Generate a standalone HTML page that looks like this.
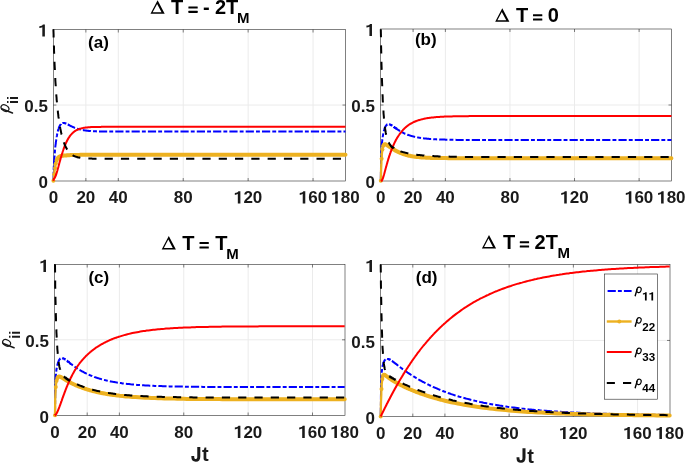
<!DOCTYPE html>
<html><head><meta charset="utf-8"><title>populations</title><style>
html,body{margin:0;padding:0;background:#fff;}
svg{display:block;will-change:transform;}
text{font-family:"Liberation Sans",sans-serif;}
</style></head><body>
<svg width="685" height="464" viewBox="0 0 685 464">
<rect width="685" height="464" fill="#fff"/>
<line x1="85.86" y1="29.50" x2="85.86" y2="181.00" stroke="#ebebeb" stroke-width="1"/>
<line x1="118.31" y1="29.50" x2="118.31" y2="181.00" stroke="#ebebeb" stroke-width="1"/>
<line x1="183.22" y1="29.50" x2="183.22" y2="181.00" stroke="#ebebeb" stroke-width="1"/>
<line x1="248.13" y1="29.50" x2="248.13" y2="181.00" stroke="#ebebeb" stroke-width="1"/>
<line x1="313.04" y1="29.50" x2="313.04" y2="181.00" stroke="#ebebeb" stroke-width="1"/>
<line x1="53.40" y1="105.05" x2="345.50" y2="105.05" stroke="#ebebeb" stroke-width="1"/>
<rect x="53.40" y="29.50" width="292.10" height="151.50" fill="none" stroke="#262626" stroke-width="0.58"/>
<line x1="85.86" y1="181.00" x2="85.86" y2="178.00" stroke="#262626" stroke-width="0.58"/>
<line x1="85.86" y1="29.50" x2="85.86" y2="32.50" stroke="#262626" stroke-width="0.58"/>
<line x1="118.31" y1="181.00" x2="118.31" y2="178.00" stroke="#262626" stroke-width="0.58"/>
<line x1="118.31" y1="29.50" x2="118.31" y2="32.50" stroke="#262626" stroke-width="0.58"/>
<line x1="183.22" y1="181.00" x2="183.22" y2="178.00" stroke="#262626" stroke-width="0.58"/>
<line x1="183.22" y1="29.50" x2="183.22" y2="32.50" stroke="#262626" stroke-width="0.58"/>
<line x1="248.13" y1="181.00" x2="248.13" y2="178.00" stroke="#262626" stroke-width="0.58"/>
<line x1="248.13" y1="29.50" x2="248.13" y2="32.50" stroke="#262626" stroke-width="0.58"/>
<line x1="313.04" y1="181.00" x2="313.04" y2="178.00" stroke="#262626" stroke-width="0.58"/>
<line x1="313.04" y1="29.50" x2="313.04" y2="32.50" stroke="#262626" stroke-width="0.58"/>
<line x1="53.40" y1="105.05" x2="56.40" y2="105.05" stroke="#262626" stroke-width="0.58"/>
<line x1="345.50" y1="105.05" x2="342.50" y2="105.05" stroke="#262626" stroke-width="0.58"/>
<path d="M53.4,180.8 L53.5,176.7 L53.6,173.5 L53.6,170.8 L53.7,168.6 L53.8,166.7 L53.9,165.0 L54.0,163.5 L54.0,162.1 L54.1,160.8 L54.2,159.6 L54.3,158.5 L54.4,157.4 L54.5,156.4 L54.5,155.4 L54.6,154.4 L54.7,153.5 L54.8,152.6 L54.9,151.7 L54.9,150.8 L55.0,150.0 L55.1,149.2 L55.2,148.4 L55.3,147.6 L55.3,146.9 L55.4,146.1 L55.5,145.4 L55.6,144.7 L55.7,144.0 L55.8,143.4 L55.8,142.7 L55.9,142.1 L56.0,141.5 L56.1,140.9 L56.2,140.3 L56.2,139.7 L56.3,139.2 L56.4,138.6 L56.5,138.1 L56.6,137.6 L56.6,137.1 L56.7,136.6 L56.8,136.2 L56.9,135.7 L57.0,135.3 L57.1,134.8 L57.1,134.4 L57.2,134.0 L57.3,133.6 L57.4,133.2 L57.5,132.8 L57.5,132.5 L57.6,132.1 L57.7,131.8 L57.8,131.4 L57.9,131.1 L57.9,130.8 L58.0,130.5 L58.1,130.2 L58.2,129.9 L58.3,129.6 L58.3,129.3 L58.4,129.1 L58.5,128.8 L58.6,128.6 L58.7,128.3 L58.8,128.1 L58.8,127.9 L58.9,127.7 L59.0,127.4 L59.1,127.2 L59.2,127.0 L59.2,126.8 L59.3,126.7 L59.4,126.5 L59.5,126.3 L59.6,126.1 L59.6,126.0 L59.7,125.8 L59.8,125.7 L59.9,125.5 L60.0,125.4 L60.1,125.3 L60.1,125.1 L60.2,125.0 L60.3,124.9 L60.4,124.8 L60.5,124.7 L60.5,124.6 L60.6,124.5 L60.7,124.4 L60.8,124.3 L60.9,124.2 L60.9,124.1 L61.0,124.0 L61.1,123.9 L61.2,123.9 L61.3,123.8 L61.4,123.7 L61.4,123.7 L61.5,123.6 L61.6,123.6 L61.7,123.5 L61.8,123.4 L61.8,123.4 L61.9,123.4 L62.0,123.3 L62.1,123.3 L62.2,123.2 L62.2,123.2 L62.3,123.2 L62.4,123.2 L62.5,123.1 L62.6,123.1 L62.6,123.1 L62.7,123.1 L62.8,123.0 L62.9,123.0 L63.0,123.0 L63.1,123.0 L63.1,123.0 L63.2,123.0 L63.3,123.0 L63.4,123.0 L63.5,123.0 L63.5,123.0 L63.6,123.0 L63.7,123.0 L63.8,123.0 L63.9,123.0 L63.9,123.0 L64.0,123.0 L64.1,123.0 L64.2,123.0 L64.3,123.1 L64.4,123.1 L64.4,123.1 L64.5,123.1 L64.6,123.1 L64.7,123.1 L64.8,123.2 L64.8,123.2 L64.9,123.2 L65.0,123.2 L65.1,123.3 L65.2,123.3 L65.2,123.3 L65.3,123.3 L65.4,123.4 L65.5,123.4 L65.6,123.4 L65.7,123.4 L65.7,123.5 L65.8,123.5 L65.9,123.5 L66.0,123.6 L66.1,123.6 L66.1,123.6 L66.2,123.7 L66.3,123.7 L66.4,123.7 L66.5,123.8 L66.5,123.8 L66.6,123.8 L66.7,123.9 L66.8,123.9 L66.9,124.0 L67.0,124.0 L67.0,124.0 L67.1,124.1 L67.2,124.1 L67.3,124.2 L67.4,124.2 L67.4,124.2 L67.5,124.3 L67.6,124.3 L67.7,124.4 L67.8,124.4 L67.8,124.4 L67.9,124.5 L68.0,124.5 L68.1,124.6 L68.2,124.6 L68.2,124.6 L68.3,124.7 L68.4,124.7 L68.5,124.8 L68.6,124.8 L68.7,124.9 L68.7,124.9 L68.8,124.9 L68.9,125.0 L69.0,125.0 L69.1,125.1 L69.1,125.1 L69.2,125.2 L69.3,125.2 L69.4,125.2 L69.5,125.3 L69.5,125.3 L69.6,125.4 L70.0,125.6 L70.4,125.8 L70.8,126.0 L71.3,126.2 L71.7,126.4 L72.1,126.6 L72.5,126.8 L72.9,127.0 L73.3,127.2 L73.7,127.4 L74.1,127.5 L74.5,127.7 L74.9,127.9 L75.3,128.0 L75.7,128.2 L76.1,128.3 L76.5,128.5 L76.9,128.6 L77.3,128.7 L77.7,128.9 L78.1,129.0 L78.6,129.1 L79.0,129.2 L79.4,129.3 L79.8,129.4 L80.2,129.5 L80.6,129.6 L81.0,129.7 L81.4,129.8 L81.8,129.9 L82.2,130.0 L82.6,130.1 L83.0,130.1 L83.4,130.2 L83.8,130.3 L84.2,130.3 L84.6,130.4 L85.0,130.5 L85.4,130.5 L85.9,130.6 L86.3,130.6 L86.7,130.7 L87.1,130.7 L87.5,130.8 L87.9,130.8 L88.3,130.8 L88.7,130.9 L89.1,130.9 L89.5,130.9 L89.9,131.0 L90.3,131.0 L90.7,131.0 L91.1,131.1 L91.5,131.1 L91.9,131.1 L92.3,131.1 L92.8,131.2 L93.2,131.2 L93.6,131.2 L94.0,131.2 L94.4,131.3 L94.8,131.3 L95.2,131.3 L95.6,131.3 L96.0,131.3 L96.4,131.3 L96.8,131.4 L97.2,131.4 L97.6,131.4 L98.0,131.4 L98.4,131.4 L98.8,131.4 L99.2,131.4 L99.6,131.4 L100.1,131.4 L100.5,131.5 L100.9,131.5 L101.3,131.5 L101.7,131.5 L102.1,131.5 L102.5,131.5 L102.9,131.5 L103.3,131.5 L103.7,131.5 L104.1,131.5 L104.5,131.5 L104.9,131.5 L105.3,131.5 L105.7,131.5 L106.1,131.5 L106.5,131.6 L107.0,131.6 L107.4,131.6 L107.8,131.6 L108.2,131.6 L108.6,131.6 L109.0,131.6 L109.4,131.6 L109.8,131.6 L110.2,131.6 L110.6,131.6 L111.0,131.6 L111.4,131.6 L111.8,131.6 L112.2,131.6 L112.6,131.6 L113.0,131.6 L113.4,131.6 L113.8,131.6 L114.3,131.6 L114.7,131.6 L115.1,131.6 L115.5,131.6 L115.9,131.6 L116.3,131.6 L116.7,131.6 L117.1,131.6 L117.5,131.6 L117.9,131.6 L118.3,131.6 L119.9,131.6 L121.6,131.6 L123.2,131.6 L124.8,131.6 L126.4,131.6 L128.0,131.6 L129.7,131.6 L131.3,131.6 L132.9,131.6 L134.5,131.6 L136.2,131.6 L137.8,131.6 L139.4,131.6 L141.0,131.6 L142.7,131.6 L144.3,131.6 L145.9,131.6 L147.5,131.6 L149.1,131.6 L150.8,131.6 L152.4,131.6 L154.0,131.6 L155.6,131.6 L157.3,131.6 L158.9,131.6 L160.5,131.6 L162.1,131.6 L163.7,131.6 L165.4,131.6 L167.0,131.6 L168.6,131.6 L170.2,131.6 L171.9,131.6 L173.5,131.6 L175.1,131.6 L176.7,131.6 L178.4,131.6 L180.0,131.6 L181.6,131.6 L183.2,131.6 L184.8,131.6 L186.5,131.6 L188.1,131.6 L189.7,131.6 L191.3,131.6 L193.0,131.6 L194.6,131.6 L196.2,131.6 L197.8,131.6 L199.5,131.6 L201.1,131.6 L202.7,131.6 L204.3,131.6 L205.9,131.6 L207.6,131.6 L209.2,131.6 L210.8,131.6 L212.4,131.6 L214.1,131.6 L215.7,131.6 L217.3,131.6 L218.9,131.6 L220.5,131.6 L222.2,131.6 L223.8,131.6 L225.4,131.6 L227.0,131.6 L228.7,131.6 L230.3,131.6 L231.9,131.6 L233.5,131.6 L235.2,131.6 L236.8,131.6 L238.4,131.6 L240.0,131.6 L241.6,131.6 L243.3,131.6 L244.9,131.6 L246.5,131.6 L248.1,131.6 L249.8,131.6 L251.4,131.6 L253.0,131.6 L254.6,131.6 L256.2,131.6 L257.9,131.6 L259.5,131.6 L261.1,131.6 L262.7,131.6 L264.4,131.6 L266.0,131.6 L267.6,131.6 L269.2,131.6 L270.9,131.6 L272.5,131.6 L274.1,131.6 L275.7,131.6 L277.3,131.6 L279.0,131.6 L280.6,131.6 L282.2,131.6 L283.8,131.6 L285.5,131.6 L287.1,131.6 L288.7,131.6 L290.3,131.6 L291.9,131.6 L293.6,131.6 L295.2,131.6 L296.8,131.6 L298.4,131.6 L300.1,131.6 L301.7,131.6 L303.3,131.6 L304.9,131.6 L306.6,131.6 L308.2,131.6 L309.8,131.6 L311.4,131.6 L313.0,131.6 L314.7,131.6 L316.3,131.6 L317.9,131.6 L319.5,131.6 L321.2,131.6 L322.8,131.6 L324.4,131.6 L326.0,131.6 L327.6,131.6 L329.3,131.6 L330.9,131.6 L332.5,131.6 L334.1,131.6 L335.8,131.6 L337.4,131.6 L339.0,131.6 L340.6,131.6 L342.3,131.6 L343.9,131.6 L345.5,131.6" stroke="#0000FF" stroke-width="2" stroke-dasharray="8.2 2.1 3.9 2.1" stroke-dashoffset="-0.8" fill="none"/>
<path d="M53.4,180.8 L53.5,180.3 L53.6,179.7 L53.6,179.1 L53.7,178.4 L53.8,177.8 L53.9,177.1 L54.0,176.4 L54.0,175.7 L54.1,175.0 L54.2,174.3 L54.3,173.6 L54.4,172.9 L54.5,172.3 L54.5,171.6 L54.6,171.0 L54.7,170.3 L54.8,169.7 L54.9,169.1 L54.9,168.6 L55.0,168.0 L55.1,167.5 L55.2,166.9 L55.3,166.4 L55.3,166.0 L55.4,165.5 L55.5,165.0 L55.6,164.6 L55.7,164.2 L55.8,163.8 L55.8,163.4 L55.9,163.0 L56.0,162.7 L56.1,162.4 L56.2,162.1 L56.2,161.7 L56.3,161.5 L56.4,161.2 L56.5,160.9 L56.6,160.7 L56.6,160.4 L56.7,160.2 L56.8,160.0 L56.9,159.8 L57.0,159.6 L57.1,159.4 L57.1,159.2 L57.2,159.0 L57.3,158.9 L57.4,158.7 L57.5,158.6 L57.5,158.4 L57.6,158.3 L57.7,158.2 L57.8,158.1 L57.9,157.9 L57.9,157.8 L58.0,157.7 L58.1,157.6 L58.2,157.5 L58.3,157.5 L58.3,157.4 L58.4,157.3 L58.5,157.2 L58.6,157.1 L58.7,157.1 L58.8,157.0 L58.8,157.0 L58.9,156.9 L59.0,156.8 L59.1,156.8 L59.2,156.7 L59.2,156.7 L59.3,156.6 L59.4,156.6 L59.5,156.6 L59.6,156.5 L59.6,156.5 L59.7,156.4 L59.8,156.4 L59.9,156.4 L60.0,156.3 L60.1,156.3 L60.1,156.3 L60.2,156.2 L60.3,156.2 L60.4,156.2 L60.5,156.2 L60.5,156.1 L60.6,156.1 L60.7,156.1 L60.8,156.1 L60.9,156.1 L60.9,156.0 L61.0,156.0 L61.1,156.0 L61.2,156.0 L61.3,156.0 L61.4,155.9 L61.4,155.9 L61.5,155.9 L61.6,155.9 L61.7,155.9 L61.8,155.9 L61.8,155.9 L61.9,155.8 L62.0,155.8 L62.1,155.8 L62.2,155.8 L62.2,155.8 L62.3,155.8 L62.4,155.8 L62.5,155.8 L62.6,155.7 L62.6,155.7 L62.7,155.7 L62.8,155.7 L62.9,155.7 L63.0,155.7 L63.1,155.7 L63.1,155.7 L63.2,155.7 L63.3,155.6 L63.4,155.6 L63.5,155.6 L63.5,155.6 L63.6,155.6 L63.7,155.6 L63.8,155.6 L63.9,155.6 L63.9,155.6 L64.0,155.6 L64.1,155.6 L64.2,155.6 L64.3,155.5 L64.4,155.5 L64.4,155.5 L64.5,155.5 L64.6,155.5 L64.7,155.5 L64.8,155.5 L64.8,155.5 L64.9,155.5 L65.0,155.5 L65.1,155.5 L65.2,155.5 L65.2,155.5 L65.3,155.5 L65.4,155.4 L65.5,155.4 L65.6,155.4 L65.7,155.4 L65.7,155.4 L65.8,155.4 L65.9,155.4 L66.0,155.4 L66.1,155.4 L66.1,155.4 L66.2,155.4 L66.3,155.4 L66.4,155.4 L66.5,155.4 L66.5,155.4 L66.6,155.4 L66.7,155.3 L66.8,155.3 L66.9,155.3 L67.0,155.3 L67.0,155.3 L67.1,155.3 L67.2,155.3 L67.3,155.3 L67.4,155.3 L67.4,155.3 L67.5,155.3 L67.6,155.3 L67.7,155.3 L67.8,155.3 L67.8,155.3 L67.9,155.3 L68.0,155.3 L68.1,155.3 L68.2,155.3 L68.2,155.2 L68.3,155.2 L68.4,155.2 L68.5,155.2 L68.6,155.2 L68.7,155.2 L68.7,155.2 L68.8,155.2 L68.9,155.2 L69.0,155.2 L69.1,155.2 L69.1,155.2 L69.2,155.2 L69.3,155.2 L69.4,155.2 L69.5,155.2 L69.5,155.2 L69.6,155.2 L70.0,155.2 L70.4,155.1 L70.8,155.1 L71.3,155.1 L71.7,155.1 L72.1,155.1 L72.5,155.0 L72.9,155.0 L73.3,155.0 L73.7,155.0 L74.1,155.0 L74.5,155.0 L74.9,155.0 L75.3,155.0 L75.7,154.9 L76.1,154.9 L76.5,154.9 L76.9,154.9 L77.3,154.9 L77.7,154.9 L78.1,154.9 L78.6,154.9 L79.0,154.9 L79.4,154.9 L79.8,154.8 L80.2,154.8 L80.6,154.8 L81.0,154.8 L81.4,154.8 L81.8,154.8 L82.2,154.8 L82.6,154.8 L83.0,154.8 L83.4,154.8 L83.8,154.8 L84.2,154.8 L84.6,154.8 L85.0,154.8 L85.4,154.8 L85.9,154.8 L86.3,154.8 L86.7,154.8 L87.1,154.8 L87.5,154.7 L87.9,154.7 L88.3,154.7 L88.7,154.7 L89.1,154.7 L89.5,154.7 L89.9,154.7 L90.3,154.7 L90.7,154.7 L91.1,154.7 L91.5,154.7 L91.9,154.7 L92.3,154.7 L92.8,154.7 L93.2,154.7 L93.6,154.7 L94.0,154.7 L94.4,154.7 L94.8,154.7 L95.2,154.7 L95.6,154.7 L96.0,154.7 L96.4,154.7 L96.8,154.7 L97.2,154.7 L97.6,154.7 L98.0,154.7 L98.4,154.7 L98.8,154.7 L99.2,154.7 L99.6,154.7 L100.1,154.7 L100.5,154.7 L100.9,154.7 L101.3,154.7 L101.7,154.7 L102.1,154.7 L102.5,154.7 L102.9,154.7 L103.3,154.7 L103.7,154.7 L104.1,154.7 L104.5,154.7 L104.9,154.7 L105.3,154.7 L105.7,154.7 L106.1,154.7 L106.5,154.7 L107.0,154.7 L107.4,154.7 L107.8,154.7 L108.2,154.7 L108.6,154.7 L109.0,154.7 L109.4,154.7 L109.8,154.7 L110.2,154.7 L110.6,154.7 L111.0,154.7 L111.4,154.7 L111.8,154.7 L112.2,154.7 L112.6,154.7 L113.0,154.7 L113.4,154.7 L113.8,154.7 L114.3,154.7 L114.7,154.7 L115.1,154.7 L115.5,154.7 L115.9,154.7 L116.3,154.7 L116.7,154.7 L117.1,154.7 L117.5,154.7 L117.9,154.7 L118.3,154.7 L119.9,154.7 L121.6,154.7 L123.2,154.7 L124.8,154.7 L126.4,154.7 L128.0,154.7 L129.7,154.7 L131.3,154.7 L132.9,154.7 L134.5,154.7 L136.2,154.7 L137.8,154.7 L139.4,154.7 L141.0,154.7 L142.7,154.7 L144.3,154.7 L145.9,154.7 L147.5,154.7 L149.1,154.7 L150.8,154.7 L152.4,154.7 L154.0,154.7 L155.6,154.7 L157.3,154.7 L158.9,154.7 L160.5,154.7 L162.1,154.7 L163.7,154.7 L165.4,154.7 L167.0,154.7 L168.6,154.7 L170.2,154.7 L171.9,154.7 L173.5,154.7 L175.1,154.7 L176.7,154.7 L178.4,154.7 L180.0,154.7 L181.6,154.7 L183.2,154.7 L184.8,154.7 L186.5,154.7 L188.1,154.7 L189.7,154.7 L191.3,154.7 L193.0,154.7 L194.6,154.7 L196.2,154.7 L197.8,154.7 L199.5,154.7 L201.1,154.7 L202.7,154.7 L204.3,154.7 L205.9,154.7 L207.6,154.7 L209.2,154.7 L210.8,154.7 L212.4,154.7 L214.1,154.7 L215.7,154.7 L217.3,154.7 L218.9,154.7 L220.5,154.7 L222.2,154.7 L223.8,154.7 L225.4,154.7 L227.0,154.7 L228.7,154.7 L230.3,154.7 L231.9,154.7 L233.5,154.7 L235.2,154.7 L236.8,154.7 L238.4,154.7 L240.0,154.7 L241.6,154.7 L243.3,154.7 L244.9,154.7 L246.5,154.7 L248.1,154.7 L249.8,154.7 L251.4,154.7 L253.0,154.7 L254.6,154.7 L256.2,154.7 L257.9,154.7 L259.5,154.7 L261.1,154.7 L262.7,154.7 L264.4,154.7 L266.0,154.7 L267.6,154.7 L269.2,154.7 L270.9,154.7 L272.5,154.7 L274.1,154.7 L275.7,154.7 L277.3,154.7 L279.0,154.7 L280.6,154.7 L282.2,154.7 L283.8,154.7 L285.5,154.7 L287.1,154.7 L288.7,154.7 L290.3,154.7 L291.9,154.7 L293.6,154.7 L295.2,154.7 L296.8,154.7 L298.4,154.7 L300.1,154.7 L301.7,154.7 L303.3,154.7 L304.9,154.7 L306.6,154.7 L308.2,154.7 L309.8,154.7 L311.4,154.7 L313.0,154.7 L314.7,154.7 L316.3,154.7 L317.9,154.7 L319.5,154.7 L321.2,154.7 L322.8,154.7 L324.4,154.7 L326.0,154.7 L327.6,154.7 L329.3,154.7 L330.9,154.7 L332.5,154.7 L334.1,154.7 L335.8,154.7 L337.4,154.7 L339.0,154.7 L340.6,154.7 L342.3,154.7 L343.9,154.7 L345.5,154.7" stroke="#EDB120" stroke-width="2.3" stroke-linejoin="round" stroke-linecap="round" fill="none"/><circle cx="53.40" cy="180.80" r="2.0" fill="#EDB120"/><circle cx="54.21" cy="174.30" r="2.0" fill="#EDB120"/><circle cx="55.02" cy="168.00" r="2.0" fill="#EDB120"/><circle cx="55.83" cy="163.41" r="2.0" fill="#EDB120"/><path d="M56.6,160.4 L56.8,160.0 L57.0,159.6 L57.1,159.2 L57.3,158.9 L57.5,158.6 L57.6,158.3 L57.8,158.1 L57.9,157.8 L58.1,157.6 L58.3,157.5 L58.4,157.3 L58.6,157.1 L58.8,157.0 L58.9,156.9 L59.1,156.8 L59.2,156.7 L59.4,156.6 L59.6,156.5 L59.7,156.4 L59.9,156.4 L60.1,156.3 L60.2,156.2 L60.4,156.2 L60.5,156.1 L60.7,156.1 L60.9,156.1 L61.0,156.0 L61.2,156.0 L61.4,155.9 L61.5,155.9 L61.7,155.9 L61.8,155.9 L62.0,155.8 L62.2,155.8 L62.3,155.8 L62.5,155.8 L62.6,155.7 L62.8,155.7 L63.0,155.7 L63.1,155.7 L63.3,155.6 L63.5,155.6 L63.6,155.6 L63.8,155.6 L63.9,155.6 L64.1,155.6 L64.3,155.5 L64.4,155.5 L64.6,155.5 L64.8,155.5 L64.9,155.5 L65.1,155.5 L65.2,155.5 L65.4,155.4 L65.6,155.4 L65.7,155.4 L65.9,155.4 L66.1,155.4 L66.2,155.4 L66.4,155.4 L66.5,155.4 L66.7,155.3 L66.9,155.3 L67.0,155.3 L67.2,155.3 L67.4,155.3 L67.5,155.3 L67.7,155.3 L67.8,155.3 L68.0,155.3 L68.2,155.3 L68.3,155.2 L68.5,155.2 L68.7,155.2 L68.8,155.2 L69.0,155.2 L69.1,155.2 L69.3,155.2 L69.5,155.2 L69.6,155.2 L70.4,155.1 L71.3,155.1 L72.1,155.1 L72.9,155.0 L73.7,155.0 L74.5,155.0 L75.3,155.0 L76.1,154.9 L76.9,154.9 L77.7,154.9 L78.6,154.9 L79.4,154.9 L80.2,154.8 L81.0,154.8 L81.8,154.8 L82.6,154.8 L83.4,154.8 L84.2,154.8 L85.0,154.8 L85.9,154.8 L86.7,154.8 L87.5,154.7 L88.3,154.7 L89.1,154.7 L89.9,154.7 L90.7,154.7 L91.5,154.7 L92.3,154.7 L93.2,154.7 L94.0,154.7 L94.8,154.7 L95.6,154.7 L96.4,154.7 L97.2,154.7 L98.0,154.7 L98.8,154.7 L99.6,154.7 L100.5,154.7 L101.3,154.7 L102.1,154.7 L102.9,154.7 L103.7,154.7 L104.5,154.7 L105.3,154.7 L106.1,154.7 L107.0,154.7 L107.8,154.7 L108.6,154.7 L109.4,154.7 L110.2,154.7 L111.0,154.7 L111.8,154.7 L112.6,154.7 L113.4,154.7 L114.3,154.7 L115.1,154.7 L115.9,154.7 L116.7,154.7 L117.5,154.7 L118.3,154.7 L121.6,154.7 L124.8,154.7 L128.0,154.7 L131.3,154.7 L134.5,154.7 L137.8,154.7 L141.0,154.7 L144.3,154.7 L147.5,154.7 L150.8,154.7 L154.0,154.7 L157.3,154.7 L160.5,154.7 L163.7,154.7 L167.0,154.7 L170.2,154.7 L173.5,154.7 L176.7,154.7 L180.0,154.7 L183.2,154.7 L186.5,154.7 L189.7,154.7 L193.0,154.7 L196.2,154.7 L199.5,154.7 L202.7,154.7 L205.9,154.7 L209.2,154.7 L212.4,154.7 L215.7,154.7 L218.9,154.7 L222.2,154.7 L225.4,154.7 L228.7,154.7 L231.9,154.7 L235.2,154.7 L238.4,154.7 L241.6,154.7 L244.9,154.7 L248.1,154.7 L251.4,154.7 L254.6,154.7 L257.9,154.7 L261.1,154.7 L264.4,154.7 L267.6,154.7 L270.9,154.7 L274.1,154.7 L277.3,154.7 L280.6,154.7 L283.8,154.7 L287.1,154.7 L290.3,154.7 L293.6,154.7 L296.8,154.7 L300.1,154.7 L303.3,154.7 L306.6,154.7 L309.8,154.7 L313.0,154.7 L316.3,154.7 L319.5,154.7 L322.8,154.7 L326.0,154.7 L329.3,154.7 L332.5,154.7 L335.8,154.7 L339.0,154.7 L342.3,154.7 L345.5,154.7" stroke="#EDB120" stroke-width="4.0" stroke-linejoin="round" stroke-linecap="round" fill="none"/>
<path d="M53.4,180.8 L53.5,180.2 L53.6,179.7 L53.6,179.4 L53.7,179.2 L53.8,179.0 L53.9,178.9 L54.0,178.8 L54.0,178.7 L54.1,178.6 L54.2,178.5 L54.3,178.4 L54.4,178.3 L54.5,178.2 L54.5,178.1 L54.6,178.0 L54.7,177.9 L54.8,177.7 L54.9,177.6 L54.9,177.5 L55.0,177.3 L55.1,177.1 L55.2,177.0 L55.3,176.8 L55.3,176.6 L55.4,176.4 L55.5,176.2 L55.6,176.0 L55.7,175.8 L55.8,175.6 L55.8,175.4 L55.9,175.2 L56.0,175.0 L56.1,174.7 L56.2,174.5 L56.2,174.2 L56.3,174.0 L56.4,173.7 L56.5,173.5 L56.6,173.2 L56.6,173.0 L56.7,172.7 L56.8,172.4 L56.9,172.2 L57.0,171.9 L57.1,171.6 L57.1,171.3 L57.2,171.1 L57.3,170.8 L57.4,170.5 L57.5,170.2 L57.5,169.9 L57.6,169.6 L57.7,169.3 L57.8,169.0 L57.9,168.7 L57.9,168.4 L58.0,168.1 L58.1,167.9 L58.2,167.6 L58.3,167.3 L58.3,167.0 L58.4,166.7 L58.5,166.3 L58.6,166.0 L58.7,165.7 L58.8,165.4 L58.8,165.1 L58.9,164.8 L59.0,164.5 L59.1,164.2 L59.2,163.9 L59.2,163.6 L59.3,163.3 L59.4,163.0 L59.5,162.7 L59.6,162.4 L59.6,162.1 L59.7,161.8 L59.8,161.5 L59.9,161.2 L60.0,160.9 L60.1,160.6 L60.1,160.3 L60.2,160.0 L60.3,159.8 L60.4,159.5 L60.5,159.2 L60.5,158.9 L60.6,158.6 L60.7,158.3 L60.8,158.0 L60.9,157.7 L60.9,157.5 L61.0,157.2 L61.1,156.9 L61.2,156.6 L61.3,156.3 L61.4,156.1 L61.4,155.8 L61.5,155.5 L61.6,155.2 L61.7,155.0 L61.8,154.7 L61.8,154.4 L61.9,154.2 L62.0,153.9 L62.1,153.6 L62.2,153.4 L62.2,153.1 L62.3,152.8 L62.4,152.6 L62.5,152.3 L62.6,152.1 L62.6,151.8 L62.7,151.6 L62.8,151.3 L62.9,151.1 L63.0,150.8 L63.1,150.6 L63.1,150.4 L63.2,150.1 L63.3,149.9 L63.4,149.6 L63.5,149.4 L63.5,149.2 L63.6,148.9 L63.7,148.7 L63.8,148.5 L63.9,148.3 L63.9,148.0 L64.0,147.8 L64.1,147.6 L64.2,147.4 L64.3,147.2 L64.4,146.9 L64.4,146.7 L64.5,146.5 L64.6,146.3 L64.7,146.1 L64.8,145.9 L64.8,145.7 L64.9,145.5 L65.0,145.3 L65.1,145.1 L65.2,144.9 L65.2,144.7 L65.3,144.5 L65.4,144.3 L65.5,144.1 L65.6,143.9 L65.7,143.7 L65.7,143.5 L65.8,143.4 L65.9,143.2 L66.0,143.0 L66.1,142.8 L66.1,142.6 L66.2,142.5 L66.3,142.3 L66.4,142.1 L66.5,142.0 L66.5,141.8 L66.6,141.6 L66.7,141.4 L66.8,141.3 L66.9,141.1 L67.0,141.0 L67.0,140.8 L67.1,140.6 L67.2,140.5 L67.3,140.3 L67.4,140.2 L67.4,140.0 L67.5,139.9 L67.6,139.7 L67.7,139.6 L67.8,139.4 L67.8,139.3 L67.9,139.1 L68.0,139.0 L68.1,138.9 L68.2,138.7 L68.2,138.6 L68.3,138.4 L68.4,138.3 L68.5,138.2 L68.6,138.0 L68.7,137.9 L68.7,137.8 L68.8,137.7 L68.9,137.5 L69.0,137.4 L69.1,137.3 L69.1,137.2 L69.2,137.0 L69.3,136.9 L69.4,136.8 L69.5,136.7 L69.5,136.6 L69.6,136.5 L70.0,135.9 L70.4,135.4 L70.8,134.9 L71.3,134.4 L71.7,133.9 L72.1,133.5 L72.5,133.1 L72.9,132.7 L73.3,132.4 L73.7,132.1 L74.1,131.7 L74.5,131.4 L74.9,131.2 L75.3,130.9 L75.7,130.6 L76.1,130.4 L76.5,130.2 L76.9,130.0 L77.3,129.8 L77.7,129.6 L78.1,129.4 L78.6,129.3 L79.0,129.1 L79.4,129.0 L79.8,128.8 L80.2,128.7 L80.6,128.6 L81.0,128.5 L81.4,128.4 L81.8,128.3 L82.2,128.2 L82.6,128.1 L83.0,128.0 L83.4,127.9 L83.8,127.8 L84.2,127.8 L84.6,127.7 L85.0,127.7 L85.4,127.6 L85.9,127.5 L86.3,127.5 L86.7,127.5 L87.1,127.4 L87.5,127.4 L87.9,127.3 L88.3,127.3 L88.7,127.3 L89.1,127.2 L89.5,127.2 L89.9,127.2 L90.3,127.2 L90.7,127.1 L91.1,127.1 L91.5,127.1 L91.9,127.1 L92.3,127.0 L92.8,127.0 L93.2,127.0 L93.6,127.0 L94.0,127.0 L94.4,127.0 L94.8,127.0 L95.2,127.0 L95.6,126.9 L96.0,126.9 L96.4,126.9 L96.8,126.9 L97.2,126.9 L97.6,126.9 L98.0,126.9 L98.4,126.9 L98.8,126.9 L99.2,126.9 L99.6,126.9 L100.1,126.9 L100.5,126.9 L100.9,126.9 L101.3,126.8 L101.7,126.8 L102.1,126.8 L102.5,126.8 L102.9,126.8 L103.3,126.8 L103.7,126.8 L104.1,126.8 L104.5,126.8 L104.9,126.8 L105.3,126.8 L105.7,126.8 L106.1,126.8 L106.5,126.8 L107.0,126.8 L107.4,126.8 L107.8,126.8 L108.2,126.8 L108.6,126.8 L109.0,126.8 L109.4,126.8 L109.8,126.8 L110.2,126.8 L110.6,126.8 L111.0,126.8 L111.4,126.8 L111.8,126.8 L112.2,126.8 L112.6,126.8 L113.0,126.8 L113.4,126.8 L113.8,126.8 L114.3,126.8 L114.7,126.8 L115.1,126.8 L115.5,126.8 L115.9,126.8 L116.3,126.8 L116.7,126.8 L117.1,126.8 L117.5,126.8 L117.9,126.8 L118.3,126.8 L119.9,126.8 L121.6,126.8 L123.2,126.8 L124.8,126.8 L126.4,126.8 L128.0,126.8 L129.7,126.8 L131.3,126.8 L132.9,126.8 L134.5,126.8 L136.2,126.8 L137.8,126.8 L139.4,126.8 L141.0,126.8 L142.7,126.8 L144.3,126.8 L145.9,126.8 L147.5,126.8 L149.1,126.8 L150.8,126.8 L152.4,126.8 L154.0,126.8 L155.6,126.8 L157.3,126.8 L158.9,126.8 L160.5,126.8 L162.1,126.8 L163.7,126.8 L165.4,126.8 L167.0,126.8 L168.6,126.8 L170.2,126.8 L171.9,126.8 L173.5,126.8 L175.1,126.8 L176.7,126.8 L178.4,126.8 L180.0,126.8 L181.6,126.8 L183.2,126.8 L184.8,126.8 L186.5,126.8 L188.1,126.8 L189.7,126.8 L191.3,126.8 L193.0,126.8 L194.6,126.8 L196.2,126.8 L197.8,126.8 L199.5,126.8 L201.1,126.8 L202.7,126.8 L204.3,126.8 L205.9,126.8 L207.6,126.8 L209.2,126.8 L210.8,126.8 L212.4,126.8 L214.1,126.8 L215.7,126.8 L217.3,126.8 L218.9,126.8 L220.5,126.8 L222.2,126.8 L223.8,126.8 L225.4,126.8 L227.0,126.8 L228.7,126.8 L230.3,126.8 L231.9,126.8 L233.5,126.8 L235.2,126.8 L236.8,126.8 L238.4,126.8 L240.0,126.8 L241.6,126.8 L243.3,126.8 L244.9,126.8 L246.5,126.8 L248.1,126.8 L249.8,126.8 L251.4,126.8 L253.0,126.8 L254.6,126.8 L256.2,126.8 L257.9,126.8 L259.5,126.8 L261.1,126.8 L262.7,126.8 L264.4,126.8 L266.0,126.8 L267.6,126.8 L269.2,126.8 L270.9,126.8 L272.5,126.8 L274.1,126.8 L275.7,126.8 L277.3,126.8 L279.0,126.8 L280.6,126.8 L282.2,126.8 L283.8,126.8 L285.5,126.8 L287.1,126.8 L288.7,126.8 L290.3,126.8 L291.9,126.8 L293.6,126.8 L295.2,126.8 L296.8,126.8 L298.4,126.8 L300.1,126.8 L301.7,126.8 L303.3,126.8 L304.9,126.8 L306.6,126.8 L308.2,126.8 L309.8,126.8 L311.4,126.8 L313.0,126.8 L314.7,126.8 L316.3,126.8 L317.9,126.8 L319.5,126.8 L321.2,126.8 L322.8,126.8 L324.4,126.8 L326.0,126.8 L327.6,126.8 L329.3,126.8 L330.9,126.8 L332.5,126.8 L334.1,126.8 L335.8,126.8 L337.4,126.8 L339.0,126.8 L340.6,126.8 L342.3,126.8 L343.9,126.8 L345.5,126.8" stroke="#FF0000" stroke-width="2" fill="none"/>
<path d="M53.4,29.3 L53.5,32.1 L53.6,34.8 L53.6,37.4 L53.7,40.0 L53.8,42.6 L53.9,45.0 L54.0,47.5 L54.0,49.8 L54.1,52.1 L54.2,54.3 L54.3,56.5 L54.4,58.6 L54.5,60.7 L54.5,62.7 L54.6,64.6 L54.7,66.5 L54.8,68.3 L54.9,70.1 L54.9,71.8 L55.0,73.5 L55.1,75.2 L55.2,76.8 L55.3,78.3 L55.3,79.8 L55.4,81.3 L55.5,82.7 L55.6,84.1 L55.7,85.4 L55.8,86.7 L55.8,88.0 L55.9,89.2 L56.0,90.4 L56.1,91.6 L56.2,92.8 L56.2,93.9 L56.3,95.0 L56.4,96.1 L56.5,97.1 L56.6,98.1 L56.6,99.1 L56.7,100.1 L56.8,101.0 L56.9,101.9 L57.0,102.8 L57.1,103.7 L57.1,104.6 L57.2,105.5 L57.3,106.3 L57.4,107.1 L57.5,107.9 L57.5,108.7 L57.6,109.4 L57.7,110.2 L57.8,110.9 L57.9,111.6 L57.9,112.4 L58.0,113.0 L58.1,113.7 L58.2,114.4 L58.3,115.1 L58.3,115.7 L58.4,116.3 L58.5,117.0 L58.6,117.6 L58.7,118.2 L58.8,118.8 L58.8,119.3 L58.9,119.9 L59.0,120.5 L59.1,121.0 L59.2,121.6 L59.2,122.1 L59.3,122.6 L59.4,123.2 L59.5,123.7 L59.6,124.2 L59.6,124.7 L59.7,125.1 L59.8,125.6 L59.9,126.1 L60.0,126.6 L60.1,127.0 L60.1,127.5 L60.2,127.9 L60.3,128.3 L60.4,128.8 L60.5,129.2 L60.5,129.6 L60.6,130.0 L60.7,130.4 L60.8,130.8 L60.9,131.2 L60.9,131.6 L61.0,132.0 L61.1,132.4 L61.2,132.7 L61.3,133.1 L61.4,133.4 L61.4,133.8 L61.5,134.2 L61.6,134.5 L61.7,134.8 L61.8,135.2 L61.8,135.5 L61.9,135.8 L62.0,136.1 L62.1,136.5 L62.2,136.8 L62.2,137.1 L62.3,137.4 L62.4,137.7 L62.5,138.0 L62.6,138.3 L62.6,138.5 L62.7,138.8 L62.8,139.1 L62.9,139.4 L63.0,139.7 L63.1,139.9 L63.1,140.2 L63.2,140.4 L63.3,140.7 L63.4,140.9 L63.5,141.2 L63.5,141.4 L63.6,141.7 L63.7,141.9 L63.8,142.2 L63.9,142.4 L63.9,142.6 L64.0,142.8 L64.1,143.1 L64.2,143.3 L64.3,143.5 L64.4,143.7 L64.4,143.9 L64.5,144.1 L64.6,144.3 L64.7,144.5 L64.8,144.7 L64.8,144.9 L64.9,145.1 L65.0,145.3 L65.1,145.5 L65.2,145.7 L65.2,145.9 L65.3,146.0 L65.4,146.2 L65.5,146.4 L65.6,146.6 L65.7,146.7 L65.7,146.9 L65.8,147.1 L65.9,147.2 L66.0,147.4 L66.1,147.5 L66.1,147.7 L66.2,147.8 L66.3,148.0 L66.4,148.1 L66.5,148.3 L66.5,148.4 L66.6,148.6 L66.7,148.7 L66.8,148.9 L66.9,149.0 L67.0,149.1 L67.0,149.3 L67.1,149.4 L67.2,149.5 L67.3,149.7 L67.4,149.8 L67.4,149.9 L67.5,150.0 L67.6,150.2 L67.7,150.3 L67.8,150.4 L67.8,150.5 L67.9,150.6 L68.0,150.7 L68.1,150.9 L68.2,151.0 L68.2,151.1 L68.3,151.2 L68.4,151.3 L68.5,151.4 L68.6,151.5 L68.7,151.6 L68.7,151.7 L68.8,151.8 L68.9,151.9 L69.0,152.0 L69.1,152.1 L69.1,152.2 L69.2,152.3 L69.3,152.4 L69.4,152.4 L69.5,152.5 L69.5,152.6 L69.6,152.7 L70.0,153.1 L70.4,153.5 L70.8,153.8 L71.3,154.2 L71.7,154.5 L72.1,154.8 L72.5,155.0 L72.9,155.3 L73.3,155.5 L73.7,155.8 L74.1,156.0 L74.5,156.1 L74.9,156.3 L75.3,156.5 L75.7,156.6 L76.1,156.8 L76.5,156.9 L76.9,157.0 L77.3,157.2 L77.7,157.3 L78.1,157.4 L78.6,157.5 L79.0,157.6 L79.4,157.6 L79.8,157.7 L80.2,157.8 L80.6,157.9 L81.0,157.9 L81.4,158.0 L81.8,158.0 L82.2,158.1 L82.6,158.1 L83.0,158.2 L83.4,158.2 L83.8,158.2 L84.2,158.3 L84.6,158.3 L85.0,158.3 L85.4,158.4 L85.9,158.4 L86.3,158.4 L86.7,158.4 L87.1,158.5 L87.5,158.5 L87.9,158.5 L88.3,158.5 L88.7,158.5 L89.1,158.6 L89.5,158.6 L89.9,158.6 L90.3,158.6 L90.7,158.6 L91.1,158.6 L91.5,158.6 L91.9,158.6 L92.3,158.7 L92.8,158.7 L93.2,158.7 L93.6,158.7 L94.0,158.7 L94.4,158.7 L94.8,158.7 L95.2,158.7 L95.6,158.7 L96.0,158.7 L96.4,158.7 L96.8,158.7 L97.2,158.7 L97.6,158.7 L98.0,158.7 L98.4,158.7 L98.8,158.7 L99.2,158.7 L99.6,158.7 L100.1,158.7 L100.5,158.7 L100.9,158.7 L101.3,158.7 L101.7,158.7 L102.1,158.7 L102.5,158.8 L102.9,158.8 L103.3,158.8 L103.7,158.8 L104.1,158.8 L104.5,158.8 L104.9,158.8 L105.3,158.8 L105.7,158.8 L106.1,158.8 L106.5,158.8 L107.0,158.8 L107.4,158.8 L107.8,158.8 L108.2,158.8 L108.6,158.8 L109.0,158.8 L109.4,158.8 L109.8,158.8 L110.2,158.8 L110.6,158.8 L111.0,158.8 L111.4,158.8 L111.8,158.8 L112.2,158.8 L112.6,158.8 L113.0,158.8 L113.4,158.8 L113.8,158.8 L114.3,158.8 L114.7,158.8 L115.1,158.8 L115.5,158.8 L115.9,158.8 L116.3,158.8 L116.7,158.8 L117.1,158.8 L117.5,158.8 L117.9,158.8 L118.3,158.8 L119.9,158.8 L121.6,158.8 L123.2,158.8 L124.8,158.8 L126.4,158.8 L128.0,158.8 L129.7,158.8 L131.3,158.8 L132.9,158.8 L134.5,158.8 L136.2,158.8 L137.8,158.8 L139.4,158.8 L141.0,158.8 L142.7,158.8 L144.3,158.8 L145.9,158.8 L147.5,158.8 L149.1,158.8 L150.8,158.8 L152.4,158.8 L154.0,158.8 L155.6,158.8 L157.3,158.8 L158.9,158.8 L160.5,158.8 L162.1,158.8 L163.7,158.8 L165.4,158.8 L167.0,158.8 L168.6,158.8 L170.2,158.8 L171.9,158.8 L173.5,158.8 L175.1,158.8 L176.7,158.8 L178.4,158.8 L180.0,158.8 L181.6,158.8 L183.2,158.8 L184.8,158.8 L186.5,158.8 L188.1,158.8 L189.7,158.8 L191.3,158.8 L193.0,158.8 L194.6,158.8 L196.2,158.8 L197.8,158.8 L199.5,158.8 L201.1,158.8 L202.7,158.8 L204.3,158.8 L205.9,158.8 L207.6,158.8 L209.2,158.8 L210.8,158.8 L212.4,158.8 L214.1,158.8 L215.7,158.8 L217.3,158.8 L218.9,158.8 L220.5,158.8 L222.2,158.8 L223.8,158.8 L225.4,158.8 L227.0,158.8 L228.7,158.8 L230.3,158.8 L231.9,158.8 L233.5,158.8 L235.2,158.8 L236.8,158.8 L238.4,158.8 L240.0,158.8 L241.6,158.8 L243.3,158.8 L244.9,158.8 L246.5,158.8 L248.1,158.8 L249.8,158.8 L251.4,158.8 L253.0,158.8 L254.6,158.8 L256.2,158.8 L257.9,158.8 L259.5,158.8 L261.1,158.8 L262.7,158.8 L264.4,158.8 L266.0,158.8 L267.6,158.8 L269.2,158.8 L270.9,158.8 L272.5,158.8 L274.1,158.8 L275.7,158.8 L277.3,158.8 L279.0,158.8 L280.6,158.8 L282.2,158.8 L283.8,158.8 L285.5,158.8 L287.1,158.8 L288.7,158.8 L290.3,158.8 L291.9,158.8 L293.6,158.8 L295.2,158.8 L296.8,158.8 L298.4,158.8 L300.1,158.8 L301.7,158.8 L303.3,158.8 L304.9,158.8 L306.6,158.8 L308.2,158.8 L309.8,158.8 L311.4,158.8 L313.0,158.8 L314.7,158.8 L316.3,158.8 L317.9,158.8 L319.5,158.8 L321.2,158.8 L322.8,158.8 L324.4,158.8 L326.0,158.8 L327.6,158.8 L329.3,158.8 L330.9,158.8 L332.5,158.8 L334.1,158.8 L335.8,158.8 L337.4,158.8 L339.0,158.8 L340.6,158.8 L342.3,158.8 L343.9,158.8 L345.5,158.8" stroke="#000000" stroke-width="2" stroke-dasharray="8.2 8.1" stroke-dashoffset="0.1" fill="none"/>
<text x="48.67" y="203.40" style="font-size:17px;font-weight:bold;fill:#1a1a1a">0</text>
<text x="76.40" y="203.40" style="font-size:17px;font-weight:bold;fill:#1a1a1a">20</text>
<text x="108.86" y="203.40" style="font-size:17px;font-weight:bold;fill:#1a1a1a">40</text>
<text x="173.77" y="203.40" style="font-size:17px;font-weight:bold;fill:#1a1a1a">80</text>
<path d="M228,0 L378,0 L378,710 L262,710 C232,652 155,622 52,612 L52,500 C122,505 182,520 228,548 Z" transform="translate(233.95,203.40) scale(0.01700,-0.01700)" fill="#1a1a1a"/><text x="243.41" y="203.40" style="font-size:17px;font-weight:bold;fill:#1a1a1a">20</text>
<path d="M228,0 L378,0 L378,710 L262,710 C232,652 155,622 52,612 L52,500 C122,505 182,520 228,548 Z" transform="translate(298.86,203.40) scale(0.01700,-0.01700)" fill="#1a1a1a"/><text x="308.32" y="203.40" style="font-size:17px;font-weight:bold;fill:#1a1a1a">60</text>
<path d="M228,0 L378,0 L378,710 L262,710 C232,652 155,622 52,612 L52,500 C122,505 182,520 228,548 Z" transform="translate(331.32,203.40) scale(0.01700,-0.01700)" fill="#1a1a1a"/><text x="340.77" y="203.40" style="font-size:17px;font-weight:bold;fill:#1a1a1a">80</text>
<text x="38.45" y="188.10" style="font-size:17px;font-weight:bold;fill:#1a1a1a">0</text>
<text x="24.27" y="112.35" style="font-size:17px;font-weight:bold;fill:#1a1a1a">0.5</text>
<path d="M228,0 L378,0 L378,710 L262,710 C232,652 155,622 52,612 L52,500 C122,505 182,520 228,548 Z" transform="translate(38.45,36.60) scale(0.01700,-0.01700)" fill="#1a1a1a"/>
<text x="88.10" y="48.00" style="font-size:17px;font-weight:bold;fill:#000">(a)</text>
<path d="M150.50,13.80 L164.70,13.80 L157.60,0.30 Z M152.70,12.30 L157.12,3.90 L161.54,12.30 Z" fill="#000" fill-rule="evenodd"/>
<text x="170.90" y="13.90" style="font-size:20px;font-weight:bold;fill:#000">T</text>
<rect x="188.40" y="6.45" width="9.3" height="2.05" rx="0.3" fill="#000"/><rect x="188.40" y="10.85" width="9.3" height="2.05" rx="0.3" fill="#000"/>
<text x="203.10" y="13.90" style="font-size:20px;font-weight:bold;fill:#000">-</text>
<text x="215.00" y="13.90" style="font-size:20px;font-weight:bold;fill:#000">2T</text>
<text x="237.00" y="23.20" style="font-size:15.0px;font-weight:bold;fill:#000">M</text>
<line x1="413.09" y1="29.00" x2="413.09" y2="181.00" stroke="#ebebeb" stroke-width="1"/>
<line x1="445.38" y1="29.00" x2="445.38" y2="181.00" stroke="#ebebeb" stroke-width="1"/>
<line x1="509.96" y1="29.00" x2="509.96" y2="181.00" stroke="#ebebeb" stroke-width="1"/>
<line x1="574.53" y1="29.00" x2="574.53" y2="181.00" stroke="#ebebeb" stroke-width="1"/>
<line x1="639.11" y1="29.00" x2="639.11" y2="181.00" stroke="#ebebeb" stroke-width="1"/>
<line x1="380.50" y1="105.00" x2="671.50" y2="105.00" stroke="#ebebeb" stroke-width="1"/>
<rect x="380.50" y="29.00" width="291.00" height="152.00" fill="none" stroke="#262626" stroke-width="0.58"/>
<line x1="413.09" y1="181.00" x2="413.09" y2="178.00" stroke="#262626" stroke-width="0.58"/>
<line x1="413.09" y1="29.00" x2="413.09" y2="32.00" stroke="#262626" stroke-width="0.58"/>
<line x1="445.38" y1="181.00" x2="445.38" y2="178.00" stroke="#262626" stroke-width="0.58"/>
<line x1="445.38" y1="29.00" x2="445.38" y2="32.00" stroke="#262626" stroke-width="0.58"/>
<line x1="509.96" y1="181.00" x2="509.96" y2="178.00" stroke="#262626" stroke-width="0.58"/>
<line x1="509.96" y1="29.00" x2="509.96" y2="32.00" stroke="#262626" stroke-width="0.58"/>
<line x1="574.53" y1="181.00" x2="574.53" y2="178.00" stroke="#262626" stroke-width="0.58"/>
<line x1="574.53" y1="29.00" x2="574.53" y2="32.00" stroke="#262626" stroke-width="0.58"/>
<line x1="639.11" y1="181.00" x2="639.11" y2="178.00" stroke="#262626" stroke-width="0.58"/>
<line x1="639.11" y1="29.00" x2="639.11" y2="32.00" stroke="#262626" stroke-width="0.58"/>
<line x1="380.50" y1="105.00" x2="383.50" y2="105.00" stroke="#262626" stroke-width="0.58"/>
<line x1="671.50" y1="105.00" x2="668.50" y2="105.00" stroke="#262626" stroke-width="0.58"/>
<path d="M380.8,180.8 L380.9,173.0 L381.0,167.0 L381.0,162.3 L381.1,158.7 L381.2,155.7 L381.3,153.3 L381.4,151.3 L381.4,149.7 L381.5,148.2 L381.6,147.0 L381.7,145.9 L381.8,144.9 L381.8,144.0 L381.9,143.2 L382.0,142.4 L382.1,141.7 L382.2,141.0 L382.3,140.3 L382.3,139.7 L382.4,139.1 L382.5,138.5 L382.6,137.9 L382.7,137.4 L382.7,136.9 L382.8,136.4 L382.9,135.9 L383.0,135.4 L383.1,135.0 L383.1,134.5 L383.2,134.1 L383.3,133.7 L383.4,133.3 L383.5,132.9 L383.5,132.5 L383.6,132.1 L383.7,131.8 L383.8,131.5 L383.9,131.1 L383.9,130.8 L384.0,130.5 L384.1,130.2 L384.2,129.9 L384.3,129.7 L384.4,129.4 L384.4,129.1 L384.5,128.9 L384.6,128.7 L384.7,128.4 L384.8,128.2 L384.8,128.0 L384.9,127.8 L385.0,127.6 L385.1,127.4 L385.2,127.2 L385.2,127.0 L385.3,126.9 L385.4,126.7 L385.5,126.6 L385.6,126.4 L385.6,126.3 L385.7,126.1 L385.8,126.0 L385.9,125.9 L386.0,125.8 L386.0,125.7 L386.1,125.5 L386.2,125.4 L386.3,125.3 L386.4,125.3 L386.5,125.2 L386.5,125.1 L386.6,125.0 L386.7,124.9 L386.8,124.9 L386.9,124.8 L386.9,124.7 L387.0,124.7 L387.1,124.6 L387.2,124.6 L387.3,124.5 L387.3,124.5 L387.4,124.5 L387.5,124.4 L387.6,124.4 L387.7,124.4 L387.7,124.3 L387.8,124.3 L387.9,124.3 L388.0,124.3 L388.1,124.2 L388.1,124.2 L388.2,124.2 L388.3,124.2 L388.4,124.2 L388.5,124.2 L388.5,124.2 L388.6,124.2 L388.7,124.2 L388.8,124.2 L388.9,124.2 L389.0,124.2 L389.0,124.3 L389.1,124.3 L389.2,124.3 L389.3,124.3 L389.4,124.3 L389.4,124.3 L389.5,124.4 L389.6,124.4 L389.7,124.4 L389.8,124.4 L389.8,124.5 L389.9,124.5 L390.0,124.5 L390.1,124.6 L390.2,124.6 L390.2,124.6 L390.3,124.7 L390.4,124.7 L390.5,124.7 L390.6,124.8 L390.6,124.8 L390.7,124.8 L390.8,124.9 L390.9,124.9 L391.0,125.0 L391.1,125.0 L391.1,125.1 L391.2,125.1 L391.3,125.2 L391.4,125.2 L391.5,125.2 L391.5,125.3 L391.6,125.3 L391.7,125.4 L391.8,125.4 L391.9,125.5 L391.9,125.5 L392.0,125.6 L392.1,125.6 L392.2,125.7 L392.3,125.8 L392.3,125.8 L392.4,125.9 L392.5,125.9 L392.6,126.0 L392.7,126.0 L392.7,126.1 L392.8,126.1 L392.9,126.2 L393.0,126.2 L393.1,126.3 L393.2,126.4 L393.2,126.4 L393.3,126.5 L393.4,126.5 L393.5,126.6 L393.6,126.6 L393.6,126.7 L393.7,126.7 L393.8,126.8 L393.9,126.9 L394.0,126.9 L394.0,127.0 L394.1,127.0 L394.2,127.1 L394.3,127.2 L394.4,127.2 L394.4,127.3 L394.5,127.3 L394.6,127.4 L394.7,127.4 L394.8,127.5 L394.8,127.6 L394.9,127.6 L395.0,127.7 L395.1,127.7 L395.2,127.8 L395.2,127.9 L395.3,127.9 L395.4,128.0 L395.5,128.0 L395.6,128.1 L395.7,128.1 L395.7,128.2 L395.8,128.3 L395.9,128.3 L396.0,128.4 L396.1,128.4 L396.1,128.5 L396.2,128.5 L396.3,128.6 L396.4,128.7 L396.5,128.7 L396.5,128.8 L396.6,128.8 L396.7,128.9 L396.8,128.9 L396.9,129.0 L396.9,129.1 L397.3,129.3 L397.8,129.6 L398.2,129.9 L398.6,130.1 L399.0,130.4 L399.4,130.7 L399.8,130.9 L400.2,131.1 L400.6,131.4 L401.0,131.6 L401.4,131.8 L401.8,132.1 L402.2,132.3 L402.6,132.5 L403.0,132.7 L403.4,132.9 L403.8,133.1 L404.2,133.3 L404.6,133.5 L405.0,133.7 L405.4,133.8 L405.8,134.0 L406.2,134.2 L406.6,134.3 L407.0,134.5 L407.4,134.7 L407.8,134.8 L408.2,135.0 L408.6,135.1 L409.1,135.2 L409.5,135.4 L409.9,135.5 L410.3,135.6 L410.7,135.8 L411.1,135.9 L411.5,136.0 L411.9,136.1 L412.3,136.2 L412.7,136.3 L413.1,136.4 L413.5,136.5 L413.9,136.6 L414.3,136.7 L414.7,136.8 L415.1,136.9 L415.5,137.0 L415.9,137.1 L416.3,137.2 L416.7,137.2 L417.1,137.3 L417.5,137.4 L417.9,137.5 L418.3,137.5 L418.7,137.6 L419.1,137.7 L419.5,137.7 L420.0,137.8 L420.4,137.9 L420.8,137.9 L421.2,138.0 L421.6,138.1 L422.0,138.1 L422.4,138.2 L422.8,138.2 L423.2,138.3 L423.6,138.3 L424.0,138.4 L424.4,138.4 L424.8,138.5 L425.2,138.5 L425.6,138.5 L426.0,138.6 L426.4,138.6 L426.8,138.7 L427.2,138.7 L427.6,138.7 L428.0,138.8 L428.4,138.8 L428.8,138.8 L429.2,138.9 L429.6,138.9 L430.0,138.9 L430.4,139.0 L430.8,139.0 L431.3,139.0 L431.7,139.1 L432.1,139.1 L432.5,139.1 L432.9,139.1 L433.3,139.2 L433.7,139.2 L434.1,139.2 L434.5,139.2 L434.9,139.3 L435.3,139.3 L435.7,139.3 L436.1,139.3 L436.5,139.3 L436.9,139.4 L437.3,139.4 L437.7,139.4 L438.1,139.4 L438.5,139.4 L438.9,139.4 L439.3,139.5 L439.7,139.5 L440.1,139.5 L440.5,139.5 L440.9,139.5 L441.3,139.5 L441.7,139.6 L442.1,139.6 L442.6,139.6 L443.0,139.6 L443.4,139.6 L443.8,139.6 L444.2,139.6 L444.6,139.6 L445.0,139.6 L445.4,139.7 L447.0,139.7 L448.6,139.7 L450.2,139.8 L451.8,139.8 L453.4,139.8 L455.1,139.8 L456.7,139.9 L458.3,139.9 L459.9,139.9 L461.5,139.9 L463.1,139.9 L464.8,139.9 L466.4,139.9 L468.0,139.9 L469.6,140.0 L471.2,140.0 L472.8,140.0 L474.4,140.0 L476.1,140.0 L477.7,140.0 L479.3,140.0 L480.9,140.0 L482.5,140.0 L484.1,140.0 L485.7,140.0 L487.4,140.0 L489.0,140.0 L490.6,140.0 L492.2,140.0 L493.8,140.0 L495.4,140.0 L497.0,140.0 L498.7,140.0 L500.3,140.0 L501.9,140.0 L503.5,140.0 L505.1,140.0 L506.7,140.0 L508.3,140.0 L510.0,140.0 L511.6,140.0 L513.2,140.0 L514.8,140.0 L516.4,140.0 L518.0,140.0 L519.6,140.0 L521.3,140.0 L522.9,140.0 L524.5,140.0 L526.1,140.0 L527.7,140.0 L529.3,140.0 L530.9,140.0 L532.6,140.0 L534.2,140.0 L535.8,140.0 L537.4,140.0 L539.0,140.0 L540.6,140.0 L542.2,140.0 L543.9,140.0 L545.5,140.0 L547.1,140.0 L548.7,140.0 L550.3,140.0 L551.9,140.0 L553.5,140.0 L555.2,140.0 L556.8,140.0 L558.4,140.0 L560.0,140.0 L561.6,140.0 L563.2,140.0 L564.8,140.0 L566.5,140.0 L568.1,140.0 L569.7,140.0 L571.3,140.0 L572.9,140.0 L574.5,140.0 L576.1,140.0 L577.8,140.0 L579.4,140.0 L581.0,140.0 L582.6,140.0 L584.2,140.0 L585.8,140.0 L587.4,140.0 L589.1,140.0 L590.7,140.0 L592.3,140.0 L593.9,140.0 L595.5,140.0 L597.1,140.0 L598.8,140.0 L600.4,140.0 L602.0,140.0 L603.6,140.0 L605.2,140.0 L606.8,140.0 L608.4,140.0 L610.1,140.0 L611.7,140.0 L613.3,140.0 L614.9,140.0 L616.5,140.0 L618.1,140.0 L619.7,140.0 L621.4,140.0 L623.0,140.0 L624.6,140.0 L626.2,140.0 L627.8,140.0 L629.4,140.0 L631.0,140.0 L632.7,140.0 L634.3,140.0 L635.9,140.0 L637.5,140.0 L639.1,140.0 L640.7,140.0 L642.3,140.0 L644.0,140.0 L645.6,140.0 L647.2,140.0 L648.8,140.0 L650.4,140.0 L652.0,140.0 L653.6,140.0 L655.3,140.0 L656.9,140.0 L658.5,140.0 L660.1,140.0 L661.7,140.0 L663.3,140.0 L664.9,140.0 L666.6,140.0 L668.2,140.0 L669.8,140.0 L671.4,140.0" stroke="#0000FF" stroke-width="2" stroke-dasharray="8.2 2.1 3.9 2.1" stroke-dashoffset="-0.8" fill="none"/>
<path d="M380.8,180.8 L380.9,177.6 L381.0,174.7 L381.0,172.0 L381.1,169.6 L381.2,167.4 L381.3,165.3 L381.4,163.4 L381.4,161.7 L381.5,160.1 L381.6,158.6 L381.7,157.3 L381.8,156.1 L381.8,155.0 L381.9,154.0 L382.0,153.0 L382.1,152.2 L382.2,151.4 L382.3,150.7 L382.3,150.0 L382.4,149.4 L382.5,148.9 L382.6,148.4 L382.7,147.9 L382.7,147.5 L382.8,147.2 L382.9,146.8 L383.0,146.5 L383.1,146.2 L383.1,146.0 L383.2,145.8 L383.3,145.5 L383.4,145.4 L383.5,145.2 L383.5,145.1 L383.6,144.9 L383.7,144.8 L383.8,144.7 L383.9,144.6 L383.9,144.5 L384.0,144.5 L384.1,144.4 L384.2,144.4 L384.3,144.3 L384.4,144.3 L384.4,144.2 L384.5,144.2 L384.6,144.2 L384.7,144.2 L384.8,144.2 L384.8,144.2 L384.9,144.2 L385.0,144.2 L385.1,144.2 L385.2,144.2 L385.2,144.3 L385.3,144.3 L385.4,144.3 L385.5,144.3 L385.6,144.4 L385.6,144.4 L385.7,144.4 L385.8,144.5 L385.9,144.5 L386.0,144.5 L386.0,144.6 L386.1,144.6 L386.2,144.7 L386.3,144.7 L386.4,144.7 L386.5,144.8 L386.5,144.8 L386.6,144.9 L386.7,144.9 L386.8,145.0 L386.9,145.0 L386.9,145.1 L387.0,145.1 L387.1,145.2 L387.2,145.2 L387.3,145.3 L387.3,145.3 L387.4,145.4 L387.5,145.4 L387.6,145.5 L387.7,145.5 L387.7,145.6 L387.8,145.6 L387.9,145.7 L388.0,145.7 L388.1,145.8 L388.1,145.9 L388.2,145.9 L388.3,146.0 L388.4,146.0 L388.5,146.1 L388.5,146.1 L388.6,146.2 L388.7,146.2 L388.8,146.3 L388.9,146.3 L389.0,146.4 L389.0,146.5 L389.1,146.5 L389.2,146.6 L389.3,146.6 L389.4,146.7 L389.4,146.7 L389.5,146.8 L389.6,146.8 L389.7,146.9 L389.8,146.9 L389.8,147.0 L389.9,147.1 L390.0,147.1 L390.1,147.2 L390.2,147.2 L390.2,147.3 L390.3,147.3 L390.4,147.4 L390.5,147.4 L390.6,147.5 L390.6,147.5 L390.7,147.6 L390.8,147.7 L390.9,147.7 L391.0,147.8 L391.1,147.8 L391.1,147.9 L391.2,147.9 L391.3,148.0 L391.4,148.0 L391.5,148.1 L391.5,148.1 L391.6,148.2 L391.7,148.2 L391.8,148.3 L391.9,148.3 L391.9,148.4 L392.0,148.5 L392.1,148.5 L392.2,148.6 L392.3,148.6 L392.3,148.7 L392.4,148.7 L392.5,148.8 L392.6,148.8 L392.7,148.9 L392.7,148.9 L392.8,149.0 L392.9,149.0 L393.0,149.1 L393.1,149.1 L393.2,149.2 L393.2,149.2 L393.3,149.3 L393.4,149.3 L393.5,149.4 L393.6,149.4 L393.6,149.5 L393.7,149.5 L393.8,149.6 L393.9,149.6 L394.0,149.7 L394.0,149.7 L394.1,149.8 L394.2,149.8 L394.3,149.9 L394.4,149.9 L394.4,149.9 L394.5,150.0 L394.6,150.0 L394.7,150.1 L394.8,150.1 L394.8,150.2 L394.9,150.2 L395.0,150.3 L395.1,150.3 L395.2,150.4 L395.2,150.4 L395.3,150.5 L395.4,150.5 L395.5,150.5 L395.6,150.6 L395.7,150.6 L395.7,150.7 L395.8,150.7 L395.9,150.8 L396.0,150.8 L396.1,150.9 L396.1,150.9 L396.2,150.9 L396.3,151.0 L396.4,151.0 L396.5,151.1 L396.5,151.1 L396.6,151.2 L396.7,151.2 L396.8,151.2 L396.9,151.3 L396.9,151.3 L397.3,151.5 L397.8,151.7 L398.2,151.9 L398.6,152.1 L399.0,152.3 L399.4,152.5 L399.8,152.7 L400.2,152.9 L400.6,153.0 L401.0,153.2 L401.4,153.3 L401.8,153.5 L402.2,153.7 L402.6,153.8 L403.0,153.9 L403.4,154.1 L403.8,154.2 L404.2,154.4 L404.6,154.5 L405.0,154.6 L405.4,154.7 L405.8,154.8 L406.2,155.0 L406.6,155.1 L407.0,155.2 L407.4,155.3 L407.8,155.4 L408.2,155.5 L408.6,155.6 L409.1,155.7 L409.5,155.8 L409.9,155.8 L410.3,155.9 L410.7,156.0 L411.1,156.1 L411.5,156.2 L411.9,156.2 L412.3,156.3 L412.7,156.4 L413.1,156.4 L413.5,156.5 L413.9,156.6 L414.3,156.6 L414.7,156.7 L415.1,156.7 L415.5,156.8 L415.9,156.8 L416.3,156.9 L416.7,156.9 L417.1,157.0 L417.5,157.0 L417.9,157.1 L418.3,157.1 L418.7,157.1 L419.1,157.2 L419.5,157.2 L420.0,157.3 L420.4,157.3 L420.8,157.3 L421.2,157.4 L421.6,157.4 L422.0,157.4 L422.4,157.5 L422.8,157.5 L423.2,157.5 L423.6,157.5 L424.0,157.6 L424.4,157.6 L424.8,157.6 L425.2,157.6 L425.6,157.7 L426.0,157.7 L426.4,157.7 L426.8,157.7 L427.2,157.7 L427.6,157.8 L428.0,157.8 L428.4,157.8 L428.8,157.8 L429.2,157.8 L429.6,157.8 L430.0,157.8 L430.4,157.9 L430.8,157.9 L431.3,157.9 L431.7,157.9 L432.1,157.9 L432.5,157.9 L432.9,157.9 L433.3,157.9 L433.7,158.0 L434.1,158.0 L434.5,158.0 L434.9,158.0 L435.3,158.0 L435.7,158.0 L436.1,158.0 L436.5,158.0 L436.9,158.0 L437.3,158.0 L437.7,158.0 L438.1,158.0 L438.5,158.1 L438.9,158.1 L439.3,158.1 L439.7,158.1 L440.1,158.1 L440.5,158.1 L440.9,158.1 L441.3,158.1 L441.7,158.1 L442.1,158.1 L442.6,158.1 L443.0,158.1 L443.4,158.1 L443.8,158.1 L444.2,158.1 L444.6,158.1 L445.0,158.1 L445.4,158.1 L447.0,158.1 L448.6,158.2 L450.2,158.2 L451.8,158.2 L453.4,158.2 L455.1,158.2 L456.7,158.2 L458.3,158.2 L459.9,158.2 L461.5,158.2 L463.1,158.2 L464.8,158.2 L466.4,158.2 L468.0,158.2 L469.6,158.2 L471.2,158.2 L472.8,158.2 L474.4,158.2 L476.1,158.2 L477.7,158.2 L479.3,158.2 L480.9,158.2 L482.5,158.2 L484.1,158.2 L485.7,158.2 L487.4,158.2 L489.0,158.2 L490.6,158.2 L492.2,158.2 L493.8,158.2 L495.4,158.2 L497.0,158.2 L498.7,158.2 L500.3,158.2 L501.9,158.2 L503.5,158.2 L505.1,158.2 L506.7,158.2 L508.3,158.2 L510.0,158.2 L511.6,158.2 L513.2,158.2 L514.8,158.2 L516.4,158.2 L518.0,158.2 L519.6,158.2 L521.3,158.2 L522.9,158.2 L524.5,158.2 L526.1,158.2 L527.7,158.2 L529.3,158.2 L530.9,158.2 L532.6,158.2 L534.2,158.2 L535.8,158.2 L537.4,158.2 L539.0,158.2 L540.6,158.2 L542.2,158.2 L543.9,158.2 L545.5,158.2 L547.1,158.2 L548.7,158.2 L550.3,158.2 L551.9,158.2 L553.5,158.2 L555.2,158.2 L556.8,158.2 L558.4,158.2 L560.0,158.2 L561.6,158.2 L563.2,158.2 L564.8,158.2 L566.5,158.2 L568.1,158.2 L569.7,158.2 L571.3,158.2 L572.9,158.2 L574.5,158.2 L576.1,158.2 L577.8,158.2 L579.4,158.2 L581.0,158.2 L582.6,158.2 L584.2,158.2 L585.8,158.2 L587.4,158.2 L589.1,158.2 L590.7,158.2 L592.3,158.2 L593.9,158.2 L595.5,158.2 L597.1,158.2 L598.8,158.2 L600.4,158.2 L602.0,158.2 L603.6,158.2 L605.2,158.2 L606.8,158.2 L608.4,158.2 L610.1,158.2 L611.7,158.2 L613.3,158.2 L614.9,158.2 L616.5,158.2 L618.1,158.2 L619.7,158.2 L621.4,158.2 L623.0,158.2 L624.6,158.2 L626.2,158.2 L627.8,158.2 L629.4,158.2 L631.0,158.2 L632.7,158.2 L634.3,158.2 L635.9,158.2 L637.5,158.2 L639.1,158.2 L640.7,158.2 L642.3,158.2 L644.0,158.2 L645.6,158.2 L647.2,158.2 L648.8,158.2 L650.4,158.2 L652.0,158.2 L653.6,158.2 L655.3,158.2 L656.9,158.2 L658.5,158.2 L660.1,158.2 L661.7,158.2 L663.3,158.2 L664.9,158.2 L666.6,158.2 L668.2,158.2 L669.8,158.2 L671.4,158.2" stroke="#EDB120" stroke-width="2.3" stroke-linejoin="round" stroke-linecap="round" fill="none"/><circle cx="380.80" cy="180.80" r="2.0" fill="#EDB120"/><circle cx="381.61" cy="158.64" r="2.0" fill="#EDB120"/><circle cx="382.41" cy="149.43" r="2.0" fill="#EDB120"/><path d="M383.2,145.8 L383.4,145.4 L383.5,145.1 L383.7,144.8 L383.9,144.6 L384.0,144.5 L384.2,144.4 L384.4,144.3 L384.5,144.2 L384.7,144.2 L384.8,144.2 L385.0,144.2 L385.2,144.2 L385.3,144.3 L385.5,144.3 L385.6,144.4 L385.8,144.5 L386.0,144.5 L386.1,144.6 L386.3,144.7 L386.5,144.8 L386.6,144.9 L386.8,145.0 L386.9,145.1 L387.1,145.2 L387.3,145.3 L387.4,145.4 L387.6,145.5 L387.7,145.6 L387.9,145.7 L388.1,145.8 L388.2,145.9 L388.4,146.0 L388.5,146.1 L388.7,146.2 L388.9,146.3 L389.0,146.5 L389.2,146.6 L389.4,146.7 L389.5,146.8 L389.7,146.9 L389.8,147.0 L390.0,147.1 L390.2,147.2 L390.3,147.3 L390.5,147.4 L390.6,147.5 L390.8,147.7 L391.0,147.8 L391.1,147.9 L391.3,148.0 L391.5,148.1 L391.6,148.2 L391.8,148.3 L391.9,148.4 L392.1,148.5 L392.3,148.6 L392.4,148.7 L392.6,148.8 L392.7,148.9 L392.9,149.0 L393.1,149.1 L393.2,149.2 L393.4,149.3 L393.6,149.4 L393.7,149.5 L393.9,149.6 L394.0,149.7 L394.2,149.8 L394.4,149.9 L394.5,150.0 L394.7,150.1 L394.8,150.2 L395.0,150.3 L395.2,150.4 L395.3,150.5 L395.5,150.5 L395.7,150.6 L395.8,150.7 L396.0,150.8 L396.1,150.9 L396.3,151.0 L396.5,151.1 L396.6,151.2 L396.8,151.2 L396.9,151.3 L397.8,151.7 L398.6,152.1 L399.4,152.5 L400.2,152.9 L401.0,153.2 L401.8,153.5 L402.6,153.8 L403.4,154.1 L404.2,154.4 L405.0,154.6 L405.8,154.8 L406.6,155.1 L407.4,155.3 L408.2,155.5 L409.1,155.7 L409.9,155.8 L410.7,156.0 L411.5,156.2 L412.3,156.3 L413.1,156.4 L413.9,156.6 L414.7,156.7 L415.5,156.8 L416.3,156.9 L417.1,157.0 L417.9,157.1 L418.7,157.1 L419.5,157.2 L420.4,157.3 L421.2,157.4 L422.0,157.4 L422.8,157.5 L423.6,157.5 L424.4,157.6 L425.2,157.6 L426.0,157.7 L426.8,157.7 L427.6,157.8 L428.4,157.8 L429.2,157.8 L430.0,157.8 L430.8,157.9 L431.7,157.9 L432.5,157.9 L433.3,157.9 L434.1,158.0 L434.9,158.0 L435.7,158.0 L436.5,158.0 L437.3,158.0 L438.1,158.0 L438.9,158.1 L439.7,158.1 L440.5,158.1 L441.3,158.1 L442.1,158.1 L443.0,158.1 L443.8,158.1 L444.6,158.1 L445.4,158.1 L448.6,158.2 L451.8,158.2 L455.1,158.2 L458.3,158.2 L461.5,158.2 L464.8,158.2 L468.0,158.2 L471.2,158.2 L474.4,158.2 L477.7,158.2 L480.9,158.2 L484.1,158.2 L487.4,158.2 L490.6,158.2 L493.8,158.2 L497.0,158.2 L500.3,158.2 L503.5,158.2 L506.7,158.2 L510.0,158.2 L513.2,158.2 L516.4,158.2 L519.6,158.2 L522.9,158.2 L526.1,158.2 L529.3,158.2 L532.6,158.2 L535.8,158.2 L539.0,158.2 L542.2,158.2 L545.5,158.2 L548.7,158.2 L551.9,158.2 L555.2,158.2 L558.4,158.2 L561.6,158.2 L564.8,158.2 L568.1,158.2 L571.3,158.2 L574.5,158.2 L577.8,158.2 L581.0,158.2 L584.2,158.2 L587.4,158.2 L590.7,158.2 L593.9,158.2 L597.1,158.2 L600.4,158.2 L603.6,158.2 L606.8,158.2 L610.1,158.2 L613.3,158.2 L616.5,158.2 L619.7,158.2 L623.0,158.2 L626.2,158.2 L629.4,158.2 L632.7,158.2 L635.9,158.2 L639.1,158.2 L642.3,158.2 L645.6,158.2 L648.8,158.2 L652.0,158.2 L655.3,158.2 L658.5,158.2 L661.7,158.2 L664.9,158.2 L668.2,158.2 L671.4,158.2" stroke="#EDB120" stroke-width="4.0" stroke-linejoin="round" stroke-linecap="round" fill="none"/>
<path d="M380.8,180.8 L380.9,180.7 L381.0,180.7 L381.0,180.7 L381.1,180.7 L381.2,180.7 L381.3,180.7 L381.4,180.7 L381.4,180.7 L381.5,180.6 L381.6,180.6 L381.7,180.5 L381.8,180.5 L381.8,180.4 L381.9,180.3 L382.0,180.1 L382.1,180.0 L382.2,179.9 L382.3,179.7 L382.3,179.6 L382.4,179.4 L382.5,179.2 L382.6,179.0 L382.7,178.8 L382.7,178.6 L382.8,178.4 L382.9,178.2 L383.0,178.0 L383.1,177.7 L383.1,177.5 L383.2,177.2 L383.3,177.0 L383.4,176.7 L383.5,176.5 L383.5,176.2 L383.6,175.9 L383.7,175.7 L383.8,175.4 L383.9,175.1 L383.9,174.8 L384.0,174.6 L384.1,174.3 L384.2,174.0 L384.3,173.7 L384.4,173.4 L384.4,173.1 L384.5,172.8 L384.6,172.5 L384.7,172.2 L384.8,171.9 L384.8,171.6 L384.9,171.3 L385.0,171.0 L385.1,170.7 L385.2,170.4 L385.2,170.1 L385.3,169.8 L385.4,169.5 L385.5,169.2 L385.6,168.9 L385.6,168.6 L385.7,168.3 L385.8,168.0 L385.9,167.7 L386.0,167.4 L386.0,167.2 L386.1,166.9 L386.2,166.6 L386.3,166.3 L386.4,166.0 L386.5,165.7 L386.5,165.4 L386.6,165.1 L386.7,164.8 L386.8,164.5 L386.9,164.2 L386.9,163.9 L387.0,163.7 L387.1,163.4 L387.2,163.1 L387.3,162.8 L387.3,162.5 L387.4,162.3 L387.5,162.0 L387.6,161.7 L387.7,161.4 L387.7,161.1 L387.8,160.9 L387.9,160.6 L388.0,160.3 L388.1,160.1 L388.1,159.8 L388.2,159.5 L388.3,159.3 L388.4,159.0 L388.5,158.7 L388.5,158.5 L388.6,158.2 L388.7,158.0 L388.8,157.7 L388.9,157.4 L389.0,157.2 L389.0,156.9 L389.1,156.7 L389.2,156.4 L389.3,156.2 L389.4,155.9 L389.4,155.7 L389.5,155.5 L389.6,155.2 L389.7,155.0 L389.8,154.7 L389.8,154.5 L389.9,154.3 L390.0,154.0 L390.1,153.8 L390.2,153.5 L390.2,153.3 L390.3,153.1 L390.4,152.9 L390.5,152.6 L390.6,152.4 L390.6,152.2 L390.7,152.0 L390.8,151.7 L390.9,151.5 L391.0,151.3 L391.1,151.1 L391.1,150.9 L391.2,150.6 L391.3,150.4 L391.4,150.2 L391.5,150.0 L391.5,149.8 L391.6,149.6 L391.7,149.4 L391.8,149.2 L391.9,149.0 L391.9,148.8 L392.0,148.5 L392.1,148.3 L392.2,148.1 L392.3,147.9 L392.3,147.7 L392.4,147.5 L392.5,147.4 L392.6,147.2 L392.7,147.0 L392.7,146.8 L392.8,146.6 L392.9,146.4 L393.0,146.2 L393.1,146.0 L393.2,145.8 L393.2,145.6 L393.3,145.5 L393.4,145.3 L393.5,145.1 L393.6,144.9 L393.6,144.7 L393.7,144.6 L393.8,144.4 L393.9,144.2 L394.0,144.0 L394.0,143.9 L394.1,143.7 L394.2,143.5 L394.3,143.3 L394.4,143.2 L394.4,143.0 L394.5,142.8 L394.6,142.7 L394.7,142.5 L394.8,142.3 L394.8,142.2 L394.9,142.0 L395.0,141.8 L395.1,141.7 L395.2,141.5 L395.2,141.4 L395.3,141.2 L395.4,141.1 L395.5,140.9 L395.6,140.7 L395.7,140.6 L395.7,140.4 L395.8,140.3 L395.9,140.1 L396.0,140.0 L396.1,139.8 L396.1,139.7 L396.2,139.5 L396.3,139.4 L396.4,139.2 L396.5,139.1 L396.5,139.0 L396.6,138.8 L396.7,138.7 L396.8,138.5 L396.9,138.4 L396.9,138.3 L397.3,137.6 L397.8,136.9 L398.2,136.3 L398.6,135.6 L399.0,135.0 L399.4,134.5 L399.8,133.9 L400.2,133.3 L400.6,132.8 L401.0,132.3 L401.4,131.8 L401.8,131.3 L402.2,130.8 L402.6,130.4 L403.0,129.9 L403.4,129.5 L403.8,129.1 L404.2,128.7 L404.6,128.3 L405.0,127.9 L405.4,127.6 L405.8,127.2 L406.2,126.9 L406.6,126.5 L407.0,126.2 L407.4,125.9 L407.8,125.6 L408.2,125.3 L408.6,125.0 L409.1,124.7 L409.5,124.5 L409.9,124.2 L410.3,124.0 L410.7,123.7 L411.1,123.5 L411.5,123.3 L411.9,123.0 L412.3,122.8 L412.7,122.6 L413.1,122.4 L413.5,122.2 L413.9,122.0 L414.3,121.8 L414.7,121.7 L415.1,121.5 L415.5,121.3 L415.9,121.2 L416.3,121.0 L416.7,120.9 L417.1,120.7 L417.5,120.6 L417.9,120.4 L418.3,120.3 L418.7,120.2 L419.1,120.0 L419.5,119.9 L420.0,119.8 L420.4,119.7 L420.8,119.6 L421.2,119.5 L421.6,119.4 L422.0,119.3 L422.4,119.2 L422.8,119.1 L423.2,119.0 L423.6,118.9 L424.0,118.8 L424.4,118.7 L424.8,118.6 L425.2,118.6 L425.6,118.5 L426.0,118.4 L426.4,118.3 L426.8,118.3 L427.2,118.2 L427.6,118.1 L428.0,118.1 L428.4,118.0 L428.8,117.9 L429.2,117.9 L429.6,117.8 L430.0,117.8 L430.4,117.7 L430.8,117.7 L431.3,117.6 L431.7,117.6 L432.1,117.5 L432.5,117.5 L432.9,117.4 L433.3,117.4 L433.7,117.4 L434.1,117.3 L434.5,117.3 L434.9,117.2 L435.3,117.2 L435.7,117.2 L436.1,117.1 L436.5,117.1 L436.9,117.1 L437.3,117.0 L437.7,117.0 L438.1,117.0 L438.5,117.0 L438.9,116.9 L439.3,116.9 L439.7,116.9 L440.1,116.8 L440.5,116.8 L440.9,116.8 L441.3,116.8 L441.7,116.8 L442.1,116.7 L442.6,116.7 L443.0,116.7 L443.4,116.7 L443.8,116.7 L444.2,116.6 L444.6,116.6 L445.0,116.6 L445.4,116.6 L447.0,116.5 L448.6,116.5 L450.2,116.4 L451.8,116.4 L453.4,116.3 L455.1,116.3 L456.7,116.3 L458.3,116.3 L459.9,116.2 L461.5,116.2 L463.1,116.2 L464.8,116.2 L466.4,116.2 L468.0,116.2 L469.6,116.1 L471.2,116.1 L472.8,116.1 L474.4,116.1 L476.1,116.1 L477.7,116.1 L479.3,116.1 L480.9,116.1 L482.5,116.1 L484.1,116.1 L485.7,116.1 L487.4,116.1 L489.0,116.1 L490.6,116.1 L492.2,116.1 L493.8,116.1 L495.4,116.1 L497.0,116.1 L498.7,116.1 L500.3,116.1 L501.9,116.1 L503.5,116.1 L505.1,116.1 L506.7,116.1 L508.3,116.1 L510.0,116.1 L511.6,116.1 L513.2,116.1 L514.8,116.1 L516.4,116.1 L518.0,116.1 L519.6,116.1 L521.3,116.1 L522.9,116.1 L524.5,116.1 L526.1,116.1 L527.7,116.1 L529.3,116.1 L530.9,116.1 L532.6,116.1 L534.2,116.1 L535.8,116.1 L537.4,116.1 L539.0,116.1 L540.6,116.1 L542.2,116.1 L543.9,116.1 L545.5,116.1 L547.1,116.1 L548.7,116.1 L550.3,116.1 L551.9,116.1 L553.5,116.1 L555.2,116.1 L556.8,116.1 L558.4,116.1 L560.0,116.1 L561.6,116.1 L563.2,116.1 L564.8,116.1 L566.5,116.1 L568.1,116.1 L569.7,116.1 L571.3,116.1 L572.9,116.1 L574.5,116.1 L576.1,116.1 L577.8,116.1 L579.4,116.1 L581.0,116.1 L582.6,116.1 L584.2,116.1 L585.8,116.1 L587.4,116.1 L589.1,116.1 L590.7,116.1 L592.3,116.1 L593.9,116.1 L595.5,116.1 L597.1,116.1 L598.8,116.1 L600.4,116.1 L602.0,116.1 L603.6,116.1 L605.2,116.1 L606.8,116.1 L608.4,116.1 L610.1,116.1 L611.7,116.1 L613.3,116.1 L614.9,116.1 L616.5,116.1 L618.1,116.1 L619.7,116.1 L621.4,116.1 L623.0,116.1 L624.6,116.1 L626.2,116.1 L627.8,116.1 L629.4,116.1 L631.0,116.1 L632.7,116.1 L634.3,116.1 L635.9,116.1 L637.5,116.1 L639.1,116.1 L640.7,116.1 L642.3,116.1 L644.0,116.1 L645.6,116.1 L647.2,116.1 L648.8,116.1 L650.4,116.1 L652.0,116.1 L653.6,116.1 L655.3,116.1 L656.9,116.1 L658.5,116.1 L660.1,116.1 L661.7,116.1 L663.3,116.1 L664.9,116.1 L666.6,116.1 L668.2,116.1 L669.8,116.1 L671.4,116.1" stroke="#FF0000" stroke-width="2" fill="none"/>
<path d="M380.8,29.2 L380.9,33.8 L381.0,38.3 L381.0,42.5 L381.1,46.5 L381.2,50.4 L381.3,54.1 L381.4,57.6 L381.4,61.0 L381.5,64.2 L381.6,67.3 L381.7,70.2 L381.8,73.1 L381.8,75.8 L381.9,78.3 L382.0,80.8 L382.1,83.2 L382.2,85.5 L382.3,87.7 L382.3,89.8 L382.4,91.8 L382.5,93.7 L382.6,95.6 L382.7,97.3 L382.7,99.0 L382.8,100.7 L382.9,102.3 L383.0,103.8 L383.1,105.2 L383.1,106.6 L383.2,108.0 L383.3,109.3 L383.4,110.5 L383.5,111.7 L383.5,112.8 L383.6,114.0 L383.7,115.0 L383.8,116.1 L383.9,117.1 L383.9,118.0 L384.0,118.9 L384.1,119.8 L384.2,120.7 L384.3,121.5 L384.4,122.3 L384.4,123.1 L384.5,123.8 L384.6,124.5 L384.7,125.2 L384.8,125.9 L384.8,126.6 L384.9,127.2 L385.0,127.8 L385.1,128.4 L385.2,128.9 L385.2,129.5 L385.3,130.0 L385.4,130.5 L385.5,131.0 L385.6,131.5 L385.6,132.0 L385.7,132.4 L385.8,132.9 L385.9,133.3 L386.0,133.7 L386.0,134.1 L386.1,134.5 L386.2,134.9 L386.3,135.2 L386.4,135.6 L386.5,135.9 L386.5,136.3 L386.6,136.6 L386.7,136.9 L386.8,137.2 L386.9,137.5 L386.9,137.8 L387.0,138.1 L387.1,138.3 L387.2,138.6 L387.3,138.9 L387.3,139.1 L387.4,139.4 L387.5,139.6 L387.6,139.8 L387.7,140.1 L387.7,140.3 L387.8,140.5 L387.9,140.7 L388.0,140.9 L388.1,141.1 L388.1,141.3 L388.2,141.5 L388.3,141.7 L388.4,141.8 L388.5,142.0 L388.5,142.2 L388.6,142.4 L388.7,142.5 L388.8,142.7 L388.9,142.8 L389.0,143.0 L389.0,143.1 L389.1,143.3 L389.2,143.4 L389.3,143.6 L389.4,143.7 L389.4,143.8 L389.5,144.0 L389.6,144.1 L389.7,144.2 L389.8,144.3 L389.8,144.4 L389.9,144.6 L390.0,144.7 L390.1,144.8 L390.2,144.9 L390.2,145.0 L390.3,145.1 L390.4,145.2 L390.5,145.3 L390.6,145.4 L390.6,145.5 L390.7,145.6 L390.8,145.7 L390.9,145.8 L391.0,145.9 L391.1,146.0 L391.1,146.1 L391.2,146.1 L391.3,146.2 L391.4,146.3 L391.5,146.4 L391.5,146.5 L391.6,146.5 L391.7,146.6 L391.8,146.7 L391.9,146.8 L391.9,146.9 L392.0,146.9 L392.1,147.0 L392.2,147.1 L392.3,147.1 L392.3,147.2 L392.4,147.3 L392.5,147.3 L392.6,147.4 L392.7,147.5 L392.7,147.5 L392.8,147.6 L392.9,147.7 L393.0,147.7 L393.1,147.8 L393.2,147.8 L393.2,147.9 L393.3,147.9 L393.4,148.0 L393.5,148.1 L393.6,148.1 L393.6,148.2 L393.7,148.2 L393.8,148.3 L393.9,148.3 L394.0,148.4 L394.0,148.4 L394.1,148.5 L394.2,148.5 L394.3,148.6 L394.4,148.6 L394.4,148.7 L394.5,148.7 L394.6,148.8 L394.7,148.8 L394.8,148.9 L394.8,148.9 L394.9,149.0 L395.0,149.0 L395.1,149.0 L395.2,149.1 L395.2,149.1 L395.3,149.2 L395.4,149.2 L395.5,149.3 L395.6,149.3 L395.7,149.3 L395.7,149.4 L395.8,149.4 L395.9,149.5 L396.0,149.5 L396.1,149.6 L396.1,149.6 L396.2,149.6 L396.3,149.7 L396.4,149.7 L396.5,149.7 L396.5,149.8 L396.6,149.8 L396.7,149.9 L396.8,149.9 L396.9,149.9 L396.9,150.0 L397.3,150.1 L397.8,150.3 L398.2,150.5 L398.6,150.6 L399.0,150.8 L399.4,150.9 L399.8,151.1 L400.2,151.2 L400.6,151.4 L401.0,151.5 L401.4,151.6 L401.8,151.8 L402.2,151.9 L402.6,152.0 L403.0,152.1 L403.4,152.2 L403.8,152.3 L404.2,152.4 L404.6,152.5 L405.0,152.6 L405.4,152.7 L405.8,152.8 L406.2,152.9 L406.6,153.0 L407.0,153.1 L407.4,153.2 L407.8,153.3 L408.2,153.4 L408.6,153.5 L409.1,153.5 L409.5,153.6 L409.9,153.7 L410.3,153.8 L410.7,153.8 L411.1,153.9 L411.5,154.0 L411.9,154.1 L412.3,154.1 L412.7,154.2 L413.1,154.3 L413.5,154.3 L413.9,154.4 L414.3,154.4 L414.7,154.5 L415.1,154.6 L415.5,154.6 L415.9,154.7 L416.3,154.7 L416.7,154.8 L417.1,154.8 L417.5,154.9 L417.9,154.9 L418.3,155.0 L418.7,155.0 L419.1,155.1 L419.5,155.1 L420.0,155.1 L420.4,155.2 L420.8,155.2 L421.2,155.3 L421.6,155.3 L422.0,155.3 L422.4,155.4 L422.8,155.4 L423.2,155.5 L423.6,155.5 L424.0,155.5 L424.4,155.6 L424.8,155.6 L425.2,155.6 L425.6,155.7 L426.0,155.7 L426.4,155.7 L426.8,155.7 L427.2,155.8 L427.6,155.8 L428.0,155.8 L428.4,155.9 L428.8,155.9 L429.2,155.9 L429.6,155.9 L430.0,156.0 L430.4,156.0 L430.8,156.0 L431.3,156.0 L431.7,156.0 L432.1,156.1 L432.5,156.1 L432.9,156.1 L433.3,156.1 L433.7,156.1 L434.1,156.2 L434.5,156.2 L434.9,156.2 L435.3,156.2 L435.7,156.2 L436.1,156.3 L436.5,156.3 L436.9,156.3 L437.3,156.3 L437.7,156.3 L438.1,156.3 L438.5,156.4 L438.9,156.4 L439.3,156.4 L439.7,156.4 L440.1,156.4 L440.5,156.4 L440.9,156.4 L441.3,156.4 L441.7,156.5 L442.1,156.5 L442.6,156.5 L443.0,156.5 L443.4,156.5 L443.8,156.5 L444.2,156.5 L444.6,156.5 L445.0,156.6 L445.4,156.6 L447.0,156.6 L448.6,156.6 L450.2,156.7 L451.8,156.7 L453.4,156.7 L455.1,156.7 L456.7,156.8 L458.3,156.8 L459.9,156.8 L461.5,156.8 L463.1,156.8 L464.8,156.9 L466.4,156.9 L468.0,156.9 L469.6,156.9 L471.2,156.9 L472.8,156.9 L474.4,156.9 L476.1,156.9 L477.7,156.9 L479.3,156.9 L480.9,156.9 L482.5,156.9 L484.1,157.0 L485.7,157.0 L487.4,157.0 L489.0,157.0 L490.6,157.0 L492.2,157.0 L493.8,157.0 L495.4,157.0 L497.0,157.0 L498.7,157.0 L500.3,157.0 L501.9,157.0 L503.5,157.0 L505.1,157.0 L506.7,157.0 L508.3,157.0 L510.0,157.0 L511.6,157.0 L513.2,157.0 L514.8,157.0 L516.4,157.0 L518.0,157.0 L519.6,157.0 L521.3,157.0 L522.9,157.0 L524.5,157.0 L526.1,157.0 L527.7,157.0 L529.3,157.0 L530.9,157.0 L532.6,157.0 L534.2,157.0 L535.8,157.0 L537.4,157.0 L539.0,157.0 L540.6,157.0 L542.2,157.0 L543.9,157.0 L545.5,157.0 L547.1,157.0 L548.7,157.0 L550.3,157.0 L551.9,157.0 L553.5,157.0 L555.2,157.0 L556.8,157.0 L558.4,157.0 L560.0,157.0 L561.6,157.0 L563.2,157.0 L564.8,157.0 L566.5,157.0 L568.1,157.0 L569.7,157.0 L571.3,157.0 L572.9,157.0 L574.5,157.0 L576.1,157.0 L577.8,157.0 L579.4,157.0 L581.0,157.0 L582.6,157.0 L584.2,157.0 L585.8,157.0 L587.4,157.0 L589.1,157.0 L590.7,157.0 L592.3,157.0 L593.9,157.0 L595.5,157.0 L597.1,157.0 L598.8,157.0 L600.4,157.0 L602.0,157.0 L603.6,157.0 L605.2,157.0 L606.8,157.0 L608.4,157.0 L610.1,157.0 L611.7,157.0 L613.3,157.0 L614.9,157.0 L616.5,157.0 L618.1,157.0 L619.7,157.0 L621.4,157.0 L623.0,157.0 L624.6,157.0 L626.2,157.0 L627.8,157.0 L629.4,157.0 L631.0,157.0 L632.7,157.0 L634.3,157.0 L635.9,157.0 L637.5,157.0 L639.1,157.0 L640.7,157.0 L642.3,157.0 L644.0,157.0 L645.6,157.0 L647.2,157.0 L648.8,157.0 L650.4,157.0 L652.0,157.0 L653.6,157.0 L655.3,157.0 L656.9,157.0 L658.5,157.0 L660.1,157.0 L661.7,157.0 L663.3,157.0 L664.9,157.0 L666.6,157.0 L668.2,157.0 L669.8,157.0 L671.4,157.0" stroke="#000000" stroke-width="2" stroke-dasharray="8.2 8.1" stroke-dashoffset="0.1" fill="none"/>
<text x="376.07" y="203.40" style="font-size:17px;font-weight:bold;fill:#1a1a1a">0</text>
<text x="403.63" y="203.40" style="font-size:17px;font-weight:bold;fill:#1a1a1a">20</text>
<text x="435.92" y="203.40" style="font-size:17px;font-weight:bold;fill:#1a1a1a">40</text>
<text x="500.50" y="203.40" style="font-size:17px;font-weight:bold;fill:#1a1a1a">80</text>
<path d="M228,0 L378,0 L378,710 L262,710 C232,652 155,622 52,612 L52,500 C122,505 182,520 228,548 Z" transform="translate(560.35,203.40) scale(0.01700,-0.01700)" fill="#1a1a1a"/><text x="569.81" y="203.40" style="font-size:17px;font-weight:bold;fill:#1a1a1a">20</text>
<path d="M228,0 L378,0 L378,710 L262,710 C232,652 155,622 52,612 L52,500 C122,505 182,520 228,548 Z" transform="translate(624.93,203.40) scale(0.01700,-0.01700)" fill="#1a1a1a"/><text x="634.38" y="203.40" style="font-size:17px;font-weight:bold;fill:#1a1a1a">60</text>
<path d="M228,0 L378,0 L378,710 L262,710 C232,652 155,622 52,612 L52,500 C122,505 182,520 228,548 Z" transform="translate(657.22,203.40) scale(0.01700,-0.01700)" fill="#1a1a1a"/><text x="666.67" y="203.40" style="font-size:17px;font-weight:bold;fill:#1a1a1a">80</text>
<text x="365.55" y="187.60" style="font-size:17px;font-weight:bold;fill:#1a1a1a">0</text>
<text x="351.37" y="111.80" style="font-size:17px;font-weight:bold;fill:#1a1a1a">0.5</text>
<path d="M228,0 L378,0 L378,710 L262,710 C232,652 155,622 52,612 L52,500 C122,505 182,520 228,548 Z" transform="translate(365.55,36.00) scale(0.01700,-0.01700)" fill="#1a1a1a"/>
<text x="414.90" y="45.40" style="font-size:17px;font-weight:bold;fill:#000">(b)</text>
<path d="M495.20,21.80 L509.40,21.80 L502.30,8.30 Z M497.40,20.30 L501.82,11.90 L506.24,20.30 Z" fill="#000" fill-rule="evenodd"/>
<text x="515.90" y="21.60" style="font-size:20px;font-weight:bold;fill:#000">T</text>
<rect x="533.00" y="14.15" width="9.3" height="2.05" rx="0.3" fill="#000"/><rect x="533.00" y="18.55" width="9.3" height="2.05" rx="0.3" fill="#000"/>
<text x="547.80" y="21.60" style="font-size:20px;font-weight:bold;fill:#000">0</text>
<line x1="87.19" y1="264.50" x2="87.19" y2="415.50" stroke="#ebebeb" stroke-width="1"/>
<line x1="119.38" y1="264.50" x2="119.38" y2="415.50" stroke="#ebebeb" stroke-width="1"/>
<line x1="183.76" y1="264.50" x2="183.76" y2="415.50" stroke="#ebebeb" stroke-width="1"/>
<line x1="248.13" y1="264.50" x2="248.13" y2="415.50" stroke="#ebebeb" stroke-width="1"/>
<line x1="312.51" y1="264.50" x2="312.51" y2="415.50" stroke="#ebebeb" stroke-width="1"/>
<line x1="54.50" y1="339.80" x2="345.00" y2="339.80" stroke="#ebebeb" stroke-width="1"/>
<rect x="54.50" y="264.50" width="290.50" height="151.00" fill="none" stroke="#262626" stroke-width="0.58"/>
<line x1="87.19" y1="415.50" x2="87.19" y2="412.50" stroke="#262626" stroke-width="0.58"/>
<line x1="87.19" y1="264.50" x2="87.19" y2="267.50" stroke="#262626" stroke-width="0.58"/>
<line x1="119.38" y1="415.50" x2="119.38" y2="412.50" stroke="#262626" stroke-width="0.58"/>
<line x1="119.38" y1="264.50" x2="119.38" y2="267.50" stroke="#262626" stroke-width="0.58"/>
<line x1="183.76" y1="415.50" x2="183.76" y2="412.50" stroke="#262626" stroke-width="0.58"/>
<line x1="183.76" y1="264.50" x2="183.76" y2="267.50" stroke="#262626" stroke-width="0.58"/>
<line x1="248.13" y1="415.50" x2="248.13" y2="412.50" stroke="#262626" stroke-width="0.58"/>
<line x1="248.13" y1="264.50" x2="248.13" y2="267.50" stroke="#262626" stroke-width="0.58"/>
<line x1="312.51" y1="415.50" x2="312.51" y2="412.50" stroke="#262626" stroke-width="0.58"/>
<line x1="312.51" y1="264.50" x2="312.51" y2="267.50" stroke="#262626" stroke-width="0.58"/>
<line x1="54.50" y1="339.80" x2="57.50" y2="339.80" stroke="#262626" stroke-width="0.58"/>
<line x1="345.00" y1="339.80" x2="342.00" y2="339.80" stroke="#262626" stroke-width="0.58"/>
<path d="M55.0,415.3 L55.1,406.3 L55.2,399.2 L55.2,393.7 L55.3,389.4 L55.4,385.9 L55.5,383.2 L55.6,380.9 L55.6,379.1 L55.7,377.5 L55.8,376.2 L55.9,375.0 L56.0,374.0 L56.0,373.2 L56.1,372.4 L56.2,371.7 L56.3,371.0 L56.4,370.4 L56.4,369.8 L56.5,369.3 L56.6,368.8 L56.7,368.3 L56.8,367.8 L56.9,367.4 L56.9,367.0 L57.0,366.6 L57.1,366.2 L57.2,365.8 L57.3,365.5 L57.3,365.1 L57.4,364.8 L57.5,364.5 L57.6,364.2 L57.7,363.9 L57.7,363.6 L57.8,363.3 L57.9,363.0 L58.0,362.8 L58.1,362.5 L58.1,362.3 L58.2,362.1 L58.3,361.9 L58.4,361.7 L58.5,361.5 L58.5,361.3 L58.6,361.1 L58.7,360.9 L58.8,360.7 L58.9,360.6 L58.9,360.4 L59.0,360.3 L59.1,360.1 L59.2,360.0 L59.3,359.9 L59.3,359.7 L59.4,359.6 L59.5,359.5 L59.6,359.4 L59.7,359.3 L59.7,359.2 L59.8,359.1 L59.9,359.0 L60.0,358.9 L60.1,358.9 L60.2,358.8 L60.2,358.7 L60.3,358.7 L60.4,358.6 L60.5,358.6 L60.6,358.5 L60.6,358.5 L60.7,358.4 L60.8,358.4 L60.9,358.3 L61.0,358.3 L61.0,358.3 L61.1,358.3 L61.2,358.2 L61.3,358.2 L61.4,358.2 L61.4,358.2 L61.5,358.2 L61.6,358.2 L61.7,358.1 L61.8,358.1 L61.8,358.1 L61.9,358.1 L62.0,358.1 L62.1,358.1 L62.2,358.2 L62.2,358.2 L62.3,358.2 L62.4,358.2 L62.5,358.2 L62.6,358.2 L62.6,358.2 L62.7,358.3 L62.8,358.3 L62.9,358.3 L63.0,358.3 L63.0,358.4 L63.1,358.4 L63.2,358.4 L63.3,358.4 L63.4,358.5 L63.4,358.5 L63.5,358.5 L63.6,358.6 L63.7,358.6 L63.8,358.6 L63.9,358.7 L63.9,358.7 L64.0,358.8 L64.1,358.8 L64.2,358.9 L64.3,358.9 L64.3,358.9 L64.4,359.0 L64.5,359.0 L64.6,359.1 L64.7,359.1 L64.7,359.2 L64.8,359.2 L64.9,359.3 L65.0,359.3 L65.1,359.4 L65.1,359.4 L65.2,359.5 L65.3,359.5 L65.4,359.6 L65.5,359.6 L65.5,359.7 L65.6,359.8 L65.7,359.8 L65.8,359.9 L65.9,359.9 L65.9,360.0 L66.0,360.0 L66.1,360.1 L66.2,360.2 L66.3,360.2 L66.3,360.3 L66.4,360.3 L66.5,360.4 L66.6,360.5 L66.7,360.5 L66.7,360.6 L66.8,360.6 L66.9,360.7 L67.0,360.8 L67.1,360.8 L67.2,360.9 L67.2,360.9 L67.3,361.0 L67.4,361.1 L67.5,361.1 L67.6,361.2 L67.6,361.3 L67.7,361.3 L67.8,361.4 L67.9,361.4 L68.0,361.5 L68.0,361.6 L68.1,361.6 L68.2,361.7 L68.3,361.8 L68.4,361.8 L68.4,361.9 L68.5,361.9 L68.6,362.0 L68.7,362.1 L68.8,362.1 L68.8,362.2 L68.9,362.3 L69.0,362.3 L69.1,362.4 L69.2,362.5 L69.2,362.5 L69.3,362.6 L69.4,362.6 L69.5,362.7 L69.6,362.8 L69.6,362.8 L69.7,362.9 L69.8,363.0 L69.9,363.0 L70.0,363.1 L70.0,363.2 L70.1,363.2 L70.2,363.3 L70.3,363.4 L70.4,363.4 L70.5,363.5 L70.5,363.5 L70.6,363.6 L70.7,363.7 L70.8,363.7 L70.9,363.8 L70.9,363.9 L71.0,363.9 L71.1,364.0 L71.5,364.3 L71.9,364.6 L72.3,364.9 L72.7,365.2 L73.1,365.5 L73.5,365.8 L73.9,366.1 L74.3,366.4 L74.7,366.7 L75.1,367.0 L75.5,367.3 L75.9,367.5 L76.3,367.8 L76.7,368.1 L77.1,368.4 L77.5,368.6 L77.9,368.9 L78.3,369.1 L78.7,369.4 L79.1,369.6 L79.5,369.9 L79.9,370.1 L80.3,370.4 L80.8,370.6 L81.2,370.8 L81.6,371.1 L82.0,371.3 L82.4,371.5 L82.8,371.7 L83.2,372.0 L83.6,372.2 L84.0,372.4 L84.4,372.6 L84.8,372.8 L85.2,373.0 L85.6,373.2 L86.0,373.4 L86.4,373.6 L86.8,373.8 L87.2,374.0 L87.6,374.2 L88.0,374.4 L88.4,374.5 L88.8,374.7 L89.2,374.9 L89.6,375.1 L90.0,375.2 L90.4,375.4 L90.8,375.6 L91.2,375.7 L91.6,375.9 L92.0,376.0 L92.4,376.2 L92.8,376.4 L93.2,376.5 L93.6,376.7 L94.0,376.8 L94.4,377.0 L94.8,377.1 L95.2,377.2 L95.6,377.4 L96.0,377.5 L96.4,377.7 L96.8,377.8 L97.2,377.9 L97.7,378.1 L98.1,378.2 L98.5,378.3 L98.9,378.4 L99.3,378.6 L99.7,378.7 L100.1,378.8 L100.5,378.9 L100.9,379.0 L101.3,379.1 L101.7,379.3 L102.1,379.4 L102.5,379.5 L102.9,379.6 L103.3,379.7 L103.7,379.8 L104.1,379.9 L104.5,380.0 L104.9,380.1 L105.3,380.2 L105.7,380.3 L106.1,380.4 L106.5,380.5 L106.9,380.6 L107.3,380.7 L107.7,380.8 L108.1,380.9 L108.5,380.9 L108.9,381.0 L109.3,381.1 L109.7,381.2 L110.1,381.3 L110.5,381.4 L110.9,381.4 L111.3,381.5 L111.7,381.6 L112.1,381.7 L112.5,381.8 L112.9,381.8 L113.3,381.9 L113.7,382.0 L114.1,382.1 L114.5,382.1 L115.0,382.2 L115.4,382.3 L115.8,382.3 L116.2,382.4 L116.6,382.5 L117.0,382.5 L117.4,382.6 L117.8,382.7 L118.2,382.7 L118.6,382.8 L119.0,382.8 L119.4,382.9 L121.0,383.1 L122.6,383.4 L124.2,383.6 L125.8,383.8 L127.4,383.9 L129.0,384.1 L130.6,384.3 L132.3,384.4 L133.9,384.6 L135.5,384.7 L137.1,384.9 L138.7,385.0 L140.3,385.1 L141.9,385.2 L143.5,385.3 L145.1,385.4 L146.7,385.5 L148.3,385.6 L150.0,385.7 L151.6,385.7 L153.2,385.8 L154.8,385.9 L156.4,386.0 L158.0,386.0 L159.6,386.1 L161.2,386.1 L162.8,386.2 L164.4,386.2 L166.1,386.3 L167.7,386.3 L169.3,386.4 L170.9,386.4 L172.5,386.4 L174.1,386.5 L175.7,386.5 L177.3,386.5 L178.9,386.6 L180.5,386.6 L182.1,386.6 L183.8,386.6 L185.4,386.7 L187.0,386.7 L188.6,386.7 L190.2,386.7 L191.8,386.7 L193.4,386.8 L195.0,386.8 L196.6,386.8 L198.2,386.8 L199.8,386.8 L201.5,386.8 L203.1,386.9 L204.7,386.9 L206.3,386.9 L207.9,386.9 L209.5,386.9 L211.1,386.9 L212.7,386.9 L214.3,386.9 L215.9,386.9 L217.6,386.9 L219.2,386.9 L220.8,387.0 L222.4,387.0 L224.0,387.0 L225.6,387.0 L227.2,387.0 L228.8,387.0 L230.4,387.0 L232.0,387.0 L233.6,387.0 L235.3,387.0 L236.9,387.0 L238.5,387.0 L240.1,387.0 L241.7,387.0 L243.3,387.0 L244.9,387.0 L246.5,387.0 L248.1,387.0 L249.7,387.0 L251.4,387.0 L253.0,387.0 L254.6,387.0 L256.2,387.0 L257.8,387.0 L259.4,387.0 L261.0,387.0 L262.6,387.0 L264.2,387.0 L265.8,387.0 L267.4,387.0 L269.1,387.0 L270.7,387.0 L272.3,387.0 L273.9,387.0 L275.5,387.0 L277.1,387.0 L278.7,387.0 L280.3,387.0 L281.9,387.1 L283.5,387.1 L285.2,387.1 L286.8,387.1 L288.4,387.1 L290.0,387.1 L291.6,387.1 L293.2,387.1 L294.8,387.1 L296.4,387.1 L298.0,387.1 L299.6,387.1 L301.2,387.1 L302.9,387.1 L304.5,387.1 L306.1,387.1 L307.7,387.1 L309.3,387.1 L310.9,387.1 L312.5,387.1 L314.1,387.1 L315.7,387.1 L317.3,387.1 L318.9,387.1 L320.6,387.1 L322.2,387.1 L323.8,387.1 L325.4,387.1 L327.0,387.1 L328.6,387.1 L330.2,387.1 L331.8,387.1 L333.4,387.1 L335.0,387.1 L336.7,387.1 L338.3,387.1 L339.9,387.1 L341.5,387.1 L343.1,387.1 L344.7,387.1" stroke="#0000FF" stroke-width="2" stroke-dasharray="8.2 2.1 3.9 2.1" stroke-dashoffset="-0.8" fill="none"/>
<path d="M55.0,415.3 L55.1,408.7 L55.2,403.7 L55.2,399.7 L55.3,396.7 L55.4,394.2 L55.5,392.2 L55.6,390.5 L55.6,389.1 L55.7,387.9 L55.8,386.9 L55.9,386.0 L56.0,385.1 L56.0,384.4 L56.1,383.7 L56.2,383.1 L56.3,382.6 L56.4,382.1 L56.4,381.6 L56.5,381.2 L56.6,380.8 L56.7,380.4 L56.8,380.0 L56.9,379.7 L56.9,379.4 L57.0,379.1 L57.1,378.9 L57.2,378.7 L57.3,378.4 L57.3,378.2 L57.4,378.1 L57.5,377.9 L57.6,377.7 L57.7,377.6 L57.7,377.5 L57.8,377.4 L57.9,377.2 L58.0,377.1 L58.1,377.1 L58.1,377.0 L58.2,376.9 L58.3,376.8 L58.4,376.8 L58.5,376.7 L58.5,376.7 L58.6,376.7 L58.7,376.6 L58.8,376.6 L58.9,376.6 L58.9,376.6 L59.0,376.6 L59.1,376.6 L59.2,376.6 L59.3,376.6 L59.3,376.6 L59.4,376.6 L59.5,376.6 L59.6,376.6 L59.7,376.6 L59.7,376.6 L59.8,376.6 L59.9,376.7 L60.0,376.7 L60.1,376.7 L60.2,376.7 L60.2,376.8 L60.3,376.8 L60.4,376.8 L60.5,376.9 L60.6,376.9 L60.6,376.9 L60.7,377.0 L60.8,377.0 L60.9,377.1 L61.0,377.1 L61.0,377.1 L61.1,377.2 L61.2,377.2 L61.3,377.3 L61.4,377.3 L61.4,377.4 L61.5,377.4 L61.6,377.5 L61.7,377.5 L61.8,377.5 L61.8,377.6 L61.9,377.6 L62.0,377.7 L62.1,377.7 L62.2,377.8 L62.2,377.8 L62.3,377.9 L62.4,377.9 L62.5,378.0 L62.6,378.0 L62.6,378.1 L62.7,378.1 L62.8,378.2 L62.9,378.2 L63.0,378.3 L63.0,378.3 L63.1,378.4 L63.2,378.4 L63.3,378.5 L63.4,378.5 L63.4,378.6 L63.5,378.6 L63.6,378.7 L63.7,378.7 L63.8,378.8 L63.9,378.8 L63.9,378.9 L64.0,378.9 L64.1,379.0 L64.2,379.0 L64.3,379.1 L64.3,379.1 L64.4,379.2 L64.5,379.2 L64.6,379.3 L64.7,379.3 L64.7,379.4 L64.8,379.4 L64.9,379.5 L65.0,379.5 L65.1,379.6 L65.1,379.6 L65.2,379.7 L65.3,379.7 L65.4,379.8 L65.5,379.8 L65.5,379.9 L65.6,379.9 L65.7,380.0 L65.8,380.0 L65.9,380.1 L65.9,380.1 L66.0,380.2 L66.1,380.2 L66.2,380.3 L66.3,380.3 L66.3,380.3 L66.4,380.4 L66.5,380.4 L66.6,380.5 L66.7,380.5 L66.7,380.6 L66.8,380.6 L66.9,380.7 L67.0,380.7 L67.1,380.8 L67.2,380.8 L67.2,380.9 L67.3,380.9 L67.4,381.0 L67.5,381.0 L67.6,381.0 L67.6,381.1 L67.7,381.1 L67.8,381.2 L67.9,381.2 L68.0,381.3 L68.0,381.3 L68.1,381.4 L68.2,381.4 L68.3,381.5 L68.4,381.5 L68.4,381.5 L68.5,381.6 L68.6,381.6 L68.7,381.7 L68.8,381.7 L68.8,381.8 L68.9,381.8 L69.0,381.9 L69.1,381.9 L69.2,381.9 L69.2,382.0 L69.3,382.0 L69.4,382.1 L69.5,382.1 L69.6,382.2 L69.6,382.2 L69.7,382.2 L69.8,382.3 L69.9,382.3 L70.0,382.4 L70.0,382.4 L70.1,382.5 L70.2,382.5 L70.3,382.5 L70.4,382.6 L70.5,382.6 L70.5,382.7 L70.6,382.7 L70.7,382.8 L70.8,382.8 L70.9,382.8 L70.9,382.9 L71.0,382.9 L71.1,383.0 L71.5,383.2 L71.9,383.4 L72.3,383.6 L72.7,383.8 L73.1,384.0 L73.5,384.2 L73.9,384.3 L74.3,384.5 L74.7,384.7 L75.1,384.9 L75.5,385.1 L75.9,385.3 L76.3,385.4 L76.7,385.6 L77.1,385.8 L77.5,385.9 L77.9,386.1 L78.3,386.3 L78.7,386.4 L79.1,386.6 L79.5,386.8 L79.9,386.9 L80.3,387.1 L80.8,387.2 L81.2,387.4 L81.6,387.5 L82.0,387.7 L82.4,387.8 L82.8,388.0 L83.2,388.1 L83.6,388.2 L84.0,388.4 L84.4,388.5 L84.8,388.7 L85.2,388.8 L85.6,388.9 L86.0,389.1 L86.4,389.2 L86.8,389.3 L87.2,389.4 L87.6,389.6 L88.0,389.7 L88.4,389.8 L88.8,389.9 L89.2,390.0 L89.6,390.2 L90.0,390.3 L90.4,390.4 L90.8,390.5 L91.2,390.6 L91.6,390.7 L92.0,390.8 L92.4,390.9 L92.8,391.0 L93.2,391.1 L93.6,391.2 L94.0,391.3 L94.4,391.4 L94.8,391.5 L95.2,391.6 L95.6,391.7 L96.0,391.8 L96.4,391.9 L96.8,392.0 L97.2,392.1 L97.7,392.2 L98.1,392.3 L98.5,392.4 L98.9,392.5 L99.3,392.5 L99.7,392.6 L100.1,392.7 L100.5,392.8 L100.9,392.9 L101.3,393.0 L101.7,393.0 L102.1,393.1 L102.5,393.2 L102.9,393.3 L103.3,393.3 L103.7,393.4 L104.1,393.5 L104.5,393.6 L104.9,393.6 L105.3,393.7 L105.7,393.8 L106.1,393.8 L106.5,393.9 L106.9,394.0 L107.3,394.0 L107.7,394.1 L108.1,394.2 L108.5,394.2 L108.9,394.3 L109.3,394.4 L109.7,394.4 L110.1,394.5 L110.5,394.5 L110.9,394.6 L111.3,394.7 L111.7,394.7 L112.1,394.8 L112.5,394.8 L112.9,394.9 L113.3,394.9 L113.7,395.0 L114.1,395.1 L114.5,395.1 L115.0,395.2 L115.4,395.2 L115.8,395.3 L116.2,395.3 L116.6,395.4 L117.0,395.4 L117.4,395.5 L117.8,395.5 L118.2,395.6 L118.6,395.6 L119.0,395.7 L119.4,395.7 L121.0,395.9 L122.6,396.0 L124.2,396.2 L125.8,396.4 L127.4,396.5 L129.0,396.6 L130.6,396.8 L132.3,396.9 L133.9,397.0 L135.5,397.1 L137.1,397.2 L138.7,397.3 L140.3,397.4 L141.9,397.5 L143.5,397.6 L145.1,397.7 L146.7,397.8 L148.3,397.8 L150.0,397.9 L151.6,398.0 L153.2,398.0 L154.8,398.1 L156.4,398.2 L158.0,398.2 L159.6,398.3 L161.2,398.3 L162.8,398.4 L164.4,398.4 L166.1,398.5 L167.7,398.5 L169.3,398.5 L170.9,398.6 L172.5,398.6 L174.1,398.6 L175.7,398.7 L177.3,398.7 L178.9,398.7 L180.5,398.8 L182.1,398.8 L183.8,398.8 L185.4,398.8 L187.0,398.9 L188.6,398.9 L190.2,398.9 L191.8,398.9 L193.4,398.9 L195.0,399.0 L196.6,399.0 L198.2,399.0 L199.8,399.0 L201.5,399.0 L203.1,399.0 L204.7,399.0 L206.3,399.1 L207.9,399.1 L209.5,399.1 L211.1,399.1 L212.7,399.1 L214.3,399.1 L215.9,399.1 L217.6,399.1 L219.2,399.1 L220.8,399.1 L222.4,399.2 L224.0,399.2 L225.6,399.2 L227.2,399.2 L228.8,399.2 L230.4,399.2 L232.0,399.2 L233.6,399.2 L235.3,399.2 L236.9,399.2 L238.5,399.2 L240.1,399.2 L241.7,399.2 L243.3,399.2 L244.9,399.2 L246.5,399.2 L248.1,399.2 L249.7,399.2 L251.4,399.2 L253.0,399.2 L254.6,399.2 L256.2,399.2 L257.8,399.2 L259.4,399.2 L261.0,399.3 L262.6,399.3 L264.2,399.3 L265.8,399.3 L267.4,399.3 L269.1,399.3 L270.7,399.3 L272.3,399.3 L273.9,399.3 L275.5,399.3 L277.1,399.3 L278.7,399.3 L280.3,399.3 L281.9,399.3 L283.5,399.3 L285.2,399.3 L286.8,399.3 L288.4,399.3 L290.0,399.3 L291.6,399.3 L293.2,399.3 L294.8,399.3 L296.4,399.3 L298.0,399.3 L299.6,399.3 L301.2,399.3 L302.9,399.3 L304.5,399.3 L306.1,399.3 L307.7,399.3 L309.3,399.3 L310.9,399.3 L312.5,399.3 L314.1,399.3 L315.7,399.3 L317.3,399.3 L318.9,399.3 L320.6,399.3 L322.2,399.3 L323.8,399.3 L325.4,399.3 L327.0,399.3 L328.6,399.3 L330.2,399.3 L331.8,399.3 L333.4,399.3 L335.0,399.3 L336.7,399.3 L338.3,399.3 L339.9,399.3 L341.5,399.3 L343.1,399.3 L344.7,399.3" stroke="#EDB120" stroke-width="2.3" stroke-linejoin="round" stroke-linecap="round" fill="none"/><circle cx="55.00" cy="415.30" r="2.0" fill="#EDB120"/><circle cx="55.80" cy="386.89" r="2.0" fill="#EDB120"/><circle cx="56.61" cy="380.76" r="2.0" fill="#EDB120"/><path d="M57.4,378.1 L57.6,377.7 L57.7,377.5 L57.9,377.2 L58.1,377.1 L58.2,376.9 L58.4,376.8 L58.5,376.7 L58.7,376.6 L58.9,376.6 L59.0,376.6 L59.2,376.6 L59.3,376.6 L59.5,376.6 L59.7,376.6 L59.8,376.6 L60.0,376.7 L60.2,376.7 L60.3,376.8 L60.5,376.9 L60.6,376.9 L60.8,377.0 L61.0,377.1 L61.1,377.2 L61.3,377.3 L61.4,377.4 L61.6,377.5 L61.8,377.5 L61.9,377.6 L62.1,377.7 L62.2,377.8 L62.4,377.9 L62.6,378.0 L62.7,378.1 L62.9,378.2 L63.0,378.3 L63.2,378.4 L63.4,378.5 L63.5,378.6 L63.7,378.7 L63.9,378.8 L64.0,378.9 L64.2,379.0 L64.3,379.1 L64.5,379.2 L64.7,379.3 L64.8,379.4 L65.0,379.5 L65.1,379.6 L65.3,379.7 L65.5,379.8 L65.6,379.9 L65.8,380.0 L65.9,380.1 L66.1,380.2 L66.3,380.3 L66.4,380.4 L66.6,380.5 L66.7,380.6 L66.9,380.7 L67.1,380.8 L67.2,380.9 L67.4,381.0 L67.6,381.0 L67.7,381.1 L67.9,381.2 L68.0,381.3 L68.2,381.4 L68.4,381.5 L68.5,381.6 L68.7,381.7 L68.8,381.8 L69.0,381.9 L69.2,381.9 L69.3,382.0 L69.5,382.1 L69.6,382.2 L69.8,382.3 L70.0,382.4 L70.1,382.5 L70.3,382.5 L70.5,382.6 L70.6,382.7 L70.8,382.8 L70.9,382.9 L71.1,383.0 L71.9,383.4 L72.7,383.8 L73.5,384.2 L74.3,384.5 L75.1,384.9 L75.9,385.3 L76.7,385.6 L77.5,385.9 L78.3,386.3 L79.1,386.6 L79.9,386.9 L80.8,387.2 L81.6,387.5 L82.4,387.8 L83.2,388.1 L84.0,388.4 L84.8,388.7 L85.6,388.9 L86.4,389.2 L87.2,389.4 L88.0,389.7 L88.8,389.9 L89.6,390.2 L90.4,390.4 L91.2,390.6 L92.0,390.8 L92.8,391.0 L93.6,391.2 L94.4,391.4 L95.2,391.6 L96.0,391.8 L96.8,392.0 L97.7,392.2 L98.5,392.4 L99.3,392.5 L100.1,392.7 L100.9,392.9 L101.7,393.0 L102.5,393.2 L103.3,393.3 L104.1,393.5 L104.9,393.6 L105.7,393.8 L106.5,393.9 L107.3,394.0 L108.1,394.2 L108.9,394.3 L109.7,394.4 L110.5,394.5 L111.3,394.7 L112.1,394.8 L112.9,394.9 L113.7,395.0 L114.5,395.1 L115.4,395.2 L116.2,395.3 L117.0,395.4 L117.8,395.5 L118.6,395.6 L119.4,395.7 L122.6,396.0 L125.8,396.4 L129.0,396.6 L132.3,396.9 L135.5,397.1 L138.7,397.3 L141.9,397.5 L145.1,397.7 L148.3,397.8 L151.6,398.0 L154.8,398.1 L158.0,398.2 L161.2,398.3 L164.4,398.4 L167.7,398.5 L170.9,398.6 L174.1,398.6 L177.3,398.7 L180.5,398.8 L183.8,398.8 L187.0,398.9 L190.2,398.9 L193.4,398.9 L196.6,399.0 L199.8,399.0 L203.1,399.0 L206.3,399.1 L209.5,399.1 L212.7,399.1 L215.9,399.1 L219.2,399.1 L222.4,399.2 L225.6,399.2 L228.8,399.2 L232.0,399.2 L235.3,399.2 L238.5,399.2 L241.7,399.2 L244.9,399.2 L248.1,399.2 L251.4,399.2 L254.6,399.2 L257.8,399.2 L261.0,399.3 L264.2,399.3 L267.4,399.3 L270.7,399.3 L273.9,399.3 L277.1,399.3 L280.3,399.3 L283.5,399.3 L286.8,399.3 L290.0,399.3 L293.2,399.3 L296.4,399.3 L299.6,399.3 L302.9,399.3 L306.1,399.3 L309.3,399.3 L312.5,399.3 L315.7,399.3 L318.9,399.3 L322.2,399.3 L325.4,399.3 L328.6,399.3 L331.8,399.3 L335.0,399.3 L338.3,399.3 L341.5,399.3 L344.7,399.3" stroke="#EDB120" stroke-width="4.0" stroke-linejoin="round" stroke-linecap="round" fill="none"/>
<path d="M55.0,415.3 L55.1,415.2 L55.2,415.2 L55.2,415.1 L55.3,415.1 L55.4,415.0 L55.5,414.9 L55.6,414.8 L55.6,414.7 L55.7,414.6 L55.8,414.6 L55.9,414.4 L56.0,414.3 L56.0,414.2 L56.1,414.1 L56.2,414.0 L56.3,413.9 L56.4,413.7 L56.4,413.6 L56.5,413.5 L56.6,413.3 L56.7,413.2 L56.8,413.0 L56.9,412.9 L56.9,412.7 L57.0,412.6 L57.1,412.4 L57.2,412.3 L57.3,412.1 L57.3,411.9 L57.4,411.8 L57.5,411.6 L57.6,411.4 L57.7,411.2 L57.7,411.1 L57.8,410.9 L57.9,410.7 L58.0,410.5 L58.1,410.3 L58.1,410.1 L58.2,409.9 L58.3,409.7 L58.4,409.5 L58.5,409.3 L58.5,409.1 L58.6,408.9 L58.7,408.7 L58.8,408.5 L58.9,408.3 L58.9,408.1 L59.0,407.9 L59.1,407.7 L59.2,407.5 L59.3,407.3 L59.3,407.1 L59.4,406.9 L59.5,406.6 L59.6,406.4 L59.7,406.2 L59.7,406.0 L59.8,405.8 L59.9,405.6 L60.0,405.3 L60.1,405.1 L60.2,404.9 L60.2,404.7 L60.3,404.4 L60.4,404.2 L60.5,404.0 L60.6,403.8 L60.6,403.6 L60.7,403.3 L60.8,403.1 L60.9,402.9 L61.0,402.7 L61.0,402.4 L61.1,402.2 L61.2,402.0 L61.3,401.7 L61.4,401.5 L61.4,401.3 L61.5,401.1 L61.6,400.8 L61.7,400.6 L61.8,400.4 L61.8,400.2 L61.9,399.9 L62.0,399.7 L62.1,399.5 L62.2,399.2 L62.2,399.0 L62.3,398.8 L62.4,398.6 L62.5,398.3 L62.6,398.1 L62.6,397.9 L62.7,397.7 L62.8,397.4 L62.9,397.2 L63.0,397.0 L63.0,396.8 L63.1,396.5 L63.2,396.3 L63.3,396.1 L63.4,395.9 L63.4,395.7 L63.5,395.4 L63.6,395.2 L63.7,395.0 L63.8,394.8 L63.9,394.5 L63.9,394.3 L64.0,394.1 L64.1,393.9 L64.2,393.7 L64.3,393.5 L64.3,393.2 L64.4,393.0 L64.5,392.8 L64.6,392.6 L64.7,392.4 L64.7,392.2 L64.8,391.9 L64.9,391.7 L65.0,391.5 L65.1,391.3 L65.1,391.1 L65.2,390.9 L65.3,390.7 L65.4,390.5 L65.5,390.2 L65.5,390.0 L65.6,389.8 L65.7,389.6 L65.8,389.4 L65.9,389.2 L65.9,389.0 L66.0,388.8 L66.1,388.6 L66.2,388.4 L66.3,388.2 L66.3,388.0 L66.4,387.8 L66.5,387.6 L66.6,387.4 L66.7,387.2 L66.7,387.0 L66.8,386.8 L66.9,386.6 L67.0,386.4 L67.1,386.2 L67.2,386.0 L67.2,385.8 L67.3,385.6 L67.4,385.4 L67.5,385.2 L67.6,385.0 L67.6,384.8 L67.7,384.6 L67.8,384.5 L67.9,384.3 L68.0,384.1 L68.0,383.9 L68.1,383.7 L68.2,383.5 L68.3,383.3 L68.4,383.1 L68.4,383.0 L68.5,382.8 L68.6,382.6 L68.7,382.4 L68.8,382.2 L68.8,382.0 L68.9,381.9 L69.0,381.7 L69.1,381.5 L69.2,381.3 L69.2,381.1 L69.3,381.0 L69.4,380.8 L69.5,380.6 L69.6,380.4 L69.6,380.3 L69.7,380.1 L69.8,379.9 L69.9,379.8 L70.0,379.6 L70.0,379.4 L70.1,379.2 L70.2,379.1 L70.3,378.9 L70.4,378.7 L70.5,378.6 L70.5,378.4 L70.6,378.2 L70.7,378.1 L70.8,377.9 L70.9,377.7 L70.9,377.6 L71.0,377.4 L71.1,377.3 L71.5,376.5 L71.9,375.7 L72.3,374.9 L72.7,374.1 L73.1,373.4 L73.5,372.7 L73.9,372.0 L74.3,371.3 L74.7,370.6 L75.1,369.9 L75.5,369.3 L75.9,368.7 L76.3,368.0 L76.7,367.4 L77.1,366.8 L77.5,366.2 L77.9,365.6 L78.3,365.1 L78.7,364.5 L79.1,364.0 L79.5,363.4 L79.9,362.9 L80.3,362.4 L80.8,361.9 L81.2,361.4 L81.6,360.9 L82.0,360.4 L82.4,359.9 L82.8,359.5 L83.2,359.0 L83.6,358.6 L84.0,358.1 L84.4,357.7 L84.8,357.3 L85.2,356.9 L85.6,356.4 L86.0,356.0 L86.4,355.6 L86.8,355.3 L87.2,354.9 L87.6,354.5 L88.0,354.1 L88.4,353.8 L88.8,353.4 L89.2,353.0 L89.6,352.7 L90.0,352.3 L90.4,352.0 L90.8,351.7 L91.2,351.3 L91.6,351.0 L92.0,350.7 L92.4,350.4 L92.8,350.1 L93.2,349.8 L93.6,349.5 L94.0,349.2 L94.4,348.9 L94.8,348.6 L95.2,348.3 L95.6,348.0 L96.0,347.7 L96.4,347.5 L96.8,347.2 L97.2,346.9 L97.7,346.7 L98.1,346.4 L98.5,346.1 L98.9,345.9 L99.3,345.6 L99.7,345.4 L100.1,345.1 L100.5,344.9 L100.9,344.7 L101.3,344.4 L101.7,344.2 L102.1,344.0 L102.5,343.8 L102.9,343.5 L103.3,343.3 L103.7,343.1 L104.1,342.9 L104.5,342.7 L104.9,342.5 L105.3,342.3 L105.7,342.1 L106.1,341.9 L106.5,341.7 L106.9,341.5 L107.3,341.3 L107.7,341.1 L108.1,340.9 L108.5,340.7 L108.9,340.6 L109.3,340.4 L109.7,340.2 L110.1,340.0 L110.5,339.9 L110.9,339.7 L111.3,339.5 L111.7,339.3 L112.1,339.2 L112.5,339.0 L112.9,338.9 L113.3,338.7 L113.7,338.5 L114.1,338.4 L114.5,338.2 L115.0,338.1 L115.4,337.9 L115.8,337.8 L116.2,337.7 L116.6,337.5 L117.0,337.4 L117.4,337.2 L117.8,337.1 L118.2,337.0 L118.6,336.8 L119.0,336.7 L119.4,336.6 L121.0,336.1 L122.6,335.6 L124.2,335.1 L125.8,334.7 L127.4,334.3 L129.0,333.9 L130.6,333.5 L132.3,333.1 L133.9,332.8 L135.5,332.5 L137.1,332.2 L138.7,331.9 L140.3,331.6 L141.9,331.3 L143.5,331.1 L145.1,330.9 L146.7,330.6 L148.3,330.4 L150.0,330.2 L151.6,330.0 L153.2,329.8 L154.8,329.7 L156.4,329.5 L158.0,329.3 L159.6,329.2 L161.2,329.0 L162.8,328.9 L164.4,328.8 L166.1,328.6 L167.7,328.5 L169.3,328.4 L170.9,328.3 L172.5,328.2 L174.1,328.1 L175.7,328.0 L177.3,327.9 L178.9,327.8 L180.5,327.8 L182.1,327.7 L183.8,327.6 L185.4,327.5 L187.0,327.5 L188.6,327.4 L190.2,327.4 L191.8,327.3 L193.4,327.2 L195.0,327.2 L196.6,327.1 L198.2,327.1 L199.8,327.1 L201.5,327.0 L203.1,327.0 L204.7,326.9 L206.3,326.9 L207.9,326.9 L209.5,326.8 L211.1,326.8 L212.7,326.8 L214.3,326.8 L215.9,326.7 L217.6,326.7 L219.2,326.7 L220.8,326.7 L222.4,326.6 L224.0,326.6 L225.6,326.6 L227.2,326.6 L228.8,326.6 L230.4,326.5 L232.0,326.5 L233.6,326.5 L235.3,326.5 L236.9,326.5 L238.5,326.5 L240.1,326.5 L241.7,326.4 L243.3,326.4 L244.9,326.4 L246.5,326.4 L248.1,326.4 L249.7,326.4 L251.4,326.4 L253.0,326.4 L254.6,326.4 L256.2,326.4 L257.8,326.4 L259.4,326.3 L261.0,326.3 L262.6,326.3 L264.2,326.3 L265.8,326.3 L267.4,326.3 L269.1,326.3 L270.7,326.3 L272.3,326.3 L273.9,326.3 L275.5,326.3 L277.1,326.3 L278.7,326.3 L280.3,326.3 L281.9,326.3 L283.5,326.3 L285.2,326.3 L286.8,326.3 L288.4,326.3 L290.0,326.3 L291.6,326.3 L293.2,326.3 L294.8,326.3 L296.4,326.3 L298.0,326.3 L299.6,326.2 L301.2,326.2 L302.9,326.2 L304.5,326.2 L306.1,326.2 L307.7,326.2 L309.3,326.2 L310.9,326.2 L312.5,326.2 L314.1,326.2 L315.7,326.2 L317.3,326.2 L318.9,326.2 L320.6,326.2 L322.2,326.2 L323.8,326.2 L325.4,326.2 L327.0,326.2 L328.6,326.2 L330.2,326.2 L331.8,326.2 L333.4,326.2 L335.0,326.2 L336.7,326.2 L338.3,326.2 L339.9,326.2 L341.5,326.2 L343.1,326.2 L344.7,326.2" stroke="#FF0000" stroke-width="2" fill="none"/>
<path d="M55.0,264.3 L55.1,272.5 L55.2,279.4 L55.2,285.3 L55.3,290.4 L55.4,295.0 L55.5,299.2 L55.6,302.9 L55.6,306.4 L55.7,309.7 L55.8,312.7 L55.9,315.5 L56.0,318.2 L56.0,320.8 L56.1,323.2 L56.2,325.5 L56.3,327.7 L56.4,329.7 L56.4,331.7 L56.5,333.6 L56.6,335.4 L56.7,337.1 L56.8,338.8 L56.9,340.4 L56.9,341.9 L57.0,343.3 L57.1,344.7 L57.2,346.0 L57.3,347.2 L57.3,348.4 L57.4,349.6 L57.5,350.7 L57.6,351.7 L57.7,352.8 L57.7,353.7 L57.8,354.6 L57.9,355.5 L58.0,356.4 L58.1,357.2 L58.1,357.9 L58.2,358.7 L58.3,359.4 L58.4,360.1 L58.5,360.7 L58.5,361.4 L58.6,361.9 L58.7,362.5 L58.8,363.1 L58.9,363.6 L58.9,364.1 L59.0,364.6 L59.1,365.1 L59.2,365.5 L59.3,365.9 L59.3,366.4 L59.4,366.8 L59.5,367.1 L59.6,367.5 L59.7,367.9 L59.7,368.2 L59.8,368.5 L59.9,368.8 L60.0,369.1 L60.1,369.4 L60.2,369.7 L60.2,370.0 L60.3,370.2 L60.4,370.5 L60.5,370.7 L60.6,371.0 L60.6,371.2 L60.7,371.4 L60.8,371.6 L60.9,371.8 L61.0,372.0 L61.0,372.2 L61.1,372.4 L61.2,372.6 L61.3,372.8 L61.4,372.9 L61.4,373.1 L61.5,373.2 L61.6,373.4 L61.7,373.6 L61.8,373.7 L61.8,373.8 L61.9,374.0 L62.0,374.1 L62.1,374.2 L62.2,374.4 L62.2,374.5 L62.3,374.6 L62.4,374.7 L62.5,374.8 L62.6,374.9 L62.6,375.1 L62.7,375.2 L62.8,375.3 L62.9,375.4 L63.0,375.5 L63.0,375.6 L63.1,375.7 L63.2,375.8 L63.3,375.8 L63.4,375.9 L63.4,376.0 L63.5,376.1 L63.6,376.2 L63.7,376.3 L63.8,376.4 L63.9,376.4 L63.9,376.5 L64.0,376.6 L64.1,376.7 L64.2,376.7 L64.3,376.8 L64.3,376.9 L64.4,377.0 L64.5,377.0 L64.6,377.1 L64.7,377.2 L64.7,377.3 L64.8,377.3 L64.9,377.4 L65.0,377.5 L65.1,377.5 L65.1,377.6 L65.2,377.6 L65.3,377.7 L65.4,377.8 L65.5,377.8 L65.5,377.9 L65.6,378.0 L65.7,378.0 L65.8,378.1 L65.9,378.1 L65.9,378.2 L66.0,378.3 L66.1,378.3 L66.2,378.4 L66.3,378.4 L66.3,378.5 L66.4,378.5 L66.5,378.6 L66.6,378.7 L66.7,378.7 L66.7,378.8 L66.8,378.8 L66.9,378.9 L67.0,378.9 L67.1,379.0 L67.2,379.0 L67.2,379.1 L67.3,379.1 L67.4,379.2 L67.5,379.3 L67.6,379.3 L67.6,379.4 L67.7,379.4 L67.8,379.5 L67.9,379.5 L68.0,379.6 L68.0,379.6 L68.1,379.7 L68.2,379.7 L68.3,379.8 L68.4,379.8 L68.4,379.9 L68.5,379.9 L68.6,380.0 L68.7,380.0 L68.8,380.1 L68.8,380.1 L68.9,380.2 L69.0,380.2 L69.1,380.2 L69.2,380.3 L69.2,380.3 L69.3,380.4 L69.4,380.4 L69.5,380.5 L69.6,380.5 L69.6,380.6 L69.7,380.6 L69.8,380.7 L69.9,380.7 L70.0,380.8 L70.0,380.8 L70.1,380.9 L70.2,380.9 L70.3,380.9 L70.4,381.0 L70.5,381.0 L70.5,381.1 L70.6,381.1 L70.7,381.2 L70.8,381.2 L70.9,381.3 L70.9,381.3 L71.0,381.3 L71.1,381.4 L71.5,381.6 L71.9,381.8 L72.3,382.0 L72.7,382.2 L73.1,382.5 L73.5,382.7 L73.9,382.9 L74.3,383.1 L74.7,383.2 L75.1,383.4 L75.5,383.6 L75.9,383.8 L76.3,384.0 L76.7,384.2 L77.1,384.4 L77.5,384.5 L77.9,384.7 L78.3,384.9 L78.7,385.1 L79.1,385.2 L79.5,385.4 L79.9,385.6 L80.3,385.7 L80.8,385.9 L81.2,386.0 L81.6,386.2 L82.0,386.3 L82.4,386.5 L82.8,386.6 L83.2,386.8 L83.6,386.9 L84.0,387.1 L84.4,387.2 L84.8,387.4 L85.2,387.5 L85.6,387.6 L86.0,387.8 L86.4,387.9 L86.8,388.0 L87.2,388.2 L87.6,388.3 L88.0,388.4 L88.4,388.5 L88.8,388.6 L89.2,388.8 L89.6,388.9 L90.0,389.0 L90.4,389.1 L90.8,389.2 L91.2,389.3 L91.6,389.5 L92.0,389.6 L92.4,389.7 L92.8,389.8 L93.2,389.9 L93.6,390.0 L94.0,390.1 L94.4,390.2 L94.8,390.3 L95.2,390.4 L95.6,390.5 L96.0,390.6 L96.4,390.7 L96.8,390.8 L97.2,390.9 L97.7,390.9 L98.1,391.0 L98.5,391.1 L98.9,391.2 L99.3,391.3 L99.7,391.4 L100.1,391.5 L100.5,391.5 L100.9,391.6 L101.3,391.7 L101.7,391.8 L102.1,391.9 L102.5,391.9 L102.9,392.0 L103.3,392.1 L103.7,392.2 L104.1,392.2 L104.5,392.3 L104.9,392.4 L105.3,392.5 L105.7,392.5 L106.1,392.6 L106.5,392.7 L106.9,392.7 L107.3,392.8 L107.7,392.9 L108.1,392.9 L108.5,393.0 L108.9,393.0 L109.3,393.1 L109.7,393.2 L110.1,393.2 L110.5,393.3 L110.9,393.3 L111.3,393.4 L111.7,393.5 L112.1,393.5 L112.5,393.6 L112.9,393.6 L113.3,393.7 L113.7,393.7 L114.1,393.8 L114.5,393.8 L115.0,393.9 L115.4,393.9 L115.8,394.0 L116.2,394.0 L116.6,394.1 L117.0,394.1 L117.4,394.2 L117.8,394.2 L118.2,394.3 L118.6,394.3 L119.0,394.4 L119.4,394.4 L121.0,394.6 L122.6,394.7 L124.2,394.9 L125.8,395.0 L127.4,395.2 L129.0,395.3 L130.6,395.4 L132.3,395.5 L133.9,395.6 L135.5,395.7 L137.1,395.8 L138.7,395.9 L140.3,396.0 L141.9,396.1 L143.5,396.2 L145.1,396.3 L146.7,396.3 L148.3,396.4 L150.0,396.5 L151.6,396.5 L153.2,396.6 L154.8,396.6 L156.4,396.7 L158.0,396.7 L159.6,396.8 L161.2,396.8 L162.8,396.9 L164.4,396.9 L166.1,397.0 L167.7,397.0 L169.3,397.0 L170.9,397.1 L172.5,397.1 L174.1,397.1 L175.7,397.1 L177.3,397.2 L178.9,397.2 L180.5,397.2 L182.1,397.2 L183.8,397.3 L185.4,397.3 L187.0,397.3 L188.6,397.3 L190.2,397.3 L191.8,397.3 L193.4,397.4 L195.0,397.4 L196.6,397.4 L198.2,397.4 L199.8,397.4 L201.5,397.4 L203.1,397.4 L204.7,397.4 L206.3,397.5 L207.9,397.5 L209.5,397.5 L211.1,397.5 L212.7,397.5 L214.3,397.5 L215.9,397.5 L217.6,397.5 L219.2,397.5 L220.8,397.5 L222.4,397.5 L224.0,397.5 L225.6,397.5 L227.2,397.5 L228.8,397.5 L230.4,397.6 L232.0,397.6 L233.6,397.6 L235.3,397.6 L236.9,397.6 L238.5,397.6 L240.1,397.6 L241.7,397.6 L243.3,397.6 L244.9,397.6 L246.5,397.6 L248.1,397.6 L249.7,397.6 L251.4,397.6 L253.0,397.6 L254.6,397.6 L256.2,397.6 L257.8,397.6 L259.4,397.6 L261.0,397.6 L262.6,397.6 L264.2,397.6 L265.8,397.6 L267.4,397.6 L269.1,397.6 L270.7,397.6 L272.3,397.6 L273.9,397.6 L275.5,397.6 L277.1,397.6 L278.7,397.6 L280.3,397.6 L281.9,397.6 L283.5,397.6 L285.2,397.6 L286.8,397.6 L288.4,397.6 L290.0,397.6 L291.6,397.6 L293.2,397.6 L294.8,397.6 L296.4,397.6 L298.0,397.6 L299.6,397.6 L301.2,397.6 L302.9,397.6 L304.5,397.6 L306.1,397.6 L307.7,397.6 L309.3,397.6 L310.9,397.6 L312.5,397.6 L314.1,397.6 L315.7,397.6 L317.3,397.6 L318.9,397.6 L320.6,397.6 L322.2,397.6 L323.8,397.6 L325.4,397.6 L327.0,397.6 L328.6,397.6 L330.2,397.6 L331.8,397.6 L333.4,397.6 L335.0,397.6 L336.7,397.6 L338.3,397.6 L339.9,397.6 L341.5,397.6 L343.1,397.6 L344.7,397.6" stroke="#000000" stroke-width="2" stroke-dasharray="8.2 8.1" stroke-dashoffset="0.1" fill="none"/>
<text x="50.27" y="437.90" style="font-size:17px;font-weight:bold;fill:#1a1a1a">0</text>
<text x="77.73" y="437.90" style="font-size:17px;font-weight:bold;fill:#1a1a1a">20</text>
<text x="109.92" y="437.90" style="font-size:17px;font-weight:bold;fill:#1a1a1a">40</text>
<text x="174.30" y="437.90" style="font-size:17px;font-weight:bold;fill:#1a1a1a">80</text>
<path d="M228,0 L378,0 L378,710 L262,710 C232,652 155,622 52,612 L52,500 C122,505 182,520 228,548 Z" transform="translate(233.95,437.90) scale(0.01700,-0.01700)" fill="#1a1a1a"/><text x="243.41" y="437.90" style="font-size:17px;font-weight:bold;fill:#1a1a1a">20</text>
<path d="M228,0 L378,0 L378,710 L262,710 C232,652 155,622 52,612 L52,500 C122,505 182,520 228,548 Z" transform="translate(298.33,437.90) scale(0.01700,-0.01700)" fill="#1a1a1a"/><text x="307.78" y="437.90" style="font-size:17px;font-weight:bold;fill:#1a1a1a">60</text>
<path d="M228,0 L378,0 L378,710 L262,710 C232,652 155,622 52,612 L52,500 C122,505 182,520 228,548 Z" transform="translate(330.52,437.90) scale(0.01700,-0.01700)" fill="#1a1a1a"/><text x="339.97" y="437.90" style="font-size:17px;font-weight:bold;fill:#1a1a1a">80</text>
<text x="39.55" y="422.90" style="font-size:17px;font-weight:bold;fill:#1a1a1a">0</text>
<text x="25.37" y="347.40" style="font-size:17px;font-weight:bold;fill:#1a1a1a">0.5</text>
<path d="M228,0 L378,0 L378,710 L262,710 C232,652 155,622 52,612 L52,500 C122,505 182,520 228,548 Z" transform="translate(39.55,271.90) scale(0.01700,-0.01700)" fill="#1a1a1a"/>
<text x="88.40" y="282.50" style="font-size:17px;font-weight:bold;fill:#000">(c)</text>
<path d="M161.70,249.40 L175.90,249.40 L168.80,235.90 Z M163.90,247.90 L168.32,239.50 L172.74,247.90 Z" fill="#000" fill-rule="evenodd"/>
<text x="182.30" y="249.50" style="font-size:20px;font-weight:bold;fill:#000">T</text>
<rect x="199.50" y="242.05" width="9.3" height="2.05" rx="0.3" fill="#000"/><rect x="199.50" y="246.45" width="9.3" height="2.05" rx="0.3" fill="#000"/>
<text x="215.20" y="249.50" style="font-size:20px;font-weight:bold;fill:#000">T</text>
<text x="226.30" y="258.80" style="font-size:15.0px;font-weight:bold;fill:#000">M</text>
<line x1="412.81" y1="264.50" x2="412.81" y2="416.60" stroke="#ebebeb" stroke-width="1"/>
<line x1="444.92" y1="264.50" x2="444.92" y2="416.60" stroke="#ebebeb" stroke-width="1"/>
<line x1="509.14" y1="264.50" x2="509.14" y2="416.60" stroke="#ebebeb" stroke-width="1"/>
<line x1="573.37" y1="264.50" x2="573.37" y2="416.60" stroke="#ebebeb" stroke-width="1"/>
<line x1="637.59" y1="264.50" x2="637.59" y2="416.60" stroke="#ebebeb" stroke-width="1"/>
<line x1="380.50" y1="340.45" x2="670.00" y2="340.45" stroke="#ebebeb" stroke-width="1"/>
<rect x="380.50" y="264.50" width="289.50" height="152.10" fill="none" stroke="#262626" stroke-width="0.58"/>
<line x1="412.81" y1="416.60" x2="412.81" y2="413.60" stroke="#262626" stroke-width="0.58"/>
<line x1="412.81" y1="264.50" x2="412.81" y2="267.50" stroke="#262626" stroke-width="0.58"/>
<line x1="444.92" y1="416.60" x2="444.92" y2="413.60" stroke="#262626" stroke-width="0.58"/>
<line x1="444.92" y1="264.50" x2="444.92" y2="267.50" stroke="#262626" stroke-width="0.58"/>
<line x1="509.14" y1="416.60" x2="509.14" y2="413.60" stroke="#262626" stroke-width="0.58"/>
<line x1="509.14" y1="264.50" x2="509.14" y2="267.50" stroke="#262626" stroke-width="0.58"/>
<line x1="573.37" y1="416.60" x2="573.37" y2="413.60" stroke="#262626" stroke-width="0.58"/>
<line x1="573.37" y1="264.50" x2="573.37" y2="267.50" stroke="#262626" stroke-width="0.58"/>
<line x1="637.59" y1="416.60" x2="637.59" y2="413.60" stroke="#262626" stroke-width="0.58"/>
<line x1="637.59" y1="264.50" x2="637.59" y2="267.50" stroke="#262626" stroke-width="0.58"/>
<line x1="380.50" y1="340.45" x2="383.50" y2="340.45" stroke="#262626" stroke-width="0.58"/>
<line x1="670.00" y1="340.45" x2="667.00" y2="340.45" stroke="#262626" stroke-width="0.58"/>
<path d="M380.7,416.5 L380.8,408.8 L380.9,402.4 L380.9,397.0 L381.0,392.5 L381.1,388.7 L381.2,385.5 L381.3,382.7 L381.3,380.4 L381.4,378.4 L381.5,376.7 L381.6,375.2 L381.7,373.9 L381.7,372.7 L381.8,371.7 L381.9,370.8 L382.0,370.1 L382.1,369.3 L382.1,368.7 L382.2,368.1 L382.3,367.6 L382.4,367.1 L382.5,366.6 L382.5,366.2 L382.6,365.8 L382.7,365.4 L382.8,365.1 L382.9,364.7 L382.9,364.4 L383.0,364.1 L383.1,363.9 L383.2,363.6 L383.3,363.3 L383.3,363.1 L383.4,362.9 L383.5,362.7 L383.6,362.4 L383.7,362.2 L383.8,362.1 L383.8,361.9 L383.9,361.7 L384.0,361.5 L384.1,361.4 L384.2,361.2 L384.2,361.1 L384.3,360.9 L384.4,360.8 L384.5,360.7 L384.6,360.5 L384.6,360.4 L384.7,360.3 L384.8,360.2 L384.9,360.1 L385.0,360.0 L385.0,359.9 L385.1,359.8 L385.2,359.8 L385.3,359.7 L385.4,359.6 L385.4,359.5 L385.5,359.5 L385.6,359.4 L385.7,359.4 L385.8,359.3 L385.8,359.2 L385.9,359.2 L386.0,359.2 L386.1,359.1 L386.2,359.1 L386.2,359.0 L386.3,359.0 L386.4,359.0 L386.5,359.0 L386.6,358.9 L386.6,358.9 L386.7,358.9 L386.8,358.9 L386.9,358.9 L387.0,358.9 L387.0,358.9 L387.1,358.9 L387.2,358.9 L387.3,358.9 L387.4,358.9 L387.4,358.9 L387.5,358.9 L387.6,358.9 L387.7,358.9 L387.8,358.9 L387.8,358.9 L387.9,358.9 L388.0,358.9 L388.1,359.0 L388.2,359.0 L388.2,359.0 L388.3,359.0 L388.4,359.0 L388.5,359.1 L388.6,359.1 L388.6,359.1 L388.7,359.1 L388.8,359.2 L388.9,359.2 L389.0,359.2 L389.0,359.3 L389.1,359.3 L389.2,359.3 L389.3,359.4 L389.4,359.4 L389.5,359.4 L389.5,359.5 L389.6,359.5 L389.7,359.6 L389.8,359.6 L389.9,359.6 L389.9,359.7 L390.0,359.7 L390.1,359.8 L390.2,359.8 L390.3,359.9 L390.3,359.9 L390.4,360.0 L390.5,360.0 L390.6,360.1 L390.7,360.1 L390.7,360.2 L390.8,360.2 L390.9,360.3 L391.0,360.3 L391.1,360.4 L391.1,360.4 L391.2,360.5 L391.3,360.5 L391.4,360.6 L391.5,360.6 L391.5,360.7 L391.6,360.7 L391.7,360.8 L391.8,360.8 L391.9,360.9 L391.9,360.9 L392.0,361.0 L392.1,361.1 L392.2,361.1 L392.3,361.2 L392.3,361.2 L392.4,361.3 L392.5,361.3 L392.6,361.4 L392.7,361.5 L392.7,361.5 L392.8,361.6 L392.9,361.6 L393.0,361.7 L393.1,361.8 L393.1,361.8 L393.2,361.9 L393.3,361.9 L393.4,362.0 L393.5,362.1 L393.5,362.1 L393.6,362.2 L393.7,362.2 L393.8,362.3 L393.9,362.4 L393.9,362.4 L394.0,362.5 L394.1,362.5 L394.2,362.6 L394.3,362.7 L394.3,362.7 L394.4,362.8 L394.5,362.8 L394.6,362.9 L394.7,363.0 L394.7,363.0 L394.8,363.1 L394.9,363.2 L395.0,363.2 L395.1,363.3 L395.1,363.3 L395.2,363.4 L395.3,363.5 L395.4,363.5 L395.5,363.6 L395.6,363.7 L395.6,363.7 L395.7,363.8 L395.8,363.8 L395.9,363.9 L396.0,364.0 L396.0,364.0 L396.1,364.1 L396.2,364.1 L396.3,364.2 L396.4,364.3 L396.4,364.3 L396.5,364.4 L396.6,364.5 L396.7,364.5 L396.8,364.6 L397.2,364.9 L397.6,365.2 L398.0,365.5 L398.4,365.8 L398.8,366.1 L399.2,366.4 L399.6,366.8 L400.0,367.1 L400.4,367.4 L400.8,367.7 L401.2,368.0 L401.6,368.3 L402.0,368.6 L402.4,368.9 L402.8,369.2 L403.2,369.4 L403.6,369.7 L404.0,370.0 L404.4,370.3 L404.8,370.6 L405.2,370.9 L405.6,371.2 L406.0,371.5 L406.4,371.7 L406.8,372.0 L407.2,372.3 L407.6,372.6 L408.0,372.8 L408.4,373.1 L408.8,373.4 L409.2,373.6 L409.6,373.9 L410.0,374.2 L410.4,374.4 L410.8,374.7 L411.2,375.0 L411.6,375.2 L412.0,375.5 L412.4,375.7 L412.8,376.0 L413.2,376.2 L413.6,376.5 L414.0,376.7 L414.4,377.0 L414.8,377.2 L415.2,377.5 L415.6,377.7 L416.0,377.9 L416.4,378.2 L416.8,378.4 L417.2,378.7 L417.6,378.9 L418.0,379.1 L418.4,379.4 L418.8,379.6 L419.2,379.8 L419.6,380.0 L420.0,380.3 L420.4,380.5 L420.8,380.7 L421.2,380.9 L421.6,381.2 L422.0,381.4 L422.4,381.6 L422.8,381.8 L423.2,382.0 L423.6,382.2 L424.1,382.4 L424.5,382.7 L424.9,382.9 L425.3,383.1 L425.7,383.3 L426.1,383.5 L426.5,383.7 L426.9,383.9 L427.3,384.1 L427.7,384.3 L428.1,384.5 L428.5,384.7 L428.9,384.9 L429.3,385.1 L429.7,385.3 L430.1,385.5 L430.5,385.7 L430.9,385.8 L431.3,386.0 L431.7,386.2 L432.1,386.4 L432.5,386.6 L432.9,386.8 L433.3,387.0 L433.7,387.1 L434.1,387.3 L434.5,387.5 L434.9,387.7 L435.3,387.9 L435.7,388.0 L436.1,388.2 L436.5,388.4 L436.9,388.5 L437.3,388.7 L437.7,388.9 L438.1,389.1 L438.5,389.2 L438.9,389.4 L439.3,389.6 L439.7,389.7 L440.1,389.9 L440.5,390.1 L440.9,390.2 L441.3,390.4 L441.7,390.5 L442.1,390.7 L442.5,390.9 L442.9,391.0 L443.3,391.2 L443.7,391.3 L444.1,391.5 L444.5,391.6 L444.9,391.8 L446.5,392.4 L448.1,393.0 L449.7,393.5 L451.3,394.1 L452.9,394.6 L454.6,395.2 L456.2,395.7 L457.8,396.2 L459.4,396.7 L461.0,397.1 L462.6,397.6 L464.2,398.0 L465.8,398.5 L467.4,398.9 L469.0,399.3 L470.6,399.7 L472.2,400.1 L473.8,400.5 L475.4,400.9 L477.0,401.3 L478.6,401.6 L480.2,402.0 L481.9,402.3 L483.5,402.7 L485.1,403.0 L486.7,403.3 L488.3,403.6 L489.9,403.9 L491.5,404.2 L493.1,404.5 L494.7,404.8 L496.3,405.0 L497.9,405.3 L499.5,405.6 L501.1,405.8 L502.7,406.1 L504.3,406.3 L505.9,406.5 L507.5,406.8 L509.1,407.0 L510.8,407.2 L512.4,407.4 L514.0,407.6 L515.6,407.8 L517.2,408.0 L518.8,408.2 L520.4,408.4 L522.0,408.6 L523.6,408.7 L525.2,408.9 L526.8,409.1 L528.4,409.3 L530.0,409.4 L531.6,409.6 L533.2,409.7 L534.8,409.9 L536.4,410.0 L538.0,410.1 L539.7,410.3 L541.3,410.4 L542.9,410.5 L544.5,410.7 L546.1,410.8 L547.7,410.9 L549.3,411.0 L550.9,411.2 L552.5,411.3 L554.1,411.4 L555.7,411.5 L557.3,411.6 L558.9,411.7 L560.5,411.8 L562.1,411.9 L563.7,412.0 L565.3,412.1 L566.9,412.1 L568.6,412.2 L570.2,412.3 L571.8,412.4 L573.4,412.5 L575.0,412.6 L576.6,412.6 L578.2,412.7 L579.8,412.8 L581.4,412.9 L583.0,412.9 L584.6,413.0 L586.2,413.1 L587.8,413.1 L589.4,413.2 L591.0,413.2 L592.6,413.3 L594.2,413.4 L595.8,413.4 L597.5,413.5 L599.1,413.5 L600.7,413.6 L602.3,413.6 L603.9,413.7 L605.5,413.7 L607.1,413.8 L608.7,413.8 L610.3,413.9 L611.9,413.9 L613.5,413.9 L615.1,414.0 L616.7,414.0 L618.3,414.1 L619.9,414.1 L621.5,414.1 L623.1,414.2 L624.7,414.2 L626.4,414.2 L628.0,414.3 L629.6,414.3 L631.2,414.3 L632.8,414.4 L634.4,414.4 L636.0,414.4 L637.6,414.5 L639.2,414.5 L640.8,414.5 L642.4,414.5 L644.0,414.6 L645.6,414.6 L647.2,414.6 L648.8,414.6 L650.4,414.7 L652.0,414.7 L653.6,414.7 L655.2,414.7 L656.9,414.8 L658.5,414.8 L660.1,414.8 L661.7,414.8 L663.3,414.8 L664.9,414.9 L666.5,414.9 L668.1,414.9 L669.7,414.9" stroke="#0000FF" stroke-width="2" stroke-dasharray="8.2 2.1 3.9 2.1" stroke-dashoffset="-0.8" fill="none"/>
<path d="M380.7,416.5 L380.8,412.4 L380.9,408.6 L380.9,405.2 L381.0,402.2 L381.1,399.4 L381.2,396.9 L381.3,394.6 L381.3,392.5 L381.4,390.7 L381.5,389.0 L381.6,387.5 L381.7,386.1 L381.7,384.8 L381.8,383.7 L381.9,382.7 L382.0,381.8 L382.1,381.0 L382.1,380.2 L382.2,379.6 L382.3,379.0 L382.4,378.4 L382.5,378.0 L382.5,377.5 L382.6,377.2 L382.7,376.8 L382.8,376.5 L382.9,376.3 L382.9,376.0 L383.0,375.8 L383.1,375.6 L383.2,375.5 L383.3,375.3 L383.3,375.2 L383.4,375.1 L383.5,375.0 L383.6,375.0 L383.7,374.9 L383.8,374.9 L383.8,374.8 L383.9,374.8 L384.0,374.8 L384.1,374.8 L384.2,374.8 L384.2,374.8 L384.3,374.8 L384.4,374.8 L384.5,374.8 L384.6,374.9 L384.6,374.9 L384.7,374.9 L384.8,375.0 L384.9,375.0 L385.0,375.1 L385.0,375.1 L385.1,375.1 L385.2,375.2 L385.3,375.2 L385.4,375.3 L385.4,375.3 L385.5,375.4 L385.6,375.5 L385.7,375.5 L385.8,375.6 L385.8,375.6 L385.9,375.7 L386.0,375.7 L386.1,375.8 L386.2,375.9 L386.2,375.9 L386.3,376.0 L386.4,376.0 L386.5,376.1 L386.6,376.2 L386.6,376.2 L386.7,376.3 L386.8,376.3 L386.9,376.4 L387.0,376.5 L387.0,376.5 L387.1,376.6 L387.2,376.6 L387.3,376.7 L387.4,376.8 L387.4,376.8 L387.5,376.9 L387.6,376.9 L387.7,377.0 L387.8,377.1 L387.8,377.1 L387.9,377.2 L388.0,377.2 L388.1,377.3 L388.2,377.4 L388.2,377.4 L388.3,377.5 L388.4,377.5 L388.5,377.6 L388.6,377.7 L388.6,377.7 L388.7,377.8 L388.8,377.8 L388.9,377.9 L389.0,377.9 L389.0,378.0 L389.1,378.1 L389.2,378.1 L389.3,378.2 L389.4,378.2 L389.5,378.3 L389.5,378.3 L389.6,378.4 L389.7,378.5 L389.8,378.5 L389.9,378.6 L389.9,378.6 L390.0,378.7 L390.1,378.7 L390.2,378.8 L390.3,378.8 L390.3,378.9 L390.4,379.0 L390.5,379.0 L390.6,379.1 L390.7,379.1 L390.7,379.2 L390.8,379.2 L390.9,379.3 L391.0,379.3 L391.1,379.4 L391.1,379.4 L391.2,379.5 L391.3,379.5 L391.4,379.6 L391.5,379.7 L391.5,379.7 L391.6,379.8 L391.7,379.8 L391.8,379.9 L391.9,379.9 L391.9,380.0 L392.0,380.0 L392.1,380.1 L392.2,380.1 L392.3,380.2 L392.3,380.2 L392.4,380.3 L392.5,380.3 L392.6,380.4 L392.7,380.4 L392.7,380.5 L392.8,380.5 L392.9,380.6 L393.0,380.6 L393.1,380.7 L393.1,380.7 L393.2,380.8 L393.3,380.8 L393.4,380.9 L393.5,380.9 L393.5,381.0 L393.6,381.0 L393.7,381.1 L393.8,381.1 L393.9,381.2 L393.9,381.2 L394.0,381.3 L394.1,381.3 L394.2,381.4 L394.3,381.4 L394.3,381.5 L394.4,381.5 L394.5,381.6 L394.6,381.6 L394.7,381.7 L394.7,381.7 L394.8,381.8 L394.9,381.8 L395.0,381.8 L395.1,381.9 L395.1,381.9 L395.2,382.0 L395.3,382.0 L395.4,382.1 L395.5,382.1 L395.6,382.2 L395.6,382.2 L395.7,382.3 L395.8,382.3 L395.9,382.4 L396.0,382.4 L396.0,382.5 L396.1,382.5 L396.2,382.5 L396.3,382.6 L396.4,382.6 L396.4,382.7 L396.5,382.7 L396.6,382.8 L396.7,382.8 L396.8,382.9 L397.2,383.1 L397.6,383.3 L398.0,383.5 L398.4,383.8 L398.8,384.0 L399.2,384.2 L399.6,384.4 L400.0,384.6 L400.4,384.8 L400.8,385.0 L401.2,385.2 L401.6,385.4 L402.0,385.6 L402.4,385.8 L402.8,386.0 L403.2,386.2 L403.6,386.4 L404.0,386.6 L404.4,386.8 L404.8,387.0 L405.2,387.2 L405.6,387.4 L406.0,387.6 L406.4,387.7 L406.8,387.9 L407.2,388.1 L407.6,388.3 L408.0,388.5 L408.4,388.6 L408.8,388.8 L409.2,389.0 L409.6,389.2 L410.0,389.3 L410.4,389.5 L410.8,389.7 L411.2,389.8 L411.6,390.0 L412.0,390.2 L412.4,390.3 L412.8,390.5 L413.2,390.7 L413.6,390.8 L414.0,391.0 L414.4,391.2 L414.8,391.3 L415.2,391.5 L415.6,391.6 L416.0,391.8 L416.4,391.9 L416.8,392.1 L417.2,392.2 L417.6,392.4 L418.0,392.6 L418.4,392.7 L418.8,392.8 L419.2,393.0 L419.6,393.1 L420.0,393.3 L420.4,393.4 L420.8,393.6 L421.2,393.7 L421.6,393.9 L422.0,394.0 L422.4,394.1 L422.8,394.3 L423.2,394.4 L423.6,394.6 L424.1,394.7 L424.5,394.8 L424.9,395.0 L425.3,395.1 L425.7,395.2 L426.1,395.4 L426.5,395.5 L426.9,395.6 L427.3,395.8 L427.7,395.9 L428.1,396.0 L428.5,396.1 L428.9,396.3 L429.3,396.4 L429.7,396.5 L430.1,396.6 L430.5,396.8 L430.9,396.9 L431.3,397.0 L431.7,397.1 L432.1,397.2 L432.5,397.4 L432.9,397.5 L433.3,397.6 L433.7,397.7 L434.1,397.8 L434.5,397.9 L434.9,398.1 L435.3,398.2 L435.7,398.3 L436.1,398.4 L436.5,398.5 L436.9,398.6 L437.3,398.7 L437.7,398.8 L438.1,399.0 L438.5,399.1 L438.9,399.2 L439.3,399.3 L439.7,399.4 L440.1,399.5 L440.5,399.6 L440.9,399.7 L441.3,399.8 L441.7,399.9 L442.1,400.0 L442.5,400.1 L442.9,400.2 L443.3,400.3 L443.7,400.4 L444.1,400.5 L444.5,400.6 L444.9,400.7 L446.5,401.1 L448.1,401.5 L449.7,401.8 L451.3,402.2 L452.9,402.5 L454.6,402.9 L456.2,403.2 L457.8,403.5 L459.4,403.8 L461.0,404.1 L462.6,404.4 L464.2,404.7 L465.8,405.0 L467.4,405.3 L469.0,405.5 L470.6,405.8 L472.2,406.1 L473.8,406.3 L475.4,406.5 L477.0,406.8 L478.6,407.0 L480.2,407.2 L481.9,407.5 L483.5,407.7 L485.1,407.9 L486.7,408.1 L488.3,408.3 L489.9,408.5 L491.5,408.7 L493.1,408.8 L494.7,409.0 L496.3,409.2 L497.9,409.4 L499.5,409.5 L501.1,409.7 L502.7,409.8 L504.3,410.0 L505.9,410.1 L507.5,410.3 L509.1,410.4 L510.8,410.6 L512.4,410.7 L514.0,410.8 L515.6,411.0 L517.2,411.1 L518.8,411.2 L520.4,411.3 L522.0,411.4 L523.6,411.6 L525.2,411.7 L526.8,411.8 L528.4,411.9 L530.0,412.0 L531.6,412.1 L533.2,412.2 L534.8,412.3 L536.4,412.4 L538.0,412.4 L539.7,412.5 L541.3,412.6 L542.9,412.7 L544.5,412.8 L546.1,412.9 L547.7,412.9 L549.3,413.0 L550.9,413.1 L552.5,413.2 L554.1,413.2 L555.7,413.3 L557.3,413.4 L558.9,413.4 L560.5,413.5 L562.1,413.5 L563.7,413.6 L565.3,413.7 L566.9,413.7 L568.6,413.8 L570.2,413.8 L571.8,413.9 L573.4,413.9 L575.0,414.0 L576.6,414.0 L578.2,414.1 L579.8,414.1 L581.4,414.2 L583.0,414.2 L584.6,414.3 L586.2,414.3 L587.8,414.3 L589.4,414.4 L591.0,414.4 L592.6,414.4 L594.2,414.5 L595.8,414.5 L597.5,414.6 L599.1,414.6 L600.7,414.6 L602.3,414.7 L603.9,414.7 L605.5,414.7 L607.1,414.7 L608.7,414.8 L610.3,414.8 L611.9,414.8 L613.5,414.9 L615.1,414.9 L616.7,414.9 L618.3,414.9 L619.9,415.0 L621.5,415.0 L623.1,415.0 L624.7,415.0 L626.4,415.0 L628.0,415.1 L629.6,415.1 L631.2,415.1 L632.8,415.1 L634.4,415.2 L636.0,415.2 L637.6,415.2 L639.2,415.2 L640.8,415.2 L642.4,415.2 L644.0,415.3 L645.6,415.3 L647.2,415.3 L648.8,415.3 L650.4,415.3 L652.0,415.3 L653.6,415.3 L655.2,415.4 L656.9,415.4 L658.5,415.4 L660.1,415.4 L661.7,415.4 L663.3,415.4 L664.9,415.4 L666.5,415.4 L668.1,415.5 L669.7,415.5" stroke="#EDB120" stroke-width="2.3" stroke-linejoin="round" stroke-linecap="round" fill="none"/><circle cx="380.70" cy="416.50" r="2.0" fill="#EDB120"/><circle cx="381.50" cy="388.98" r="2.0" fill="#EDB120"/><circle cx="382.31" cy="378.98" r="2.0" fill="#EDB120"/><path d="M383.1,375.6 L383.3,375.3 L383.4,375.1 L383.6,375.0 L383.8,374.9 L383.9,374.8 L384.1,374.8 L384.2,374.8 L384.4,374.8 L384.6,374.9 L384.7,374.9 L384.9,375.0 L385.0,375.1 L385.2,375.2 L385.4,375.3 L385.5,375.4 L385.7,375.5 L385.8,375.6 L386.0,375.7 L386.2,375.9 L386.3,376.0 L386.5,376.1 L386.6,376.2 L386.8,376.3 L387.0,376.5 L387.1,376.6 L387.3,376.7 L387.4,376.8 L387.6,376.9 L387.8,377.1 L387.9,377.2 L388.1,377.3 L388.2,377.4 L388.4,377.5 L388.6,377.7 L388.7,377.8 L388.9,377.9 L389.0,378.0 L389.2,378.1 L389.4,378.2 L389.5,378.3 L389.7,378.5 L389.9,378.6 L390.0,378.7 L390.2,378.8 L390.3,378.9 L390.5,379.0 L390.7,379.1 L390.8,379.2 L391.0,379.3 L391.1,379.4 L391.3,379.5 L391.5,379.7 L391.6,379.8 L391.8,379.9 L391.9,380.0 L392.1,380.1 L392.3,380.2 L392.4,380.3 L392.6,380.4 L392.7,380.5 L392.9,380.6 L393.1,380.7 L393.2,380.8 L393.4,380.9 L393.5,381.0 L393.7,381.1 L393.9,381.2 L394.0,381.3 L394.2,381.4 L394.3,381.5 L394.5,381.6 L394.7,381.7 L394.8,381.8 L395.0,381.8 L395.1,381.9 L395.3,382.0 L395.5,382.1 L395.6,382.2 L395.8,382.3 L396.0,382.4 L396.1,382.5 L396.3,382.6 L396.4,382.7 L396.6,382.8 L396.8,382.9 L397.6,383.3 L398.4,383.8 L399.2,384.2 L400.0,384.6 L400.8,385.0 L401.6,385.4 L402.4,385.8 L403.2,386.2 L404.0,386.6 L404.8,387.0 L405.6,387.4 L406.4,387.7 L407.2,388.1 L408.0,388.5 L408.8,388.8 L409.6,389.2 L410.4,389.5 L411.2,389.8 L412.0,390.2 L412.8,390.5 L413.6,390.8 L414.4,391.2 L415.2,391.5 L416.0,391.8 L416.8,392.1 L417.6,392.4 L418.4,392.7 L419.2,393.0 L420.0,393.3 L420.8,393.6 L421.6,393.9 L422.4,394.1 L423.2,394.4 L424.1,394.7 L424.9,395.0 L425.7,395.2 L426.5,395.5 L427.3,395.8 L428.1,396.0 L428.9,396.3 L429.7,396.5 L430.5,396.8 L431.3,397.0 L432.1,397.2 L432.9,397.5 L433.7,397.7 L434.5,397.9 L435.3,398.2 L436.1,398.4 L436.9,398.6 L437.7,398.8 L438.5,399.1 L439.3,399.3 L440.1,399.5 L440.9,399.7 L441.7,399.9 L442.5,400.1 L443.3,400.3 L444.1,400.5 L444.9,400.7 L448.1,401.5 L451.3,402.2 L454.6,402.9 L457.8,403.5 L461.0,404.1 L464.2,404.7 L467.4,405.3 L470.6,405.8 L473.8,406.3 L477.0,406.8 L480.2,407.2 L483.5,407.7 L486.7,408.1 L489.9,408.5 L493.1,408.8 L496.3,409.2 L499.5,409.5 L502.7,409.8 L505.9,410.1 L509.1,410.4 L512.4,410.7 L515.6,411.0 L518.8,411.2 L522.0,411.4 L525.2,411.7 L528.4,411.9 L531.6,412.1 L534.8,412.3 L538.0,412.4 L541.3,412.6 L544.5,412.8 L547.7,412.9 L550.9,413.1 L554.1,413.2 L557.3,413.4 L560.5,413.5 L563.7,413.6 L566.9,413.7 L570.2,413.8 L573.4,413.9 L576.6,414.0 L579.8,414.1 L583.0,414.2 L586.2,414.3 L589.4,414.4 L592.6,414.4 L595.8,414.5 L599.1,414.6 L602.3,414.7 L605.5,414.7 L608.7,414.8 L611.9,414.8 L615.1,414.9 L618.3,414.9 L621.5,415.0 L624.7,415.0 L628.0,415.1 L631.2,415.1 L634.4,415.2 L637.6,415.2 L640.8,415.2 L644.0,415.3 L647.2,415.3 L650.4,415.3 L653.6,415.3 L656.9,415.4 L660.1,415.4 L663.3,415.4 L666.5,415.4 L669.7,415.5" stroke="#EDB120" stroke-width="4.0" stroke-linejoin="round" stroke-linecap="round" fill="none"/>
<path d="M380.7,416.5 L380.8,416.3 L380.9,416.2 L380.9,416.0 L381.0,415.8 L381.1,415.7 L381.2,415.5 L381.3,415.3 L381.3,415.2 L381.4,415.0 L381.5,414.8 L381.6,414.7 L381.7,414.5 L381.7,414.3 L381.8,414.2 L381.9,414.0 L382.0,413.8 L382.1,413.7 L382.1,413.5 L382.2,413.4 L382.3,413.2 L382.4,413.0 L382.5,412.9 L382.5,412.7 L382.6,412.5 L382.7,412.4 L382.8,412.2 L382.9,412.0 L382.9,411.9 L383.0,411.7 L383.1,411.5 L383.2,411.4 L383.3,411.2 L383.3,411.1 L383.4,410.9 L383.5,410.7 L383.6,410.6 L383.7,410.4 L383.8,410.2 L383.8,410.1 L383.9,409.9 L384.0,409.8 L384.1,409.6 L384.2,409.4 L384.2,409.3 L384.3,409.1 L384.4,408.9 L384.5,408.8 L384.6,408.6 L384.6,408.5 L384.7,408.3 L384.8,408.1 L384.9,408.0 L385.0,407.8 L385.0,407.7 L385.1,407.5 L385.2,407.3 L385.3,407.2 L385.4,407.0 L385.4,406.9 L385.5,406.7 L385.6,406.5 L385.7,406.4 L385.8,406.2 L385.8,406.1 L385.9,405.9 L386.0,405.7 L386.1,405.6 L386.2,405.4 L386.2,405.3 L386.3,405.1 L386.4,404.9 L386.5,404.8 L386.6,404.6 L386.6,404.5 L386.7,404.3 L386.8,404.1 L386.9,404.0 L387.0,403.8 L387.0,403.7 L387.1,403.5 L387.2,403.4 L387.3,403.2 L387.4,403.0 L387.4,402.9 L387.5,402.7 L387.6,402.6 L387.7,402.4 L387.8,402.3 L387.8,402.1 L387.9,401.9 L388.0,401.8 L388.1,401.6 L388.2,401.5 L388.2,401.3 L388.3,401.2 L388.4,401.0 L388.5,400.8 L388.6,400.7 L388.6,400.5 L388.7,400.4 L388.8,400.2 L388.9,400.1 L389.0,399.9 L389.0,399.8 L389.1,399.6 L389.2,399.4 L389.3,399.3 L389.4,399.1 L389.5,399.0 L389.5,398.8 L389.6,398.7 L389.7,398.5 L389.8,398.4 L389.9,398.2 L389.9,398.1 L390.0,397.9 L390.1,397.8 L390.2,397.6 L390.3,397.5 L390.3,397.3 L390.4,397.1 L390.5,397.0 L390.6,396.8 L390.7,396.7 L390.7,396.5 L390.8,396.4 L390.9,396.2 L391.0,396.1 L391.1,395.9 L391.1,395.8 L391.2,395.6 L391.3,395.5 L391.4,395.3 L391.5,395.2 L391.5,395.0 L391.6,394.9 L391.7,394.7 L391.8,394.6 L391.9,394.4 L391.9,394.3 L392.0,394.1 L392.1,394.0 L392.2,393.8 L392.3,393.7 L392.3,393.5 L392.4,393.4 L392.5,393.2 L392.6,393.1 L392.7,392.9 L392.7,392.8 L392.8,392.6 L392.9,392.5 L393.0,392.3 L393.1,392.2 L393.1,392.0 L393.2,391.9 L393.3,391.7 L393.4,391.6 L393.5,391.4 L393.5,391.3 L393.6,391.1 L393.7,391.0 L393.8,390.8 L393.9,390.7 L393.9,390.6 L394.0,390.4 L394.1,390.3 L394.2,390.1 L394.3,390.0 L394.3,389.8 L394.4,389.7 L394.5,389.5 L394.6,389.4 L394.7,389.2 L394.7,389.1 L394.8,388.9 L394.9,388.8 L395.0,388.7 L395.1,388.5 L395.1,388.4 L395.2,388.2 L395.3,388.1 L395.4,387.9 L395.5,387.8 L395.6,387.6 L395.6,387.5 L395.7,387.4 L395.8,387.2 L395.9,387.1 L396.0,386.9 L396.0,386.8 L396.1,386.6 L396.2,386.5 L396.3,386.4 L396.4,386.2 L396.4,386.1 L396.5,385.9 L396.6,385.8 L396.7,385.6 L396.8,385.5 L397.2,384.8 L397.6,384.1 L398.0,383.4 L398.4,382.7 L398.8,382.0 L399.2,381.3 L399.6,380.6 L400.0,379.9 L400.4,379.3 L400.8,378.6 L401.2,377.9 L401.6,377.2 L402.0,376.6 L402.4,375.9 L402.8,375.2 L403.2,374.6 L403.6,373.9 L404.0,373.3 L404.4,372.6 L404.8,372.0 L405.2,371.4 L405.6,370.7 L406.0,370.1 L406.4,369.5 L406.8,368.8 L407.2,368.2 L407.6,367.6 L408.0,367.0 L408.4,366.4 L408.8,365.8 L409.2,365.2 L409.6,364.6 L410.0,364.0 L410.4,363.4 L410.8,362.8 L411.2,362.2 L411.6,361.6 L412.0,361.0 L412.4,360.4 L412.8,359.9 L413.2,359.3 L413.6,358.7 L414.0,358.1 L414.4,357.6 L414.8,357.0 L415.2,356.5 L415.6,355.9 L416.0,355.4 L416.4,354.8 L416.8,354.3 L417.2,353.7 L417.6,353.2 L418.0,352.7 L418.4,352.1 L418.8,351.6 L419.2,351.1 L419.6,350.6 L420.0,350.0 L420.4,349.5 L420.8,349.0 L421.2,348.5 L421.6,348.0 L422.0,347.5 L422.4,347.0 L422.8,346.5 L423.2,346.0 L423.6,345.5 L424.1,345.0 L424.5,344.5 L424.9,344.0 L425.3,343.6 L425.7,343.1 L426.1,342.6 L426.5,342.1 L426.9,341.7 L427.3,341.2 L427.7,340.7 L428.1,340.3 L428.5,339.8 L428.9,339.3 L429.3,338.9 L429.7,338.4 L430.1,338.0 L430.5,337.5 L430.9,337.1 L431.3,336.7 L431.7,336.2 L432.1,335.8 L432.5,335.4 L432.9,334.9 L433.3,334.5 L433.7,334.1 L434.1,333.7 L434.5,333.2 L434.9,332.8 L435.3,332.4 L435.7,332.0 L436.1,331.6 L436.5,331.2 L436.9,330.8 L437.3,330.4 L437.7,330.0 L438.1,329.6 L438.5,329.2 L438.9,328.8 L439.3,328.4 L439.7,328.0 L440.1,327.6 L440.5,327.2 L440.9,326.8 L441.3,326.5 L441.7,326.1 L442.1,325.7 L442.5,325.3 L442.9,325.0 L443.3,324.6 L443.7,324.2 L444.1,323.9 L444.5,323.5 L444.9,323.2 L446.5,321.7 L448.1,320.4 L449.7,319.0 L451.3,317.7 L452.9,316.4 L454.6,315.1 L456.2,313.9 L457.8,312.7 L459.4,311.6 L461.0,310.4 L462.6,309.3 L464.2,308.2 L465.8,307.2 L467.4,306.1 L469.0,305.1 L470.6,304.1 L472.2,303.2 L473.8,302.2 L475.4,301.3 L477.0,300.4 L478.6,299.6 L480.2,298.7 L481.9,297.9 L483.5,297.1 L485.1,296.3 L486.7,295.5 L488.3,294.8 L489.9,294.0 L491.5,293.3 L493.1,292.6 L494.7,291.9 L496.3,291.3 L497.9,290.6 L499.5,290.0 L501.1,289.4 L502.7,288.8 L504.3,288.2 L505.9,287.6 L507.5,287.0 L509.1,286.5 L510.8,286.0 L512.4,285.4 L514.0,284.9 L515.6,284.4 L517.2,283.9 L518.8,283.5 L520.4,283.0 L522.0,282.6 L523.6,282.1 L525.2,281.7 L526.8,281.3 L528.4,280.9 L530.0,280.5 L531.6,280.1 L533.2,279.7 L534.8,279.3 L536.4,279.0 L538.0,278.6 L539.7,278.3 L541.3,277.9 L542.9,277.6 L544.5,277.3 L546.1,277.0 L547.7,276.7 L549.3,276.4 L550.9,276.1 L552.5,275.8 L554.1,275.5 L555.7,275.3 L557.3,275.0 L558.9,274.8 L560.5,274.5 L562.1,274.3 L563.7,274.0 L565.3,273.8 L566.9,273.6 L568.6,273.4 L570.2,273.1 L571.8,272.9 L573.4,272.7 L575.0,272.5 L576.6,272.3 L578.2,272.2 L579.8,272.0 L581.4,271.8 L583.0,271.6 L584.6,271.4 L586.2,271.3 L587.8,271.1 L589.4,271.0 L591.0,270.8 L592.6,270.7 L594.2,270.5 L595.8,270.4 L597.5,270.2 L599.1,270.1 L600.7,270.0 L602.3,269.8 L603.9,269.7 L605.5,269.6 L607.1,269.5 L608.7,269.3 L610.3,269.2 L611.9,269.1 L613.5,269.0 L615.1,268.9 L616.7,268.8 L618.3,268.7 L619.9,268.6 L621.5,268.5 L623.1,268.4 L624.7,268.3 L626.4,268.2 L628.0,268.1 L629.6,268.1 L631.2,268.0 L632.8,267.9 L634.4,267.8 L636.0,267.7 L637.6,267.7 L639.2,267.6 L640.8,267.5 L642.4,267.5 L644.0,267.4 L645.6,267.3 L647.2,267.3 L648.8,267.2 L650.4,267.1 L652.0,267.1 L653.6,267.0 L655.2,267.0 L656.9,266.9 L658.5,266.9 L660.1,266.8 L661.7,266.8 L663.3,266.7 L664.9,266.7 L666.5,266.6 L668.1,266.6 L669.7,266.5" stroke="#FF0000" stroke-width="2" fill="none"/>
<path d="M380.7,264.4 L380.8,271.4 L380.9,277.7 L380.9,283.6 L381.0,289.0 L381.1,294.1 L381.2,298.8 L381.3,303.2 L381.3,307.3 L381.4,311.2 L381.5,314.8 L381.6,318.3 L381.7,321.5 L381.7,324.5 L381.8,327.3 L381.9,330.0 L382.0,332.5 L382.1,334.9 L382.1,337.1 L382.2,339.2 L382.3,341.2 L382.4,343.1 L382.5,344.9 L382.5,346.5 L382.6,348.1 L382.7,349.6 L382.8,351.0 L382.9,352.3 L382.9,353.5 L383.0,354.7 L383.1,355.8 L383.2,356.8 L383.3,357.8 L383.3,358.7 L383.4,359.6 L383.5,360.5 L383.6,361.2 L383.7,362.0 L383.8,362.7 L383.8,363.3 L383.9,364.0 L384.0,364.6 L384.1,365.1 L384.2,365.6 L384.2,366.1 L384.3,366.6 L384.4,367.1 L384.5,367.5 L384.6,367.9 L384.6,368.3 L384.7,368.6 L384.8,369.0 L384.9,369.3 L385.0,369.6 L385.0,369.9 L385.1,370.2 L385.2,370.5 L385.3,370.7 L385.4,371.0 L385.4,371.2 L385.5,371.4 L385.6,371.6 L385.7,371.8 L385.8,372.0 L385.8,372.2 L385.9,372.4 L386.0,372.6 L386.1,372.7 L386.2,372.9 L386.2,373.0 L386.3,373.2 L386.4,373.3 L386.5,373.4 L386.6,373.6 L386.6,373.7 L386.7,373.8 L386.8,373.9 L386.9,374.0 L387.0,374.1 L387.0,374.2 L387.1,374.3 L387.2,374.4 L387.3,374.5 L387.4,374.6 L387.4,374.7 L387.5,374.8 L387.6,374.9 L387.7,374.9 L387.8,375.0 L387.8,375.1 L387.9,375.2 L388.0,375.2 L388.1,375.3 L388.2,375.4 L388.2,375.5 L388.3,375.5 L388.4,375.6 L388.5,375.7 L388.6,375.7 L388.6,375.8 L388.7,375.8 L388.8,375.9 L388.9,376.0 L389.0,376.0 L389.0,376.1 L389.1,376.1 L389.2,376.2 L389.3,376.3 L389.4,376.3 L389.5,376.4 L389.5,376.4 L389.6,376.5 L389.7,376.5 L389.8,376.6 L389.9,376.6 L389.9,376.7 L390.0,376.7 L390.1,376.8 L390.2,376.8 L390.3,376.9 L390.3,376.9 L390.4,377.0 L390.5,377.0 L390.6,377.1 L390.7,377.1 L390.7,377.2 L390.8,377.2 L390.9,377.3 L391.0,377.3 L391.1,377.4 L391.1,377.4 L391.2,377.5 L391.3,377.5 L391.4,377.6 L391.5,377.6 L391.5,377.7 L391.6,377.7 L391.7,377.8 L391.8,377.8 L391.9,377.9 L391.9,377.9 L392.0,377.9 L392.1,378.0 L392.2,378.0 L392.3,378.1 L392.3,378.1 L392.4,378.2 L392.5,378.2 L392.6,378.3 L392.7,378.3 L392.7,378.4 L392.8,378.4 L392.9,378.4 L393.0,378.5 L393.1,378.5 L393.1,378.6 L393.2,378.6 L393.3,378.7 L393.4,378.7 L393.5,378.8 L393.5,378.8 L393.6,378.8 L393.7,378.9 L393.8,378.9 L393.9,379.0 L393.9,379.0 L394.0,379.1 L394.1,379.1 L394.2,379.2 L394.3,379.2 L394.3,379.2 L394.4,379.3 L394.5,379.3 L394.6,379.4 L394.7,379.4 L394.7,379.5 L394.8,379.5 L394.9,379.5 L395.0,379.6 L395.1,379.6 L395.1,379.7 L395.2,379.7 L395.3,379.8 L395.4,379.8 L395.5,379.8 L395.6,379.9 L395.6,379.9 L395.7,380.0 L395.8,380.0 L395.9,380.1 L396.0,380.1 L396.0,380.1 L396.1,380.2 L396.2,380.2 L396.3,380.3 L396.4,380.3 L396.4,380.3 L396.5,380.4 L396.6,380.4 L396.7,380.5 L396.8,380.5 L397.2,380.7 L397.6,380.9 L398.0,381.1 L398.4,381.3 L398.8,381.5 L399.2,381.7 L399.6,381.9 L400.0,382.1 L400.4,382.3 L400.8,382.5 L401.2,382.7 L401.6,382.9 L402.0,383.1 L402.4,383.3 L402.8,383.5 L403.2,383.7 L403.6,383.9 L404.0,384.1 L404.4,384.3 L404.8,384.5 L405.2,384.6 L405.6,384.8 L406.0,385.0 L406.4,385.2 L406.8,385.4 L407.2,385.5 L407.6,385.7 L408.0,385.9 L408.4,386.1 L408.8,386.3 L409.2,386.4 L409.6,386.6 L410.0,386.8 L410.4,386.9 L410.8,387.1 L411.2,387.3 L411.6,387.5 L412.0,387.6 L412.4,387.8 L412.8,388.0 L413.2,388.1 L413.6,388.3 L414.0,388.4 L414.4,388.6 L414.8,388.8 L415.2,388.9 L415.6,389.1 L416.0,389.2 L416.4,389.4 L416.8,389.6 L417.2,389.7 L417.6,389.9 L418.0,390.0 L418.4,390.2 L418.8,390.3 L419.2,390.5 L419.6,390.6 L420.0,390.8 L420.4,390.9 L420.8,391.1 L421.2,391.2 L421.6,391.3 L422.0,391.5 L422.4,391.6 L422.8,391.8 L423.2,391.9 L423.6,392.1 L424.1,392.2 L424.5,392.3 L424.9,392.5 L425.3,392.6 L425.7,392.8 L426.1,392.9 L426.5,393.0 L426.9,393.2 L427.3,393.3 L427.7,393.4 L428.1,393.6 L428.5,393.7 L428.9,393.8 L429.3,393.9 L429.7,394.1 L430.1,394.2 L430.5,394.3 L430.9,394.5 L431.3,394.6 L431.7,394.7 L432.1,394.8 L432.5,395.0 L432.9,395.1 L433.3,395.2 L433.7,395.3 L434.1,395.4 L434.5,395.6 L434.9,395.7 L435.3,395.8 L435.7,395.9 L436.1,396.0 L436.5,396.2 L436.9,396.3 L437.3,396.4 L437.7,396.5 L438.1,396.6 L438.5,396.7 L438.9,396.8 L439.3,397.0 L439.7,397.1 L440.1,397.2 L440.5,397.3 L440.9,397.4 L441.3,397.5 L441.7,397.6 L442.1,397.7 L442.5,397.8 L442.9,397.9 L443.3,398.0 L443.7,398.1 L444.1,398.2 L444.5,398.3 L444.9,398.5 L446.5,398.9 L448.1,399.3 L449.7,399.6 L451.3,400.0 L452.9,400.4 L454.6,400.7 L456.2,401.1 L457.8,401.4 L459.4,401.8 L461.0,402.1 L462.6,402.4 L464.2,402.7 L465.8,403.0 L467.4,403.3 L469.0,403.6 L470.6,403.9 L472.2,404.2 L473.8,404.5 L475.4,404.7 L477.0,405.0 L478.6,405.2 L480.2,405.5 L481.9,405.7 L483.5,406.0 L485.1,406.2 L486.7,406.4 L488.3,406.6 L489.9,406.9 L491.5,407.1 L493.1,407.3 L494.7,407.5 L496.3,407.7 L497.9,407.9 L499.5,408.0 L501.1,408.2 L502.7,408.4 L504.3,408.6 L505.9,408.7 L507.5,408.9 L509.1,409.1 L510.8,409.2 L512.4,409.4 L514.0,409.5 L515.6,409.7 L517.2,409.8 L518.8,410.0 L520.4,410.1 L522.0,410.2 L523.6,410.4 L525.2,410.5 L526.8,410.6 L528.4,410.7 L530.0,410.9 L531.6,411.0 L533.2,411.1 L534.8,411.2 L536.4,411.3 L538.0,411.4 L539.7,411.5 L541.3,411.6 L542.9,411.7 L544.5,411.8 L546.1,411.9 L547.7,412.0 L549.3,412.1 L550.9,412.2 L552.5,412.3 L554.1,412.3 L555.7,412.4 L557.3,412.5 L558.9,412.6 L560.5,412.7 L562.1,412.7 L563.7,412.8 L565.3,412.9 L566.9,412.9 L568.6,413.0 L570.2,413.1 L571.8,413.1 L573.4,413.2 L575.0,413.3 L576.6,413.3 L578.2,413.4 L579.8,413.4 L581.4,413.5 L583.0,413.5 L584.6,413.6 L586.2,413.6 L587.8,413.7 L589.4,413.7 L591.0,413.8 L592.6,413.8 L594.2,413.9 L595.8,413.9 L597.5,414.0 L599.1,414.0 L600.7,414.1 L602.3,414.1 L603.9,414.1 L605.5,414.2 L607.1,414.2 L608.7,414.3 L610.3,414.3 L611.9,414.3 L613.5,414.4 L615.1,414.4 L616.7,414.4 L618.3,414.5 L619.9,414.5 L621.5,414.5 L623.1,414.6 L624.7,414.6 L626.4,414.6 L628.0,414.6 L629.6,414.7 L631.2,414.7 L632.8,414.7 L634.4,414.7 L636.0,414.8 L637.6,414.8 L639.2,414.8 L640.8,414.8 L642.4,414.9 L644.0,414.9 L645.6,414.9 L647.2,414.9 L648.8,415.0 L650.4,415.0 L652.0,415.0 L653.6,415.0 L655.2,415.0 L656.9,415.1 L658.5,415.1 L660.1,415.1 L661.7,415.1 L663.3,415.1 L664.9,415.1 L666.5,415.2 L668.1,415.2 L669.7,415.2" stroke="#000000" stroke-width="2" stroke-dasharray="8.2 8.1" stroke-dashoffset="0.1" fill="none"/>
<text x="375.97" y="439.10" style="font-size:17px;font-weight:bold;fill:#1a1a1a">0</text>
<text x="403.36" y="439.10" style="font-size:17px;font-weight:bold;fill:#1a1a1a">20</text>
<text x="435.47" y="439.10" style="font-size:17px;font-weight:bold;fill:#1a1a1a">40</text>
<text x="499.69" y="439.10" style="font-size:17px;font-weight:bold;fill:#1a1a1a">80</text>
<path d="M228,0 L378,0 L378,710 L262,710 C232,652 155,622 52,612 L52,500 C122,505 182,520 228,548 Z" transform="translate(559.18,439.10) scale(0.01700,-0.01700)" fill="#1a1a1a"/><text x="568.64" y="439.10" style="font-size:17px;font-weight:bold;fill:#1a1a1a">20</text>
<path d="M228,0 L378,0 L378,710 L262,710 C232,652 155,622 52,612 L52,500 C122,505 182,520 228,548 Z" transform="translate(623.41,439.10) scale(0.01700,-0.01700)" fill="#1a1a1a"/><text x="632.86" y="439.10" style="font-size:17px;font-weight:bold;fill:#1a1a1a">60</text>
<path d="M228,0 L378,0 L378,710 L262,710 C232,652 155,622 52,612 L52,500 C122,505 182,520 228,548 Z" transform="translate(655.52,439.10) scale(0.01700,-0.01700)" fill="#1a1a1a"/><text x="664.97" y="439.10" style="font-size:17px;font-weight:bold;fill:#1a1a1a">80</text>
<text x="365.55" y="424.20" style="font-size:17px;font-weight:bold;fill:#1a1a1a">0</text>
<text x="351.37" y="348.15" style="font-size:17px;font-weight:bold;fill:#1a1a1a">0.5</text>
<path d="M228,0 L378,0 L378,710 L262,710 C232,652 155,622 52,612 L52,500 C122,505 182,520 228,548 Z" transform="translate(365.55,272.10) scale(0.01700,-0.01700)" fill="#1a1a1a"/>
<text x="415.80" y="282.50" style="font-size:17px;font-weight:bold;fill:#000">(d)</text>
<path d="M481.90,248.50 L496.10,248.50 L489.00,235.00 Z M484.10,247.00 L488.52,238.60 L492.94,247.00 Z" fill="#000" fill-rule="evenodd"/>
<text x="503.00" y="248.60" style="font-size:20px;font-weight:bold;fill:#000">T</text>
<rect x="519.80" y="241.15" width="9.3" height="2.05" rx="0.3" fill="#000"/><rect x="519.80" y="245.55" width="9.3" height="2.05" rx="0.3" fill="#000"/>
<text x="534.60" y="248.60" style="font-size:20px;font-weight:bold;fill:#000">2T</text>
<text x="557.40" y="258.20" style="font-size:15.0px;font-weight:bold;fill:#000">M</text>
<ellipse cx="5.00" cy="108.10" rx="4.20" ry="2.90" transform="rotate(28 5.00 108.10)" fill="none" stroke="#1a1a1a" stroke-width="1.2"/><line x1="1.60" y1="108.70" x2="12.50" y2="113.00" stroke="#1a1a1a" stroke-width="1.5" stroke-linecap="round"/>
<g transform="translate(9.50,105.05) rotate(-90)"><text x="1.0" y="8.5" style="font-size:15px;font-weight:bold;fill:#1a1a1a">ii</text></g>
<ellipse cx="6.60" cy="342.85" rx="4.20" ry="2.90" transform="rotate(28 6.60 342.85)" fill="none" stroke="#1a1a1a" stroke-width="1.2"/><line x1="3.20" y1="343.45" x2="14.10" y2="347.75" stroke="#1a1a1a" stroke-width="1.5" stroke-linecap="round"/>
<g transform="translate(11.10,339.80) rotate(-90)"><text x="1.0" y="8.5" style="font-size:15px;font-weight:bold;fill:#1a1a1a">ii</text></g>
<path d="M318,718 L470,718 L470,245 C470,70 390,-18 245,-18 C95,-18 22,68 22,215 L22,262 L165,262 L165,228 C165,150 190,112 245,112 C298,112 318,150 318,238 Z" transform="translate(190.91,461.30) scale(0.0200,-0.0200)" fill="#1a1a1a"/>
<text x="202.03" y="461.30" style="font-size:20px;font-weight:bold;fill:#1a1a1a">t</text>
<path d="M318,718 L470,718 L470,245 C470,70 390,-18 245,-18 C95,-18 22,68 22,215 L22,262 L165,262 L165,228 C165,150 190,112 245,112 C298,112 318,150 318,238 Z" transform="translate(516.11,462.50) scale(0.0200,-0.0200)" fill="#1a1a1a"/>
<text x="527.23" y="462.50" style="font-size:20px;font-weight:bold;fill:#1a1a1a">t</text>
<rect x="604.5" y="274.0" width="53.0" height="125.19999999999999" fill="#fff" stroke="#262626" stroke-width="0.6"/>
<path d="M606.8,291 L631.6,291" stroke="#0000FF" stroke-width="2" stroke-dasharray="8.2 2.1 3.9 2.1" stroke-dashoffset="-0.8" fill="none"/>
<ellipse cx="638.90" cy="289.85" rx="2.20" ry="2.75" transform="rotate(22 638.90 289.85)" fill="none" stroke="#000" stroke-width="1.1"/><line x1="637.10" y1="289.40" x2="635.20" y2="295.70" stroke="#000" stroke-width="1.4" stroke-linecap="round"/>
<path d="M228,0 L378,0 L378,710 L262,710 C232,652 155,622 52,612 L52,500 C122,505 182,520 228,548 Z" transform="translate(642.30,300.40) scale(0.01160,-0.01160)" fill="#000"/><path d="M228,0 L378,0 L378,710 L262,710 C232,652 155,622 52,612 L52,500 C122,505 182,520 228,548 Z" transform="translate(648.75,300.40) scale(0.01160,-0.01160)" fill="#000"/>
<circle cx="619.3" cy="321.5" r="2" fill="#EDB120"/>
<path d="M606.8,321.5 L631.6,321.5" stroke="#EDB120" stroke-width="2.4" fill="none"/>
<ellipse cx="638.90" cy="320.35" rx="2.20" ry="2.75" transform="rotate(22 638.90 320.35)" fill="none" stroke="#000" stroke-width="1.1"/><line x1="637.10" y1="319.90" x2="635.20" y2="326.20" stroke="#000" stroke-width="1.4" stroke-linecap="round"/>
<text x="642.30" y="330.90" style="font-size:11.6px;font-weight:bold;fill:#000">22</text>
<path d="M606.8,352 L631.6,352" stroke="#FF0000" stroke-width="2" fill="none"/>
<ellipse cx="638.90" cy="350.85" rx="2.20" ry="2.75" transform="rotate(22 638.90 350.85)" fill="none" stroke="#000" stroke-width="1.1"/><line x1="637.10" y1="350.40" x2="635.20" y2="356.70" stroke="#000" stroke-width="1.4" stroke-linecap="round"/>
<text x="642.30" y="361.40" style="font-size:11.6px;font-weight:bold;fill:#000">33</text>
<path d="M606.8,383 L631.6,383" stroke="#000000" stroke-width="2" stroke-dasharray="8.2 8.1" stroke-dashoffset="0.1" fill="none"/>
<ellipse cx="638.90" cy="381.85" rx="2.20" ry="2.75" transform="rotate(22 638.90 381.85)" fill="none" stroke="#000" stroke-width="1.1"/><line x1="637.10" y1="381.40" x2="635.20" y2="387.70" stroke="#000" stroke-width="1.4" stroke-linecap="round"/>
<text x="642.30" y="392.40" style="font-size:11.6px;font-weight:bold;fill:#000">44</text>
</svg></body></html>
